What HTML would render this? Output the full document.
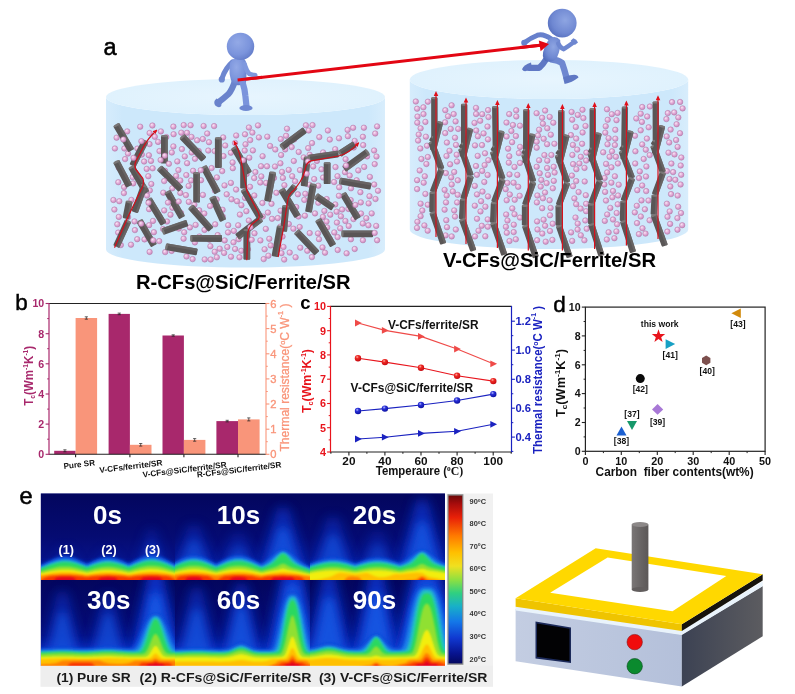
<!DOCTYPE html>
<html><head><meta charset="utf-8"><title>Figure</title>
<style>
html,body{margin:0;padding:0;background:#fff;}
body{width:795px;height:694px;overflow:hidden;font-family:"Liberation Sans",sans-serif;}
svg{display:block;font-family:"Liberation Sans",sans-serif;filter:blur(0.45px);}
</style></head><body>
<svg width="795" height="694" viewBox="0 0 795 694">
<defs>

<radialGradient id="pk" cx="0.38" cy="0.35" r="0.7">
 <stop offset="0" stop-color="#f9e6f4"/><stop offset="0.5" stop-color="#e2aad7"/><stop offset="1" stop-color="#c688ba"/>
</radialGradient>
<linearGradient id="cylbody" x1="0" x2="1" y1="0" y2="0">
 <stop offset="0" stop-color="#d6ecfc"/><stop offset="0.06" stop-color="#cde8fb"/><stop offset="0.94" stop-color="#cde8fb"/><stop offset="1" stop-color="#d8edfc"/>
</linearGradient>
<radialGradient id="cyltop" cx="0.5" cy="0.5" r="0.6">
 <stop offset="0" stop-color="#e7f5fe"/><stop offset="1" stop-color="#def1fd"/>
</radialGradient>
<radialGradient id="blu" cx="0.4" cy="0.35" r="0.75">
 <stop offset="0" stop-color="#93a9e6"/><stop offset="0.6" stop-color="#7b94dc"/><stop offset="1" stop-color="#5d76c4"/>
</radialGradient>
<radialGradient id="blu2" cx="0.6" cy="0.4" r="0.75">
 <stop offset="0" stop-color="#8ea5e2"/><stop offset="0.6" stop-color="#6f88d2"/><stop offset="1" stop-color="#4c65b6"/>
</radialGradient>
<linearGradient id="fib" x1="0" x2="1" y1="0" y2="0">
 <stop offset="0" stop-color="#6a6666"/><stop offset="0.5" stop-color="#575353"/><stop offset="1" stop-color="#4a4646"/>
</linearGradient>
<symbol id="p" viewBox="-4 -4 8 8" overflow="visible"><circle r="2.75" fill="url(#pk)" stroke="#ae74a3" stroke-width="0.5"/></symbol>

<marker id="ah" viewBox="0 0 10 10" refX="7" refY="5" markerWidth="3.6" markerHeight="3.6" orient="auto"><path d="M0,0.5 L10,5 L0,9.5 Z" fill="#e0101a"/></marker>
<marker id="ah2" viewBox="0 0 10 10" refX="6" refY="5" markerWidth="4.6" markerHeight="4.2" orient="auto"><path d="M0,0.5 L10,5 L0,9.5 Z" fill="#e0101a"/></marker>

<radialGradient id="rs" cx="0.38" cy="0.32" r="0.7"><stop offset="0" stop-color="#ffb0a8"/><stop offset="0.35" stop-color="#ee2a24"/><stop offset="1" stop-color="#c40810"/></radialGradient>
<radialGradient id="bs" cx="0.38" cy="0.32" r="0.7"><stop offset="0" stop-color="#b8bcff"/><stop offset="0.35" stop-color="#2830d8"/><stop offset="1" stop-color="#0c10a0"/></radialGradient>


<linearGradient id="navy" x1="0" x2="0" y1="0" y2="1">
 <stop offset="0" stop-color="#03065e"/><stop offset="0.5" stop-color="#050b72"/><stop offset="1" stop-color="#08189a"/>
</linearGradient>
<filter id="bl1" x="-10%" y="-10%" width="120%" height="120%"><feGaussianBlur stdDeviation="0.9"/></filter>
<filter id="bl2" x="-10%" y="-10%" width="120%" height="120%"><feGaussianBlur stdDeviation="1.8"/></filter>
<filter id="bl4" x="-30%" y="-30%" width="160%" height="160%"><feGaussianBlur stdDeviation="4"/></filter>
<filter id="bl6" x="-30%" y="-30%" width="160%" height="160%"><feGaussianBlur stdDeviation="6"/></filter>

<clipPath id="cl00"><rect x="41" y="493.5" width="134.0" height="86.5"/></clipPath>
<clipPath id="cl10"><rect x="175" y="493.5" width="135.0" height="86.5"/></clipPath>
<clipPath id="cl20"><rect x="310" y="493.5" width="135.0" height="86.5"/></clipPath>
<clipPath id="cl01"><rect x="41" y="580" width="134.0" height="86.0"/></clipPath>
<clipPath id="cl11"><rect x="175" y="580" width="135.0" height="86.0"/></clipPath>
<clipPath id="cl21"><rect x="310" y="580" width="135.0" height="86.0"/></clipPath>
<linearGradient id="cbar" x1="0" x2="0" y1="0" y2="1">
<stop offset="0" stop-color="#6e0808"/><stop offset="0.05" stop-color="#a80c0c"/><stop offset="0.13" stop-color="#e82008"/>
<stop offset="0.24" stop-color="#ff7a00"/><stop offset="0.34" stop-color="#ffc000"/><stop offset="0.42" stop-color="#f0e020"/>
<stop offset="0.50" stop-color="#90e040"/><stop offset="0.58" stop-color="#30d080"/><stop offset="0.66" stop-color="#18b0c8"/>
<stop offset="0.75" stop-color="#1478e8"/><stop offset="0.85" stop-color="#1038d0"/><stop offset="0.94" stop-color="#081490"/><stop offset="1" stop-color="#040860"/>
</linearGradient>

<linearGradient id="hside" x1="0" x2="1" y1="0" y2="0"><stop offset="0" stop-color="#3c4253"/><stop offset="1" stop-color="#5c5c60"/></linearGradient>
<linearGradient id="hfront" x1="0" x2="1" y1="0" y2="0"><stop offset="0" stop-color="#c3cde2"/><stop offset="1" stop-color="#b4c0da"/></linearGradient>
<linearGradient id="rod" x1="0" x2="1" y1="0" y2="0"><stop offset="0" stop-color="#7a7676"/><stop offset="0.5" stop-color="#6a6666"/><stop offset="1" stop-color="#5c5858"/></linearGradient>

</defs>
<g id="panelA">
<text x="103.5" y="55" font-size="23.5" font-weight="normal" fill="#000" text-anchor="start" stroke="#000" stroke-width="0.55">a</text>
<path d="M106.0,97 L106.0,249.5 A139.5,18 0 0 0 385.0,249.5 L385.0,97 A139.5,18 0 0 1 106.0,97Z" fill="url(#cylbody)"/><ellipse cx="245.5" cy="97" rx="139.5" ry="18" fill="url(#cyltop)"/>
<path d="M409.8,79.5 L409.8,229.5 A139.2,19.5 0 0 0 688.2,229.5 L688.2,79.5 A139.2,19.5 0 0 1 409.8,79.5Z" fill="url(#cylbody)"/><ellipse cx="549" cy="79.5" rx="139.2" ry="19.5" fill="url(#cyltop)"/>
<g>
<use href="#p" x="193.1" y="136.3" width="8" height="8"/><use href="#p" x="283.0" y="124.7" width="8" height="8"/><use href="#p" x="251.4" y="168.1" width="8" height="8"/><use href="#p" x="119.9" y="189.1" width="8" height="8"/><use href="#p" x="114.3" y="178.2" width="8" height="8"/><use href="#p" x="123.2" y="127.4" width="8" height="8"/><use href="#p" x="220.7" y="236.4" width="8" height="8"/><use href="#p" x="364.6" y="199.4" width="8" height="8"/><use href="#p" x="116.8" y="241.1" width="8" height="8"/><use href="#p" x="263.9" y="208.6" width="8" height="8"/><use href="#p" x="120.4" y="144.5" width="8" height="8"/><use href="#p" x="291.1" y="177.3" width="8" height="8"/><use href="#p" x="190.4" y="200.7" width="8" height="8"/><use href="#p" x="228.6" y="158.4" width="8" height="8"/><use href="#p" x="322.5" y="217.5" width="8" height="8"/><use href="#p" x="344.7" y="222.0" width="8" height="8"/><use href="#p" x="136.5" y="175.9" width="8" height="8"/><use href="#p" x="145.8" y="186.4" width="8" height="8"/><use href="#p" x="114.8" y="212.9" width="8" height="8"/><use href="#p" x="314.3" y="198.8" width="8" height="8"/><use href="#p" x="267.5" y="199.8" width="8" height="8"/><use href="#p" x="229.5" y="238.3" width="8" height="8"/><use href="#p" x="182.3" y="171.1" width="8" height="8"/><use href="#p" x="231.0" y="138.9" width="8" height="8"/><use href="#p" x="136.2" y="122.7" width="8" height="8"/><use href="#p" x="315.3" y="133.1" width="8" height="8"/><use href="#p" x="172.1" y="171.9" width="8" height="8"/><use href="#p" x="343.6" y="125.9" width="8" height="8"/><use href="#p" x="227.5" y="195.3" width="8" height="8"/><use href="#p" x="346.9" y="235.3" width="8" height="8"/><use href="#p" x="341.6" y="155.2" width="8" height="8"/><use href="#p" x="218.2" y="167.1" width="8" height="8"/><use href="#p" x="145.5" y="140.1" width="8" height="8"/><use href="#p" x="167.8" y="148.5" width="8" height="8"/><use href="#p" x="237.4" y="201.2" width="8" height="8"/><use href="#p" x="259.7" y="255.1" width="8" height="8"/><use href="#p" x="293.9" y="190.3" width="8" height="8"/><use href="#p" x="273.8" y="214.1" width="8" height="8"/><use href="#p" x="318.5" y="243.4" width="8" height="8"/><use href="#p" x="148.6" y="164.3" width="8" height="8"/><use href="#p" x="145.6" y="129.0" width="8" height="8"/><use href="#p" x="344.4" y="204.9" width="8" height="8"/><use href="#p" x="144.9" y="151.3" width="8" height="8"/><use href="#p" x="232.1" y="185.6" width="8" height="8"/><use href="#p" x="198.2" y="153.2" width="8" height="8"/><use href="#p" x="365.5" y="192.2" width="8" height="8"/><use href="#p" x="341.4" y="217.0" width="8" height="8"/><use href="#p" x="149.9" y="228.2" width="8" height="8"/><use href="#p" x="250.5" y="229.3" width="8" height="8"/><use href="#p" x="194.7" y="147.0" width="8" height="8"/><use href="#p" x="325.7" y="235.1" width="8" height="8"/><use href="#p" x="180.8" y="152.4" width="8" height="8"/><use href="#p" x="227.0" y="252.7" width="8" height="8"/><use href="#p" x="204.3" y="146.6" width="8" height="8"/><use href="#p" x="160.2" y="206.4" width="8" height="8"/><use href="#p" x="235.9" y="210.6" width="8" height="8"/><use href="#p" x="323.9" y="126.5" width="8" height="8"/><use href="#p" x="285.7" y="248.6" width="8" height="8"/><use href="#p" x="195.4" y="232.5" width="8" height="8"/><use href="#p" x="212.9" y="173.4" width="8" height="8"/><use href="#p" x="364.4" y="221.3" width="8" height="8"/><use href="#p" x="150.8" y="132.8" width="8" height="8"/><use href="#p" x="145.6" y="247.9" width="8" height="8"/><use href="#p" x="325.8" y="135.6" width="8" height="8"/><use href="#p" x="284.7" y="165.9" width="8" height="8"/><use href="#p" x="254.9" y="133.4" width="8" height="8"/><use href="#p" x="282.7" y="191.9" width="8" height="8"/><use href="#p" x="223.3" y="243.0" width="8" height="8"/><use href="#p" x="331.2" y="145.2" width="8" height="8"/><use href="#p" x="173.3" y="157.4" width="8" height="8"/><use href="#p" x="219.2" y="133.4" width="8" height="8"/><use href="#p" x="354.3" y="166.4" width="8" height="8"/><use href="#p" x="352.7" y="176.3" width="8" height="8"/><use href="#p" x="356.4" y="188.2" width="8" height="8"/><use href="#p" x="250.3" y="191.5" width="8" height="8"/><use href="#p" x="234.2" y="221.3" width="8" height="8"/><use href="#p" x="257.0" y="162.2" width="8" height="8"/><use href="#p" x="246.5" y="196.2" width="8" height="8"/><use href="#p" x="180.2" y="228.3" width="8" height="8"/><use href="#p" x="272.4" y="188.8" width="8" height="8"/><use href="#p" x="244.8" y="216.5" width="8" height="8"/><use href="#p" x="235.5" y="253.3" width="8" height="8"/><use href="#p" x="296.3" y="243.7" width="8" height="8"/><use href="#p" x="363.1" y="152.4" width="8" height="8"/><use href="#p" x="335.0" y="134.3" width="8" height="8"/><use href="#p" x="124.0" y="149.6" width="8" height="8"/><use href="#p" x="124.1" y="213.1" width="8" height="8"/><use href="#p" x="350.7" y="136.9" width="8" height="8"/><use href="#p" x="300.9" y="211.7" width="8" height="8"/><use href="#p" x="370.1" y="146.5" width="8" height="8"/><use href="#p" x="365.9" y="172.9" width="8" height="8"/><use href="#p" x="222.7" y="190.3" width="8" height="8"/><use href="#p" x="191.6" y="220.9" width="8" height="8"/><use href="#p" x="109.4" y="196.0" width="8" height="8"/><use href="#p" x="195.2" y="206.3" width="8" height="8"/><use href="#p" x="244.9" y="123.5" width="8" height="8"/><use href="#p" x="371.2" y="129.5" width="8" height="8"/><use href="#p" x="220.1" y="248.9" width="8" height="8"/><use href="#p" x="356.8" y="198.4" width="8" height="8"/><use href="#p" x="278.5" y="232.6" width="8" height="8"/><use href="#p" x="127.0" y="240.7" width="8" height="8"/><use href="#p" x="228.8" y="164.2" width="8" height="8"/><use href="#p" x="169.6" y="130.2" width="8" height="8"/><use href="#p" x="148.4" y="121.5" width="8" height="8"/><use href="#p" x="312.9" y="156.9" width="8" height="8"/><use href="#p" x="241.5" y="140.3" width="8" height="8"/><use href="#p" x="133.2" y="235.2" width="8" height="8"/><use href="#p" x="333.5" y="172.2" width="8" height="8"/><use href="#p" x="332.9" y="218.6" width="8" height="8"/><use href="#p" x="278.9" y="173.9" width="8" height="8"/><use href="#p" x="199.6" y="122.0" width="8" height="8"/><use href="#p" x="184.6" y="182.0" width="8" height="8"/><use href="#p" x="147.3" y="180.0" width="8" height="8"/><use href="#p" x="371.5" y="195.0" width="8" height="8"/><use href="#p" x="189.1" y="166.8" width="8" height="8"/><use href="#p" x="159.3" y="188.7" width="8" height="8"/><use href="#p" x="128.7" y="173.1" width="8" height="8"/><use href="#p" x="187.7" y="148.5" width="8" height="8"/><use href="#p" x="265.0" y="192.3" width="8" height="8"/><use href="#p" x="284.8" y="220.0" width="8" height="8"/><use href="#p" x="345.7" y="171.6" width="8" height="8"/><use href="#p" x="145.1" y="221.2" width="8" height="8"/><use href="#p" x="333.7" y="246.0" width="8" height="8"/><use href="#p" x="276.5" y="222.6" width="8" height="8"/><use href="#p" x="333.6" y="233.1" width="8" height="8"/><use href="#p" x="331.3" y="200.4" width="8" height="8"/><use href="#p" x="349.5" y="215.1" width="8" height="8"/><use href="#p" x="294.7" y="148.0" width="8" height="8"/><use href="#p" x="112.6" y="133.7" width="8" height="8"/><use href="#p" x="203.2" y="129.5" width="8" height="8"/><use href="#p" x="276.6" y="206.7" width="8" height="8"/><use href="#p" x="289.8" y="157.0" width="8" height="8"/><use href="#p" x="246.0" y="182.8" width="8" height="8"/><use href="#p" x="232.2" y="131.5" width="8" height="8"/><use href="#p" x="349.8" y="143.5" width="8" height="8"/><use href="#p" x="370.2" y="180.5" width="8" height="8"/><use href="#p" x="177.9" y="145.1" width="8" height="8"/><use href="#p" x="143.0" y="191.6" width="8" height="8"/><use href="#p" x="140.5" y="235.4" width="8" height="8"/><use href="#p" x="243.9" y="245.3" width="8" height="8"/><use href="#p" x="167.6" y="246.9" width="8" height="8"/><use href="#p" x="142.7" y="164.9" width="8" height="8"/><use href="#p" x="190.9" y="238.4" width="8" height="8"/><use href="#p" x="358.8" y="219.5" width="8" height="8"/><use href="#p" x="179.7" y="121.1" width="8" height="8"/><use href="#p" x="182.5" y="252.5" width="8" height="8"/><use href="#p" x="206.7" y="255.5" width="8" height="8"/><use href="#p" x="277.5" y="249.2" width="8" height="8"/><use href="#p" x="301.9" y="121.3" width="8" height="8"/><use href="#p" x="305.4" y="180.7" width="8" height="8"/><use href="#p" x="311.0" y="209.4" width="8" height="8"/><use href="#p" x="358.9" y="132.8" width="8" height="8"/><use href="#p" x="185.9" y="223.4" width="8" height="8"/><use href="#p" x="372.5" y="152.5" width="8" height="8"/><use href="#p" x="257.3" y="172.4" width="8" height="8"/><use href="#p" x="161.2" y="248.1" width="8" height="8"/><use href="#p" x="240.7" y="146.6" width="8" height="8"/><use href="#p" x="156.9" y="127.4" width="8" height="8"/><use href="#p" x="260.6" y="245.3" width="8" height="8"/><use href="#p" x="310.2" y="175.1" width="8" height="8"/><use href="#p" x="207.6" y="164.1" width="8" height="8"/><use href="#p" x="121.1" y="155.1" width="8" height="8"/><use href="#p" x="242.4" y="207.2" width="8" height="8"/><use href="#p" x="358.9" y="236.2" width="8" height="8"/><use href="#p" x="291.6" y="253.3" width="8" height="8"/><use href="#p" x="314.3" y="181.7" width="8" height="8"/><use href="#p" x="319.1" y="148.4" width="8" height="8"/><use href="#p" x="357.0" y="209.5" width="8" height="8"/><use href="#p" x="187.5" y="132.9" width="8" height="8"/><use href="#p" x="210.7" y="147.1" width="8" height="8"/><use href="#p" x="367.7" y="209.4" width="8" height="8"/><use href="#p" x="347.0" y="184.3" width="8" height="8"/><use href="#p" x="219.5" y="152.1" width="8" height="8"/><use href="#p" x="197.0" y="176.2" width="8" height="8"/><use href="#p" x="323.2" y="223.4" width="8" height="8"/><use href="#p" x="370.7" y="160.1" width="8" height="8"/><use href="#p" x="155.5" y="147.1" width="8" height="8"/><use href="#p" x="218.7" y="212.5" width="8" height="8"/><use href="#p" x="144.3" y="172.2" width="8" height="8"/><use href="#p" x="120.5" y="172.2" width="8" height="8"/><use href="#p" x="200.7" y="255.4" width="8" height="8"/><use href="#p" x="161.0" y="166.8" width="8" height="8"/><use href="#p" x="330.1" y="178.0" width="8" height="8"/><use href="#p" x="113.6" y="123.3" width="8" height="8"/><use href="#p" x="174.7" y="224.6" width="8" height="8"/><use href="#p" x="191.0" y="154.8" width="8" height="8"/><use href="#p" x="168.3" y="184.3" width="8" height="8"/><use href="#p" x="359.2" y="141.1" width="8" height="8"/><use href="#p" x="330.3" y="228.4" width="8" height="8"/><use href="#p" x="271.0" y="162.5" width="8" height="8"/><use href="#p" x="226.9" y="148.7" width="8" height="8"/><use href="#p" x="218.6" y="205.8" width="8" height="8"/><use href="#p" x="289.4" y="224.7" width="8" height="8"/><use href="#p" x="336.9" y="212.3" width="8" height="8"/><use href="#p" x="184.8" y="197.9" width="8" height="8"/><use href="#p" x="263.0" y="162.3" width="8" height="8"/><use href="#p" x="326.3" y="210.7" width="8" height="8"/><use href="#p" x="234.6" y="235.2" width="8" height="8"/><use href="#p" x="264.4" y="251.7" width="8" height="8"/><use href="#p" x="206.4" y="242.2" width="8" height="8"/><use href="#p" x="322.7" y="195.1" width="8" height="8"/><use href="#p" x="212.7" y="195.4" width="8" height="8"/><use href="#p" x="149.0" y="216.9" width="8" height="8"/><use href="#p" x="188.6" y="255.1" width="8" height="8"/><use href="#p" x="304.2" y="144.1" width="8" height="8"/><use href="#p" x="215.7" y="244.7" width="8" height="8"/><use href="#p" x="181.9" y="191.1" width="8" height="8"/><use href="#p" x="210.7" y="247.8" width="8" height="8"/><use href="#p" x="165.1" y="173.9" width="8" height="8"/><use href="#p" x="137.8" y="150.6" width="8" height="8"/><use href="#p" x="303.3" y="246.8" width="8" height="8"/><use href="#p" x="115.3" y="197.2" width="8" height="8"/><use href="#p" x="276.4" y="159.3" width="8" height="8"/><use href="#p" x="226.9" y="178.9" width="8" height="8"/><use href="#p" x="110.4" y="205.6" width="8" height="8"/><use href="#p" x="314.0" y="229.4" width="8" height="8"/><use href="#p" x="129.2" y="179.4" width="8" height="8"/><use href="#p" x="305.7" y="229.1" width="8" height="8"/><use href="#p" x="242.6" y="169.9" width="8" height="8"/><use href="#p" x="374.0" y="186.8" width="8" height="8"/><use href="#p" x="359.9" y="123.7" width="8" height="8"/><use href="#p" x="200.5" y="225.9" width="8" height="8"/><use href="#p" x="179.6" y="234.7" width="8" height="8"/><use href="#p" x="176.3" y="188.9" width="8" height="8"/><use href="#p" x="154.1" y="137.9" width="8" height="8"/><use href="#p" x="308.5" y="121.1" width="8" height="8"/><use href="#p" x="145.1" y="205.2" width="8" height="8"/><use href="#p" x="166.5" y="210.7" width="8" height="8"/><use href="#p" x="279.5" y="243.0" width="8" height="8"/><use href="#p" x="319.1" y="173.5" width="8" height="8"/><use href="#p" x="200.3" y="209.5" width="8" height="8"/><use href="#p" x="305.7" y="150.8" width="8" height="8"/><use href="#p" x="250.2" y="174.1" width="8" height="8"/><use href="#p" x="169.4" y="122.6" width="8" height="8"/><use href="#p" x="186.6" y="121.2" width="8" height="8"/><use href="#p" x="336.2" y="224.3" width="8" height="8"/><use href="#p" x="114.7" y="163.7" width="8" height="8"/><use href="#p" x="299.7" y="153.4" width="8" height="8"/><use href="#p" x="256.3" y="178.5" width="8" height="8"/><use href="#p" x="177.0" y="209.0" width="8" height="8"/><use href="#p" x="168.9" y="224.1" width="8" height="8"/><use href="#p" x="309.2" y="162.4" width="8" height="8"/><use href="#p" x="294.5" y="212.5" width="8" height="8"/><use href="#p" x="224.2" y="221.2" width="8" height="8"/><use href="#p" x="198.8" y="135.0" width="8" height="8"/><use href="#p" x="295.7" y="223.0" width="8" height="8"/><use href="#p" x="349.1" y="123.8" width="8" height="8"/><use href="#p" x="342.6" y="249.3" width="8" height="8"/><use href="#p" x="183.0" y="128.8" width="8" height="8"/><use href="#p" x="130.9" y="226.1" width="8" height="8"/><use href="#p" x="338.1" y="205.5" width="8" height="8"/><use href="#p" x="224.0" y="228.4" width="8" height="8"/><use href="#p" x="163.0" y="217.5" width="8" height="8"/><use href="#p" x="241.0" y="130.3" width="8" height="8"/><use href="#p" x="320.4" y="206.9" width="8" height="8"/><use href="#p" x="110.9" y="144.5" width="8" height="8"/><use href="#p" x="308.0" y="139.1" width="8" height="8"/><use href="#p" x="263.3" y="132.7" width="8" height="8"/><use href="#p" x="231.1" y="245.0" width="8" height="8"/><use href="#p" x="169.4" y="142.4" width="8" height="8"/><use href="#p" x="372.2" y="221.9" width="8" height="8"/><use href="#p" x="133.4" y="144.6" width="8" height="8"/><use href="#p" x="213.7" y="231.1" width="8" height="8"/><use href="#p" x="270.0" y="173.9" width="8" height="8"/><use href="#p" x="261.8" y="224.9" width="8" height="8"/><use href="#p" x="280.4" y="181.2" width="8" height="8"/><use href="#p" x="277.1" y="151.0" width="8" height="8"/><use href="#p" x="220.5" y="181.4" width="8" height="8"/><use href="#p" x="154.3" y="210.9" width="8" height="8"/><use href="#p" x="210.9" y="186.5" width="8" height="8"/><use href="#p" x="301.3" y="189.8" width="8" height="8"/><use href="#p" x="296.0" y="166.1" width="8" height="8"/><use href="#p" x="307.9" y="253.1" width="8" height="8"/><use href="#p" x="248.9" y="146.4" width="8" height="8"/><use href="#p" x="162.3" y="133.1" width="8" height="8"/><use href="#p" x="233.0" y="197.2" width="8" height="8"/><use href="#p" x="221.2" y="141.5" width="8" height="8"/><use href="#p" x="332.6" y="207.7" width="8" height="8"/><use href="#p" x="317.5" y="165.3" width="8" height="8"/><use href="#p" x="318.9" y="212.9" width="8" height="8"/><use href="#p" x="346.7" y="196.1" width="8" height="8"/><use href="#p" x="120.1" y="183.1" width="8" height="8"/><use href="#p" x="241.0" y="193.9" width="8" height="8"/><use href="#p" x="335.2" y="183.3" width="8" height="8"/><use href="#p" x="258.7" y="212.5" width="8" height="8"/><use href="#p" x="207.1" y="176.0" width="8" height="8"/><use href="#p" x="360.2" y="162.9" width="8" height="8"/><use href="#p" x="237.3" y="246.8" width="8" height="8"/><use href="#p" x="113.3" y="220.3" width="8" height="8"/><use href="#p" x="341.0" y="168.2" width="8" height="8"/><use href="#p" x="256.4" y="236.4" width="8" height="8"/><use href="#p" x="254.0" y="121.4" width="8" height="8"/><use href="#p" x="321.0" y="248.7" width="8" height="8"/><use href="#p" x="268.0" y="214.8" width="8" height="8"/><use href="#p" x="229.9" y="226.9" width="8" height="8"/><use href="#p" x="114.2" y="228.6" width="8" height="8"/><use href="#p" x="205.4" y="235.7" width="8" height="8"/><use href="#p" x="258.6" y="152.2" width="8" height="8"/><use href="#p" x="187.1" y="176.4" width="8" height="8"/><use href="#p" x="281.2" y="145.4" width="8" height="8"/><use href="#p" x="304.7" y="126.5" width="8" height="8"/><use href="#p" x="262.1" y="178.9" width="8" height="8"/><use href="#p" x="290.1" y="135.4" width="8" height="8"/><use href="#p" x="331.5" y="163.1" width="8" height="8"/><use href="#p" x="292.3" y="203.1" width="8" height="8"/><use href="#p" x="176.3" y="176.5" width="8" height="8"/><use href="#p" x="265.3" y="234.8" width="8" height="8"/><use href="#p" x="127.4" y="195.9" width="8" height="8"/><use href="#p" x="159.1" y="225.0" width="8" height="8"/><use href="#p" x="168.4" y="203.8" width="8" height="8"/>
<g transform="translate(116.2,124.7) rotate(59.8)"><rect x="0" y="-3.40" width="30.0" height="6.8" rx="1.2" fill="#5a5656"/><rect x="0" y="-3.40" width="30.0" height="2.38" rx="1" fill="#6c6868" opacity="0.8"/><ellipse cx="0.6" cy="0" rx="1.2" ry="3.40" fill="#7a7676"/></g><g transform="translate(145.4,140.9) rotate(117.6)"><rect x="0" y="-3.40" width="28.1" height="6.8" rx="1.2" fill="#5a5656"/><rect x="0" y="-3.40" width="28.1" height="2.38" rx="1" fill="#6c6868" opacity="0.8"/><ellipse cx="0.6" cy="0" rx="1.2" ry="3.40" fill="#7a7676"/></g><g transform="translate(164.4,135.5) rotate(90.0)"><rect x="0" y="-3.40" width="28.1" height="6.8" rx="1.2" fill="#5a5656"/><rect x="0" y="-3.40" width="28.1" height="2.38" rx="1" fill="#6c6868" opacity="0.8"/><ellipse cx="0.6" cy="0" rx="1.2" ry="3.40" fill="#7a7676"/></g><g transform="translate(182.0,136.5) rotate(46.3)"><rect x="0" y="-3.40" width="31.8" height="6.8" rx="1.2" fill="#5a5656"/><rect x="0" y="-3.40" width="31.8" height="2.38" rx="1" fill="#6c6868" opacity="0.8"/><ellipse cx="0.6" cy="0" rx="1.2" ry="3.40" fill="#7a7676"/></g><g transform="translate(116.2,161.4) rotate(62.4)"><rect x="0" y="-3.40" width="28.1" height="6.8" rx="1.2" fill="#5a5656"/><rect x="0" y="-3.40" width="28.1" height="2.38" rx="1" fill="#6c6868" opacity="0.8"/><ellipse cx="0.6" cy="0" rx="1.2" ry="3.40" fill="#7a7676"/></g><g transform="translate(131.3,166.8) rotate(59.9)"><rect x="0" y="-3.40" width="30.1" height="6.8" rx="1.2" fill="#5a5656"/><rect x="0" y="-3.40" width="30.1" height="2.38" rx="1" fill="#6c6868" opacity="0.8"/><ellipse cx="0.6" cy="0" rx="1.2" ry="3.40" fill="#7a7676"/></g><g transform="translate(159.4,167.9) rotate(45.0)"><rect x="0" y="-3.40" width="30.5" height="6.8" rx="1.2" fill="#5a5656"/><rect x="0" y="-3.40" width="30.5" height="2.38" rx="1" fill="#6c6868" opacity="0.8"/><ellipse cx="0.6" cy="0" rx="1.2" ry="3.40" fill="#7a7676"/></g><g transform="translate(196.6,172.5) rotate(90.0)"><rect x="0" y="-3.40" width="30.0" height="6.8" rx="1.2" fill="#5a5656"/><rect x="0" y="-3.40" width="30.0" height="2.38" rx="1" fill="#6c6868" opacity="0.8"/><ellipse cx="0.6" cy="0" rx="1.2" ry="3.40" fill="#7a7676"/></g><g transform="translate(144.3,185.2) rotate(109.8)"><rect x="0" y="-3.40" width="28.7" height="6.8" rx="1.2" fill="#5a5656"/><rect x="0" y="-3.40" width="28.7" height="2.38" rx="1" fill="#6c6868" opacity="0.8"/><ellipse cx="0.6" cy="0" rx="1.2" ry="3.40" fill="#7a7676"/></g><g transform="translate(167.4,191.7) rotate(60.4)"><rect x="0" y="-3.40" width="29.8" height="6.8" rx="1.2" fill="#5a5656"/><rect x="0" y="-3.40" width="29.8" height="2.38" rx="1" fill="#6c6868" opacity="0.8"/><ellipse cx="0.6" cy="0" rx="1.2" ry="3.40" fill="#7a7676"/></g><g transform="translate(148.6,199.2) rotate(58.8)"><rect x="0" y="-3.40" width="29.1" height="6.8" rx="1.2" fill="#5a5656"/><rect x="0" y="-3.40" width="29.1" height="2.38" rx="1" fill="#6c6868" opacity="0.8"/><ellipse cx="0.6" cy="0" rx="1.2" ry="3.40" fill="#7a7676"/></g><g transform="translate(129.2,201.4) rotate(100.8)"><rect x="0" y="-3.40" width="17.6" height="6.8" rx="1.2" fill="#5a5656"/><rect x="0" y="-3.40" width="17.6" height="2.38" rx="1" fill="#6c6868" opacity="0.8"/><ellipse cx="0.6" cy="0" rx="1.2" ry="3.40" fill="#7a7676"/></g><g transform="translate(128.1,220.8) rotate(114.7)"><rect x="0" y="-3.40" width="28.5" height="6.8" rx="1.2" fill="#5a5656"/><rect x="0" y="-3.40" width="28.5" height="2.38" rx="1" fill="#6c6868" opacity="0.8"/><ellipse cx="0.6" cy="0" rx="1.2" ry="3.40" fill="#7a7676"/></g><g transform="translate(139.5,220.8) rotate(59.8)"><rect x="0" y="-3.40" width="28.8" height="6.8" rx="1.2" fill="#5a5656"/><rect x="0" y="-3.40" width="28.8" height="2.38" rx="1" fill="#6c6868" opacity="0.8"/><ellipse cx="0.6" cy="0" rx="1.2" ry="3.40" fill="#7a7676"/></g><g transform="translate(162.6,231.6) rotate(-19.1)"><rect x="0" y="-3.40" width="26.3" height="6.8" rx="1.2" fill="#5a5656"/><rect x="0" y="-3.40" width="26.3" height="2.38" rx="1" fill="#6c6868" opacity="0.8"/><ellipse cx="0.6" cy="0" rx="1.2" ry="3.40" fill="#7a7676"/></g><g transform="translate(190.7,206.8) rotate(48.2)"><rect x="0" y="-3.40" width="30.5" height="6.8" rx="1.2" fill="#5a5656"/><rect x="0" y="-3.40" width="30.5" height="2.38" rx="1" fill="#6c6868" opacity="0.8"/><ellipse cx="0.6" cy="0" rx="1.2" ry="3.40" fill="#7a7676"/></g><g transform="translate(165.9,246.7) rotate(9.8)"><rect x="0" y="-3.40" width="31.8" height="6.8" rx="1.2" fill="#5a5656"/><rect x="0" y="-3.40" width="31.8" height="2.38" rx="1" fill="#6c6868" opacity="0.8"/><ellipse cx="0.6" cy="0" rx="1.2" ry="3.40" fill="#7a7676"/></g><g transform="translate(190.7,238.3) rotate(0.4)"><rect x="0" y="-3.40" width="31.3" height="6.8" rx="1.2" fill="#5a5656"/><rect x="0" y="-3.40" width="31.3" height="2.38" rx="1" fill="#6c6868" opacity="0.8"/><ellipse cx="0.6" cy="0" rx="1.2" ry="3.40" fill="#7a7676"/></g><g transform="translate(218.3,137.7) rotate(90.0)"><rect x="0" y="-3.40" width="30.2" height="6.8" rx="1.2" fill="#5a5656"/><rect x="0" y="-3.40" width="30.2" height="2.38" rx="1" fill="#6c6868" opacity="0.8"/><ellipse cx="0.6" cy="0" rx="1.2" ry="3.40" fill="#7a7676"/></g><g transform="translate(203.6,166.8) rotate(61.5)"><rect x="0" y="-3.40" width="29.6" height="6.8" rx="1.2" fill="#5a5656"/><rect x="0" y="-3.40" width="29.6" height="2.38" rx="1" fill="#6c6868" opacity="0.8"/><ellipse cx="0.6" cy="0" rx="1.2" ry="3.40" fill="#7a7676"/></g><g transform="translate(233.9,147.4) rotate(59.8)"><rect x="0" y="-3.40" width="30.0" height="6.8" rx="1.2" fill="#5a5656"/><rect x="0" y="-3.40" width="30.0" height="2.38" rx="1" fill="#6c6868" opacity="0.8"/><ellipse cx="0.6" cy="0" rx="1.2" ry="3.40" fill="#7a7676"/></g><g transform="translate(243.6,158.2) rotate(90.0)"><rect x="0" y="-3.40" width="30.2" height="6.8" rx="1.2" fill="#5a5656"/><rect x="0" y="-3.40" width="30.2" height="2.38" rx="1" fill="#6c6868" opacity="0.8"/><ellipse cx="0.6" cy="0" rx="1.2" ry="3.40" fill="#7a7676"/></g><g transform="translate(272.8,172.2) rotate(100.5)"><rect x="0" y="-3.40" width="29.7" height="6.8" rx="1.2" fill="#5a5656"/><rect x="0" y="-3.40" width="29.7" height="2.38" rx="1" fill="#6c6868" opacity="0.8"/><ellipse cx="0.6" cy="0" rx="1.2" ry="3.40" fill="#7a7676"/></g><g transform="translate(281.5,147.5) rotate(-36.7)"><rect x="0" y="-3.40" width="29.3" height="6.8" rx="1.2" fill="#5a5656"/><rect x="0" y="-3.40" width="29.3" height="2.38" rx="1" fill="#6c6868" opacity="0.8"/><ellipse cx="0.6" cy="0" rx="1.2" ry="3.40" fill="#7a7676"/></g><g transform="translate(212.3,197.1) rotate(65.5)"><rect x="0" y="-3.40" width="26.0" height="6.8" rx="1.2" fill="#5a5656"/><rect x="0" y="-3.40" width="26.0" height="2.38" rx="1" fill="#6c6868" opacity="0.8"/><ellipse cx="0.6" cy="0" rx="1.2" ry="3.40" fill="#7a7676"/></g><g transform="translate(243.6,189.5) rotate(59.4)"><rect x="0" y="-3.40" width="33.9" height="6.8" rx="1.2" fill="#5a5656"/><rect x="0" y="-3.40" width="33.9" height="2.38" rx="1" fill="#6c6868" opacity="0.8"/><ellipse cx="0.6" cy="0" rx="1.2" ry="3.40" fill="#7a7676"/></g><g transform="translate(260.9,218.7) rotate(142.4)"><rect x="0" y="-3.40" width="30.0" height="6.8" rx="1.2" fill="#5a5656"/><rect x="0" y="-3.40" width="30.0" height="2.38" rx="1" fill="#6c6868" opacity="0.8"/><ellipse cx="0.6" cy="0" rx="1.2" ry="3.40" fill="#7a7676"/></g><g transform="translate(246.8,229.5) rotate(90.0)"><rect x="0" y="-3.40" width="30.2" height="6.8" rx="1.2" fill="#5a5656"/><rect x="0" y="-3.40" width="30.2" height="2.38" rx="1" fill="#6c6868" opacity="0.8"/><ellipse cx="0.6" cy="0" rx="1.2" ry="3.40" fill="#7a7676"/></g><g transform="translate(281.4,189.5) rotate(59.0)"><rect x="0" y="-3.40" width="31.5" height="6.8" rx="1.2" fill="#5a5656"/><rect x="0" y="-3.40" width="31.5" height="2.38" rx="1" fill="#6c6868" opacity="0.8"/><ellipse cx="0.6" cy="0" rx="1.2" ry="3.40" fill="#7a7676"/></g><g transform="translate(295.0,186.3) rotate(130.7)"><rect x="0" y="-3.40" width="14.3" height="6.8" rx="1.2" fill="#5a5656"/><rect x="0" y="-3.40" width="14.3" height="2.38" rx="1" fill="#6c6868" opacity="0.8"/><ellipse cx="0.6" cy="0" rx="1.2" ry="3.40" fill="#7a7676"/></g><g transform="translate(285.7,205.7) rotate(94.6)"><rect x="0" y="-3.40" width="26.0" height="6.8" rx="1.2" fill="#5a5656"/><rect x="0" y="-3.40" width="26.0" height="2.38" rx="1" fill="#6c6868" opacity="0.8"/><ellipse cx="0.6" cy="0" rx="1.2" ry="3.40" fill="#7a7676"/></g><g transform="translate(280.3,226.2) rotate(100.1)"><rect x="0" y="-3.40" width="30.8" height="6.8" rx="1.2" fill="#5a5656"/><rect x="0" y="-3.40" width="30.8" height="2.38" rx="1" fill="#6c6868" opacity="0.8"/><ellipse cx="0.6" cy="0" rx="1.2" ry="3.40" fill="#7a7676"/></g><g transform="translate(307.3,157.1) rotate(96.4)"><rect x="0" y="-3.40" width="29.4" height="6.8" rx="1.2" fill="#5a5656"/><rect x="0" y="-3.40" width="29.4" height="2.38" rx="1" fill="#6c6868" opacity="0.8"/><ellipse cx="0.6" cy="0" rx="1.2" ry="3.40" fill="#7a7676"/></g><g transform="translate(308.4,158.2) rotate(-8.1)"><rect x="0" y="-3.40" width="30.5" height="6.8" rx="1.2" fill="#5a5656"/><rect x="0" y="-3.40" width="30.5" height="2.38" rx="1" fill="#6c6868" opacity="0.8"/><ellipse cx="0.6" cy="0" rx="1.2" ry="3.40" fill="#7a7676"/></g><g transform="translate(339.7,153.9) rotate(-32.7)"><rect x="0" y="-3.40" width="17.9" height="6.8" rx="1.2" fill="#5a5656"/><rect x="0" y="-3.40" width="17.9" height="2.38" rx="1" fill="#6c6868" opacity="0.8"/><ellipse cx="0.6" cy="0" rx="1.2" ry="3.40" fill="#7a7676"/></g><g transform="translate(367.8,151.7) rotate(144.0)"><rect x="0" y="-3.40" width="29.4" height="6.8" rx="1.2" fill="#5a5656"/><rect x="0" y="-3.40" width="29.4" height="2.38" rx="1" fill="#6c6868" opacity="0.8"/><ellipse cx="0.6" cy="0" rx="1.2" ry="3.40" fill="#7a7676"/></g><g transform="translate(327.1,162.5) rotate(90.0)"><rect x="0" y="-3.40" width="21.6" height="6.8" rx="1.2" fill="#5a5656"/><rect x="0" y="-3.40" width="21.6" height="2.38" rx="1" fill="#6c6868" opacity="0.8"/><ellipse cx="0.6" cy="0" rx="1.2" ry="3.40" fill="#7a7676"/></g><g transform="translate(339.7,180.9) rotate(9.8)"><rect x="0" y="-3.40" width="31.8" height="6.8" rx="1.2" fill="#5a5656"/><rect x="0" y="-3.40" width="31.8" height="2.38" rx="1" fill="#6c6868" opacity="0.8"/><ellipse cx="0.6" cy="0" rx="1.2" ry="3.40" fill="#7a7676"/></g><g transform="translate(313.3,184.1) rotate(99.9)"><rect x="0" y="-3.40" width="28.5" height="6.8" rx="1.2" fill="#5a5656"/><rect x="0" y="-3.40" width="28.5" height="2.38" rx="1" fill="#6c6868" opacity="0.8"/><ellipse cx="0.6" cy="0" rx="1.2" ry="3.40" fill="#7a7676"/></g><g transform="translate(342.9,193.8) rotate(58.8)"><rect x="0" y="-3.40" width="29.1" height="6.8" rx="1.2" fill="#5a5656"/><rect x="0" y="-3.40" width="29.1" height="2.38" rx="1" fill="#6c6868" opacity="0.8"/><ellipse cx="0.6" cy="0" rx="1.2" ry="3.40" fill="#7a7676"/></g><g transform="translate(315.9,196.0) rotate(34.5)"><rect x="0" y="-3.40" width="21.0" height="6.8" rx="1.2" fill="#5a5656"/><rect x="0" y="-3.40" width="21.0" height="2.38" rx="1" fill="#6c6868" opacity="0.8"/><ellipse cx="0.6" cy="0" rx="1.2" ry="3.40" fill="#7a7676"/></g><g transform="translate(318.1,219.8) rotate(59.8)"><rect x="0" y="-3.40" width="30.0" height="6.8" rx="1.2" fill="#5a5656"/><rect x="0" y="-3.40" width="30.0" height="2.38" rx="1" fill="#6c6868" opacity="0.8"/><ellipse cx="0.6" cy="0" rx="1.2" ry="3.40" fill="#7a7676"/></g><g transform="translate(341.8,233.8) rotate(0.0)"><rect x="0" y="-3.40" width="31.4" height="6.8" rx="1.2" fill="#5a5656"/><rect x="0" y="-3.40" width="31.4" height="2.38" rx="1" fill="#6c6868" opacity="0.8"/><ellipse cx="0.6" cy="0" rx="1.2" ry="3.40" fill="#7a7676"/></g><g transform="translate(296.5,231.6) rotate(46.5)"><rect x="0" y="-3.40" width="29.8" height="6.8" rx="1.2" fill="#5a5656"/><rect x="0" y="-3.40" width="29.8" height="2.38" rx="1" fill="#6c6868" opacity="0.8"/><ellipse cx="0.6" cy="0" rx="1.2" ry="3.40" fill="#7a7676"/></g>
<use href="#p" x="160.8" y="151.7" width="8" height="8"/><use href="#p" x="350.7" y="245.0" width="8" height="8"/><use href="#p" x="266.1" y="142.0" width="8" height="8"/><use href="#p" x="246.2" y="136.1" width="8" height="8"/><use href="#p" x="198.9" y="190.9" width="8" height="8"/><use href="#p" x="315.0" y="235.2" width="8" height="8"/><use href="#p" x="174.7" y="197.5" width="8" height="8"/><use href="#p" x="280.2" y="255.6" width="8" height="8"/><use href="#p" x="288.2" y="172.2" width="8" height="8"/><use href="#p" x="174.4" y="166.1" width="8" height="8"/><use href="#p" x="119.3" y="135.4" width="8" height="8"/><use href="#p" x="362.3" y="214.2" width="8" height="8"/><use href="#p" x="276.8" y="135.1" width="8" height="8"/><use href="#p" x="300.3" y="195.9" width="8" height="8"/><use href="#p" x="373.1" y="122.4" width="8" height="8"/><use href="#p" x="303.8" y="157.4" width="8" height="8"/><use href="#p" x="164.0" y="198.6" width="8" height="8"/><use href="#p" x="155.2" y="237.1" width="8" height="8"/><use href="#p" x="205.0" y="138.2" width="8" height="8"/><use href="#p" x="206.1" y="202.0" width="8" height="8"/><use href="#p" x="137.2" y="219.8" width="8" height="8"/><use href="#p" x="342.0" y="161.5" width="8" height="8"/><use href="#p" x="130.5" y="217.4" width="8" height="8"/><use href="#p" x="266.7" y="241.4" width="8" height="8"/><use href="#p" x="144.5" y="198.8" width="8" height="8"/><use href="#p" x="149.2" y="236.3" width="8" height="8"/><use href="#p" x="334.9" y="191.8" width="8" height="8"/><use href="#p" x="212.8" y="253.3" width="8" height="8"/><use href="#p" x="278.0" y="167.9" width="8" height="8"/><use href="#p" x="370.7" y="228.9" width="8" height="8"/><use href="#p" x="183.1" y="159.2" width="8" height="8"/><use href="#p" x="282.1" y="131.8" width="8" height="8"/><use href="#p" x="245.3" y="153.7" width="8" height="8"/><use href="#p" x="140.1" y="157.5" width="8" height="8"/><use href="#p" x="239.1" y="156.2" width="8" height="8"/><use href="#p" x="196.7" y="166.2" width="8" height="8"/><use href="#p" x="246.4" y="223.3" width="8" height="8"/><use href="#p" x="160.2" y="177.1" width="8" height="8"/><use href="#p" x="248.4" y="128.6" width="8" height="8"/><use href="#p" x="258.4" y="199.0" width="8" height="8"/><use href="#p" x="373.1" y="236.3" width="8" height="8"/><use href="#p" x="147.0" y="156.9" width="8" height="8"/><use href="#p" x="287.7" y="143.1" width="8" height="8"/><use href="#p" x="137.4" y="137.2" width="8" height="8"/><use href="#p" x="247.7" y="235.8" width="8" height="8"/><use href="#p" x="177.3" y="128.7" width="8" height="8"/><use href="#p" x="210.1" y="122.1" width="8" height="8"/><use href="#p" x="211.2" y="220.3" width="8" height="8"/><use href="#p" x="164.9" y="159.8" width="8" height="8"/><use href="#p" x="156.6" y="156.0" width="8" height="8"/><use href="#p" x="129.5" y="153.9" width="8" height="8"/><use href="#p" x="302.7" y="169.8" width="8" height="8"/><use href="#p" x="351.4" y="201.0" width="8" height="8"/><use href="#p" x="271.3" y="145.5" width="8" height="8"/><use href="#p" x="343.9" y="132.2" width="8" height="8"/>
</g>
<path d="M114.7,247.2 L128.1,216.5 L142.5,187 Q145,180 141,176 L135.6,169 Q134,165 136,161 L143.2,147.4 Q148,138 156.5,130.5" fill="none" stroke="#cf101c" stroke-width="1.25" stroke-linejoin="round" stroke-linecap="round" marker-end="url(#ah)"/>
<path d="M246.8,259.7 L247.9,232.7 Q249,226 254,222.5 L258.7,218.7 Q260,216 258,212 L246.8,190.6 L241.4,162.5 Q240,152 234.3,141.8" fill="none" stroke="#cf101c" stroke-width="1.25" stroke-linejoin="round" stroke-linecap="round" marker-end="url(#ah)"/>
<path d="M278.2,256.5 L283.6,227.3 L287.9,199.2 Q289,193.5 294,190.2 L300,182 Q303.5,177 305,170 Q306,162.5 311,160.8 L338.6,156 Q349,153.5 358.3,143.2" fill="none" stroke="#cf101c" stroke-width="1.25" stroke-linejoin="round" stroke-linecap="round" marker-end="url(#ah)"/>
<g>
<use href="#p" x="638.2" y="181.5" width="8" height="8"/><use href="#p" x="604.6" y="134.2" width="8" height="8"/><use href="#p" x="636.8" y="212.5" width="8" height="8"/><use href="#p" x="642.2" y="187.1" width="8" height="8"/><use href="#p" x="421.9" y="132.7" width="8" height="8"/><use href="#p" x="613.6" y="108.9" width="8" height="8"/><use href="#p" x="613.1" y="220.3" width="8" height="8"/><use href="#p" x="667.4" y="159.6" width="8" height="8"/><use href="#p" x="662.9" y="199.7" width="8" height="8"/><use href="#p" x="580.5" y="163.9" width="8" height="8"/><use href="#p" x="423.8" y="200.7" width="8" height="8"/><use href="#p" x="662.4" y="115.1" width="8" height="8"/><use href="#p" x="600.8" y="216.9" width="8" height="8"/><use href="#p" x="480.3" y="178.0" width="8" height="8"/><use href="#p" x="673.7" y="191.6" width="8" height="8"/><use href="#p" x="602.0" y="196.6" width="8" height="8"/><use href="#p" x="473.9" y="132.3" width="8" height="8"/><use href="#p" x="549.7" y="162.8" width="8" height="8"/><use href="#p" x="664.5" y="148.7" width="8" height="8"/><use href="#p" x="447.7" y="180.5" width="8" height="8"/><use href="#p" x="572.4" y="165.2" width="8" height="8"/><use href="#p" x="507.4" y="127.0" width="8" height="8"/><use href="#p" x="676.6" y="180.5" width="8" height="8"/><use href="#p" x="580.4" y="236.3" width="8" height="8"/><use href="#p" x="476.2" y="116.8" width="8" height="8"/><use href="#p" x="416.6" y="212.2" width="8" height="8"/><use href="#p" x="638.2" y="140.4" width="8" height="8"/><use href="#p" x="509.6" y="178.7" width="8" height="8"/><use href="#p" x="509.8" y="220.7" width="8" height="8"/><use href="#p" x="632.8" y="201.8" width="8" height="8"/><use href="#p" x="544.0" y="170.9" width="8" height="8"/><use href="#p" x="452.0" y="140.9" width="8" height="8"/><use href="#p" x="567.6" y="108.0" width="8" height="8"/><use href="#p" x="638.5" y="224.3" width="8" height="8"/><use href="#p" x="669.1" y="168.1" width="8" height="8"/><use href="#p" x="502.8" y="228.8" width="8" height="8"/><use href="#p" x="416.6" y="124.3" width="8" height="8"/><use href="#p" x="478.2" y="110.2" width="8" height="8"/><use href="#p" x="542.6" y="179.1" width="8" height="8"/><use href="#p" x="470.8" y="181.9" width="8" height="8"/><use href="#p" x="516.0" y="121.7" width="8" height="8"/><use href="#p" x="473.7" y="151.9" width="8" height="8"/><use href="#p" x="413.1" y="185.1" width="8" height="8"/><use href="#p" x="602.1" y="159.9" width="8" height="8"/><use href="#p" x="502.2" y="210.5" width="8" height="8"/><use href="#p" x="442.5" y="152.0" width="8" height="8"/><use href="#p" x="573.8" y="110.9" width="8" height="8"/><use href="#p" x="668.0" y="98.1" width="8" height="8"/><use href="#p" x="502.5" y="118.6" width="8" height="8"/><use href="#p" x="546.0" y="227.0" width="8" height="8"/><use href="#p" x="538.9" y="119.7" width="8" height="8"/><use href="#p" x="639.7" y="155.0" width="8" height="8"/><use href="#p" x="536.7" y="182.6" width="8" height="8"/><use href="#p" x="514.9" y="149.1" width="8" height="8"/><use href="#p" x="421.4" y="117.9" width="8" height="8"/><use href="#p" x="483.6" y="171.0" width="8" height="8"/><use href="#p" x="581.8" y="191.2" width="8" height="8"/><use href="#p" x="508.1" y="138.2" width="8" height="8"/><use href="#p" x="610.9" y="172.3" width="8" height="8"/><use href="#p" x="582.4" y="148.6" width="8" height="8"/><use href="#p" x="540.4" y="151.1" width="8" height="8"/><use href="#p" x="532.7" y="162.8" width="8" height="8"/><use href="#p" x="607.4" y="178.7" width="8" height="8"/><use href="#p" x="601.3" y="128.7" width="8" height="8"/><use href="#p" x="573.6" y="225.6" width="8" height="8"/><use href="#p" x="421.4" y="189.9" width="8" height="8"/><use href="#p" x="572.2" y="134.6" width="8" height="8"/><use href="#p" x="678.6" y="104.4" width="8" height="8"/><use href="#p" x="576.6" y="204.6" width="8" height="8"/><use href="#p" x="451.6" y="117.4" width="8" height="8"/><use href="#p" x="631.2" y="159.5" width="8" height="8"/><use href="#p" x="573.2" y="145.6" width="8" height="8"/><use href="#p" x="611.3" y="134.7" width="8" height="8"/><use href="#p" x="603.2" y="210.5" width="8" height="8"/><use href="#p" x="532.7" y="137.7" width="8" height="8"/><use href="#p" x="538.9" y="194.3" width="8" height="8"/><use href="#p" x="610.4" y="234.2" width="8" height="8"/><use href="#p" x="677.2" y="170.8" width="8" height="8"/><use href="#p" x="667.0" y="190.1" width="8" height="8"/><use href="#p" x="480.6" y="161.1" width="8" height="8"/><use href="#p" x="472.2" y="126.5" width="8" height="8"/><use href="#p" x="451.8" y="225.5" width="8" height="8"/><use href="#p" x="453.1" y="198.4" width="8" height="8"/><use href="#p" x="567.1" y="228.4" width="8" height="8"/><use href="#p" x="644.7" y="123.3" width="8" height="8"/><use href="#p" x="450.2" y="206.4" width="8" height="8"/><use href="#p" x="604.6" y="228.3" width="8" height="8"/><use href="#p" x="473.0" y="214.8" width="8" height="8"/><use href="#p" x="546.8" y="130.7" width="8" height="8"/><use href="#p" x="441.9" y="169.1" width="8" height="8"/><use href="#p" x="446.1" y="160.3" width="8" height="8"/><use href="#p" x="545.7" y="112.9" width="8" height="8"/><use href="#p" x="505.5" y="170.4" width="8" height="8"/><use href="#p" x="483.5" y="122.6" width="8" height="8"/><use href="#p" x="420.8" y="172.3" width="8" height="8"/><use href="#p" x="478.5" y="187.6" width="8" height="8"/><use href="#p" x="511.9" y="132.1" width="8" height="8"/><use href="#p" x="642.0" y="172.5" width="8" height="8"/><use href="#p" x="473.0" y="190.4" width="8" height="8"/><use href="#p" x="611.9" y="152.8" width="8" height="8"/><use href="#p" x="580.7" y="177.5" width="8" height="8"/><use href="#p" x="481.3" y="232.3" width="8" height="8"/><use href="#p" x="538.2" y="204.2" width="8" height="8"/><use href="#p" x="631.0" y="131.8" width="8" height="8"/><use href="#p" x="634.9" y="230.1" width="8" height="8"/><use href="#p" x="645.9" y="102.5" width="8" height="8"/><use href="#p" x="632.3" y="114.5" width="8" height="8"/><use href="#p" x="451.0" y="133.7" width="8" height="8"/><use href="#p" x="532.6" y="109.2" width="8" height="8"/><use href="#p" x="539.6" y="215.7" width="8" height="8"/><use href="#p" x="636.7" y="109.7" width="8" height="8"/><use href="#p" x="582.7" y="224.8" width="8" height="8"/><use href="#p" x="603.5" y="140.3" width="8" height="8"/><use href="#p" x="514.2" y="182.8" width="8" height="8"/><use href="#p" x="674.2" y="202.8" width="8" height="8"/><use href="#p" x="510.7" y="195.8" width="8" height="8"/><use href="#p" x="538.3" y="229.6" width="8" height="8"/><use href="#p" x="548.7" y="219.7" width="8" height="8"/><use href="#p" x="441.2" y="129.1" width="8" height="8"/><use href="#p" x="614.7" y="180.7" width="8" height="8"/><use href="#p" x="603.1" y="168.4" width="8" height="8"/><use href="#p" x="484.0" y="135.4" width="8" height="8"/><use href="#p" x="423.0" y="141.7" width="8" height="8"/><use href="#p" x="645.6" y="216.3" width="8" height="8"/><use href="#p" x="642.9" y="134.6" width="8" height="8"/><use href="#p" x="535.7" y="169.3" width="8" height="8"/><use href="#p" x="568.4" y="150.9" width="8" height="8"/><use href="#p" x="483.7" y="215.4" width="8" height="8"/><use href="#p" x="533.1" y="236.2" width="8" height="8"/><use href="#p" x="571.8" y="123.0" width="8" height="8"/><use href="#p" x="637.9" y="117.9" width="8" height="8"/><use href="#p" x="420.4" y="221.4" width="8" height="8"/><use href="#p" x="665.5" y="175.0" width="8" height="8"/><use href="#p" x="572.2" y="177.1" width="8" height="8"/><use href="#p" x="476.5" y="207.4" width="8" height="8"/><use href="#p" x="505.3" y="152.2" width="8" height="8"/><use href="#p" x="449.7" y="110.1" width="8" height="8"/><use href="#p" x="453.8" y="176.3" width="8" height="8"/><use href="#p" x="547.4" y="151.0" width="8" height="8"/><use href="#p" x="474.5" y="226.7" width="8" height="8"/><use href="#p" x="417.4" y="155.0" width="8" height="8"/><use href="#p" x="550.4" y="139.8" width="8" height="8"/><use href="#p" x="566.9" y="131.1" width="8" height="8"/><use href="#p" x="571.5" y="213.6" width="8" height="8"/><use href="#p" x="603.0" y="105.3" width="8" height="8"/><use href="#p" x="631.4" y="147.3" width="8" height="8"/><use href="#p" x="614.1" y="191.5" width="8" height="8"/><use href="#p" x="612.5" y="116.2" width="8" height="8"/><use href="#p" x="671.3" y="175.8" width="8" height="8"/><use href="#p" x="673.4" y="214.1" width="8" height="8"/><use href="#p" x="477.8" y="221.8" width="8" height="8"/><use href="#p" x="534.0" y="131.5" width="8" height="8"/><use href="#p" x="516.0" y="213.6" width="8" height="8"/><use href="#p" x="666.1" y="219.9" width="8" height="8"/><use href="#p" x="501.7" y="185.2" width="8" height="8"/><use href="#p" x="413.5" y="112.6" width="8" height="8"/><use href="#p" x="578.1" y="139.8" width="8" height="8"/><use href="#p" x="442.0" y="198.4" width="8" height="8"/><use href="#p" x="670.5" y="150.4" width="8" height="8"/><use href="#p" x="533.1" y="217.4" width="8" height="8"/><use href="#p" x="511.8" y="235.3" width="8" height="8"/><use href="#p" x="447.2" y="173.4" width="8" height="8"/><use href="#p" x="666.6" y="125.6" width="8" height="8"/><use href="#p" x="672.1" y="136.0" width="8" height="8"/><use href="#p" x="505.5" y="237.0" width="8" height="8"/><use href="#p" x="582.1" y="199.8" width="8" height="8"/><use href="#p" x="665.7" y="207.4" width="8" height="8"/><use href="#p" x="445.5" y="146.8" width="8" height="8"/><use href="#p" x="483.8" y="222.7" width="8" height="8"/><use href="#p" x="601.1" y="187.9" width="8" height="8"/><use href="#p" x="484.1" y="106.1" width="8" height="8"/><use href="#p" x="573.7" y="219.6" width="8" height="8"/><use href="#p" x="548.8" y="184.3" width="8" height="8"/><use href="#p" x="532.9" y="198.4" width="8" height="8"/><use href="#p" x="606.3" y="203.9" width="8" height="8"/><use href="#p" x="481.0" y="149.3" width="8" height="8"/><use href="#p" x="453.7" y="190.8" width="8" height="8"/><use href="#p" x="451.0" y="212.6" width="8" height="8"/><use href="#p" x="444.0" y="112.3" width="8" height="8"/><use href="#p" x="676.7" y="161.5" width="8" height="8"/><use href="#p" x="447.7" y="232.4" width="8" height="8"/><use href="#p" x="582.1" y="207.2" width="8" height="8"/><use href="#p" x="419.5" y="110.1" width="8" height="8"/><use href="#p" x="419.4" y="103.3" width="8" height="8"/><use href="#p" x="505.2" y="110.1" width="8" height="8"/><use href="#p" x="609.0" y="215.5" width="8" height="8"/><use href="#p" x="478.0" y="141.1" width="8" height="8"/><use href="#p" x="504.1" y="144.7" width="8" height="8"/><use href="#p" x="414.7" y="130.6" width="8" height="8"/><use href="#p" x="672.6" y="120.2" width="8" height="8"/><use href="#p" x="612.7" y="209.0" width="8" height="8"/><use href="#p" x="416.6" y="199.7" width="8" height="8"/><use href="#p" x="570.4" y="194.4" width="8" height="8"/><use href="#p" x="572.2" y="200.2" width="8" height="8"/><use href="#p" x="607.8" y="110.2" width="8" height="8"/><use href="#p" x="677.3" y="153.5" width="8" height="8"/><use href="#p" x="413.0" y="223.9" width="8" height="8"/><use href="#p" x="508.3" y="204.4" width="8" height="8"/><use href="#p" x="472.0" y="162.0" width="8" height="8"/><use href="#p" x="441.3" y="106.2" width="8" height="8"/><use href="#p" x="643.2" y="112.5" width="8" height="8"/><use href="#p" x="532.7" y="143.7" width="8" height="8"/><use href="#p" x="415.7" y="166.5" width="8" height="8"/><use href="#p" x="472.9" y="170.8" width="8" height="8"/><use href="#p" x="568.2" y="236.9" width="8" height="8"/><use href="#p" x="578.6" y="128.5" width="8" height="8"/><use href="#p" x="636.7" y="126.3" width="8" height="8"/><use href="#p" x="502.7" y="196.3" width="8" height="8"/><use href="#p" x="666.3" y="182.5" width="8" height="8"/><use href="#p" x="633.3" y="186.2" width="8" height="8"/><use href="#p" x="413.1" y="176.2" width="8" height="8"/><use href="#p" x="481.4" y="202.7" width="8" height="8"/><use href="#p" x="539.7" y="134.8" width="8" height="8"/><use href="#p" x="608.0" y="147.3" width="8" height="8"/><use href="#p" x="543.3" y="124.3" width="8" height="8"/><use href="#p" x="472.1" y="110.0" width="8" height="8"/><use href="#p" x="446.7" y="124.9" width="8" height="8"/><use href="#p" x="576.8" y="231.3" width="8" height="8"/><use href="#p" x="549.3" y="118.7" width="8" height="8"/><use href="#p" x="663.3" y="227.6" width="8" height="8"/><use href="#p" x="535.1" y="125.7" width="8" height="8"/><use href="#p" x="510.5" y="163.0" width="8" height="8"/><use href="#p" x="533.4" y="191.5" width="8" height="8"/><use href="#p" x="674.3" y="113.5" width="8" height="8"/><use href="#p" x="512.3" y="112.5" width="8" height="8"/><use href="#p" x="471.0" y="232.4" width="8" height="8"/><use href="#p" x="611.3" y="125.8" width="8" height="8"/><use href="#p" x="535.1" y="156.3" width="8" height="8"/><use href="#p" x="550.6" y="168.6" width="8" height="8"/><use href="#p" x="602.8" y="235.5" width="8" height="8"/><use href="#p" x="545.6" y="196.3" width="8" height="8"/><use href="#p" x="548.4" y="235.9" width="8" height="8"/><use href="#p" x="581.3" y="216.5" width="8" height="8"/><use href="#p" x="453.0" y="157.5" width="8" height="8"/><use href="#p" x="541.7" y="237.7" width="8" height="8"/><use href="#p" x="640.9" y="205.3" width="8" height="8"/><use href="#p" x="505.8" y="190.5" width="8" height="8"/><use href="#p" x="416.3" y="144.5" width="8" height="8"/><use href="#p" x="601.7" y="122.3" width="8" height="8"/><use href="#p" x="569.1" y="160.1" width="8" height="8"/><use href="#p" x="663.8" y="109.1" width="8" height="8"/><use href="#p" x="484.5" y="113.1" width="8" height="8"/><use href="#p" x="608.4" y="193.3" width="8" height="8"/><use href="#p" x="533.5" y="225.5" width="8" height="8"/><use href="#p" x="538.1" y="113.8" width="8" height="8"/><use href="#p" x="662.9" y="167.1" width="8" height="8"/><use href="#p" x="642.4" y="162.5" width="8" height="8"/><use href="#p" x="442.9" y="138.6" width="8" height="8"/><use href="#p" x="644.5" y="196.5" width="8" height="8"/><use href="#p" x="637.5" y="196.4" width="8" height="8"/><use href="#p" x="422.4" y="160.0" width="8" height="8"/><use href="#p" x="673.6" y="142.9" width="8" height="8"/><use href="#p" x="413.1" y="104.7" width="8" height="8"/><use href="#p" x="641.8" y="145.7" width="8" height="8"/><use href="#p" x="641.5" y="229.6" width="8" height="8"/><use href="#p" x="441.6" y="231.4" width="8" height="8"/><use href="#p" x="510.5" y="210.2" width="8" height="8"/><use href="#p" x="569.0" y="182.2" width="8" height="8"/><use href="#p" x="423.8" y="153.0" width="8" height="8"/><use href="#p" x="541.0" y="188.5" width="8" height="8"/><use href="#p" x="635.0" y="174.1" width="8" height="8"/><use href="#p" x="579.4" y="114.1" width="8" height="8"/><use href="#p" x="612.4" y="227.4" width="8" height="8"/><use href="#p" x="516.1" y="142.9" width="8" height="8"/><use href="#p" x="635.8" y="167.4" width="8" height="8"/><use href="#p" x="509.7" y="228.1" width="8" height="8"/><use href="#p" x="676.1" y="98.0" width="8" height="8"/><use href="#p" x="440.6" y="205.7" width="8" height="8"/><use href="#p" x="413.3" y="118.7" width="8" height="8"/><use href="#p" x="638.2" y="103.0" width="8" height="8"/><use href="#p" x="568.9" y="140.9" width="8" height="8"/><use href="#p" x="484.0" y="192.4" width="8" height="8"/><use href="#p" x="546.6" y="203.9" width="8" height="8"/><use href="#p" x="567.9" y="171.6" width="8" height="8"/><use href="#p" x="443.0" y="223.2" width="8" height="8"/><use href="#p" x="581.5" y="122.0" width="8" height="8"/><use href="#p" x="578.5" y="105.8" width="8" height="8"/><use href="#p" x="543.3" y="156.7" width="8" height="8"/><use href="#p" x="440.6" y="185.9" width="8" height="8"/><use href="#p" x="470.8" y="201.7" width="8" height="8"/><use href="#p" x="503.5" y="216.5" width="8" height="8"/><use href="#p" x="414.1" y="136.6" width="8" height="8"/><use href="#p" x="442.3" y="216.2" width="8" height="8"/><use href="#p" x="633.0" y="219.1" width="8" height="8"/><use href="#p" x="546.0" y="211.3" width="8" height="8"/><use href="#p" x="442.7" y="191.5" width="8" height="8"/><use href="#p" x="676.0" y="129.2" width="8" height="8"/><use href="#p" x="504.8" y="158.7" width="8" height="8"/><use href="#p" x="418.3" y="206.5" width="8" height="8"/><use href="#p" x="665.2" y="138.5" width="8" height="8"/><use href="#p" x="613.7" y="200.3" width="8" height="8"/><use href="#p" x="441.1" y="118.3" width="8" height="8"/><use href="#p" x="670.2" y="108.4" width="8" height="8"/><use href="#p" x="568.2" y="115.7" width="8" height="8"/><use href="#p" x="454.2" y="124.9" width="8" height="8"/><use href="#p" x="677.0" y="209.0" width="8" height="8"/><use href="#p" x="678.2" y="221.2" width="8" height="8"/><use href="#p" x="599.2" y="148.3" width="8" height="8"/><use href="#p" x="603.7" y="115.8" width="8" height="8"/><use href="#p" x="575.4" y="159.5" width="8" height="8"/><use href="#p" x="447.6" y="101.3" width="8" height="8"/><use href="#p" x="600.6" y="174.0" width="8" height="8"/><use href="#p" x="512.2" y="106.3" width="8" height="8"/><use href="#p" x="537.3" y="175.9" width="8" height="8"/><use href="#p" x="541.1" y="106.6" width="8" height="8"/><use href="#p" x="450.2" y="168.0" width="8" height="8"/><use href="#p" x="613.9" y="159.5" width="8" height="8"/><use href="#p" x="549.8" y="176.9" width="8" height="8"/><use href="#p" x="673.5" y="225.7" width="8" height="8"/><use href="#p" x="411.8" y="97.5" width="8" height="8"/><use href="#p" x="574.6" y="188.1" width="8" height="8"/><use href="#p" x="452.7" y="150.7" width="8" height="8"/><use href="#p" x="479.6" y="129.4" width="8" height="8"/><use href="#p" x="607.4" y="163.3" width="8" height="8"/><use href="#p" x="516.0" y="158.9" width="8" height="8"/><use href="#p" x="478.2" y="166.9" width="8" height="8"/><use href="#p" x="543.1" y="140.2" width="8" height="8"/><use href="#p" x="630.8" y="208.4" width="8" height="8"/><use href="#p" x="419.7" y="178.7" width="8" height="8"/><use href="#p" x="501.9" y="222.8" width="8" height="8"/><use href="#p" x="543.1" y="164.0" width="8" height="8"/><use href="#p" x="541.1" y="221.8" width="8" height="8"/><use href="#p" x="610.9" y="141.1" width="8" height="8"/><use href="#p" x="513.3" y="170.9" width="8" height="8"/><use href="#p" x="413.4" y="217.8" width="8" height="8"/><use href="#p" x="508.9" y="121.0" width="8" height="8"/><use href="#p" x="600.3" y="180.5" width="8" height="8"/><use href="#p" x="423.9" y="97.7" width="8" height="8"/><use href="#p" x="423.7" y="226.7" width="8" height="8"/><use href="#p" x="515.7" y="191.8" width="8" height="8"/><use href="#p" x="503.4" y="178.9" width="8" height="8"/><use href="#p" x="645.7" y="151.1" width="8" height="8"/><use href="#p" x="605.6" y="152.8" width="8" height="8"/><use href="#p" x="662.7" y="132.4" width="8" height="8"/><use href="#p" x="582.2" y="156.5" width="8" height="8"/><use href="#p" x="448.8" y="187.4" width="8" height="8"/><use href="#p" x="576.8" y="152.8" width="8" height="8"/><use href="#p" x="472.0" y="103.9" width="8" height="8"/><use href="#p" x="663.5" y="212.8" width="8" height="8"/><use href="#p" x="477.1" y="197.2" width="8" height="8"/><use href="#p" x="470.5" y="118.9" width="8" height="8"/><use href="#p" x="502.6" y="132.5" width="8" height="8"/><use href="#p" x="471.0" y="141.4" width="8" height="8"/><use href="#p" x="609.0" y="187.0" width="8" height="8"/><use href="#p" x="484.3" y="156.2" width="8" height="8"/>
<g transform="translate(434.3,97.5) rotate(89.9)"><rect x="0" y="-3.15" width="40.2" height="6.3" rx="1.2" fill="#5a5656"/><rect x="0" y="-3.15" width="40.2" height="2.20" rx="1" fill="#6c6868" opacity="0.8"/><ellipse cx="0.6" cy="0" rx="1.2" ry="3.15" fill="#7a7676"/></g><g transform="translate(434.4,137.7) rotate(125.1)"><rect x="0" y="-3.15" width="5.3" height="6.3" rx="1.2" fill="#5a5656"/><rect x="0" y="-3.15" width="5.3" height="2.20" rx="1" fill="#6c6868" opacity="0.8"/><ellipse cx="0.6" cy="0" rx="1.2" ry="3.15" fill="#7a7676"/></g><g transform="translate(431.3,142.0) rotate(69.5)"><rect x="0" y="-3.15" width="29.1" height="6.3" rx="1.2" fill="#5a5656"/><rect x="0" y="-3.15" width="29.1" height="2.20" rx="1" fill="#6c6868" opacity="0.8"/><ellipse cx="0.6" cy="0" rx="1.2" ry="3.15" fill="#7a7676"/></g><g transform="translate(441.5,169.2) rotate(111.1)"><rect x="0" y="-3.15" width="24.6" height="6.3" rx="1.2" fill="#5a5656"/><rect x="0" y="-3.15" width="24.6" height="2.20" rx="1" fill="#6c6868" opacity="0.8"/><ellipse cx="0.6" cy="0" rx="1.2" ry="3.15" fill="#7a7676"/></g><g transform="translate(432.7,192.2) rotate(90.8)"><rect x="0" y="-3.15" width="20.1" height="6.3" rx="1.2" fill="#5a5656"/><rect x="0" y="-3.15" width="20.1" height="2.20" rx="1" fill="#6c6868" opacity="0.8"/><ellipse cx="0.6" cy="0" rx="1.2" ry="3.15" fill="#7a7676"/></g><g transform="translate(432.4,212.3) rotate(71.0)"><rect x="0" y="-3.15" width="33.4" height="6.3" rx="1.2" fill="#5a5656"/><rect x="0" y="-3.15" width="33.4" height="2.20" rx="1" fill="#6c6868" opacity="0.8"/><ellipse cx="0.6" cy="0" rx="1.2" ry="3.15" fill="#7a7676"/></g><g transform="translate(440.2,121.9) rotate(104.5)"><rect x="0" y="-3.15" width="29.6" height="6.3" rx="1.2" fill="#5a5656"/><rect x="0" y="-3.15" width="29.6" height="2.20" rx="1" fill="#6c6868" opacity="0.8"/><ellipse cx="0.6" cy="0" rx="1.2" ry="3.15" fill="#7a7676"/></g><g transform="translate(464.1,104.0) rotate(89.9)"><rect x="0" y="-3.15" width="40.3" height="6.3" rx="1.2" fill="#5a5656"/><rect x="0" y="-3.15" width="40.3" height="2.20" rx="1" fill="#6c6868" opacity="0.8"/><ellipse cx="0.6" cy="0" rx="1.2" ry="3.15" fill="#7a7676"/></g><g transform="translate(464.2,144.3) rotate(125.4)"><rect x="0" y="-3.15" width="5.3" height="6.3" rx="1.2" fill="#5a5656"/><rect x="0" y="-3.15" width="5.3" height="2.20" rx="1" fill="#6c6868" opacity="0.8"/><ellipse cx="0.6" cy="0" rx="1.2" ry="3.15" fill="#7a7676"/></g><g transform="translate(461.1,148.6) rotate(70.5)"><rect x="0" y="-3.15" width="29.0" height="6.3" rx="1.2" fill="#5a5656"/><rect x="0" y="-3.15" width="29.0" height="2.20" rx="1" fill="#6c6868" opacity="0.8"/><ellipse cx="0.6" cy="0" rx="1.2" ry="3.15" fill="#7a7676"/></g><g transform="translate(470.8,176.0) rotate(108.2)"><rect x="0" y="-3.15" width="24.3" height="6.3" rx="1.2" fill="#5a5656"/><rect x="0" y="-3.15" width="24.3" height="2.20" rx="1" fill="#6c6868" opacity="0.8"/><ellipse cx="0.6" cy="0" rx="1.2" ry="3.15" fill="#7a7676"/></g><g transform="translate(463.2,199.0) rotate(93.5)"><rect x="0" y="-3.15" width="20.2" height="6.3" rx="1.2" fill="#5a5656"/><rect x="0" y="-3.15" width="20.2" height="2.20" rx="1" fill="#6c6868" opacity="0.8"/><ellipse cx="0.6" cy="0" rx="1.2" ry="3.15" fill="#7a7676"/></g><g transform="translate(462.0,219.2) rotate(70.2)"><rect x="0" y="-3.15" width="33.7" height="6.3" rx="1.2" fill="#5a5656"/><rect x="0" y="-3.15" width="33.7" height="2.20" rx="1" fill="#6c6868" opacity="0.8"/><ellipse cx="0.6" cy="0" rx="1.2" ry="3.15" fill="#7a7676"/></g><g transform="translate(470.2,128.5) rotate(104.4)"><rect x="0" y="-3.15" width="29.7" height="6.3" rx="1.2" fill="#5a5656"/><rect x="0" y="-3.15" width="29.7" height="2.20" rx="1" fill="#6c6868" opacity="0.8"/><ellipse cx="0.6" cy="0" rx="1.2" ry="3.15" fill="#7a7676"/></g><g transform="translate(495.2,106.5) rotate(89.2)"><rect x="0" y="-3.15" width="40.7" height="6.3" rx="1.2" fill="#5a5656"/><rect x="0" y="-3.15" width="40.7" height="2.20" rx="1" fill="#6c6868" opacity="0.8"/><ellipse cx="0.6" cy="0" rx="1.2" ry="3.15" fill="#7a7676"/></g><g transform="translate(495.8,147.2) rotate(124.0)"><rect x="0" y="-3.15" width="5.3" height="6.3" rx="1.2" fill="#5a5656"/><rect x="0" y="-3.15" width="5.3" height="2.20" rx="1" fill="#6c6868" opacity="0.8"/><ellipse cx="0.6" cy="0" rx="1.2" ry="3.15" fill="#7a7676"/></g><g transform="translate(492.8,151.6) rotate(70.5)"><rect x="0" y="-3.15" width="29.3" height="6.3" rx="1.2" fill="#5a5656"/><rect x="0" y="-3.15" width="29.3" height="2.20" rx="1" fill="#6c6868" opacity="0.8"/><ellipse cx="0.6" cy="0" rx="1.2" ry="3.15" fill="#7a7676"/></g><g transform="translate(502.6,179.2) rotate(110.4)"><rect x="0" y="-3.15" width="24.8" height="6.3" rx="1.2" fill="#5a5656"/><rect x="0" y="-3.15" width="24.8" height="2.20" rx="1" fill="#6c6868" opacity="0.8"/><ellipse cx="0.6" cy="0" rx="1.2" ry="3.15" fill="#7a7676"/></g><g transform="translate(494.0,202.5) rotate(92.5)"><rect x="0" y="-3.15" width="20.4" height="6.3" rx="1.2" fill="#5a5656"/><rect x="0" y="-3.15" width="20.4" height="2.20" rx="1" fill="#6c6868" opacity="0.8"/><ellipse cx="0.6" cy="0" rx="1.2" ry="3.15" fill="#7a7676"/></g><g transform="translate(493.1,222.9) rotate(70.6)"><rect x="0" y="-3.15" width="33.9" height="6.3" rx="1.2" fill="#5a5656"/><rect x="0" y="-3.15" width="33.9" height="2.20" rx="1" fill="#6c6868" opacity="0.8"/><ellipse cx="0.6" cy="0" rx="1.2" ry="3.15" fill="#7a7676"/></g><g transform="translate(501.6,131.2) rotate(104.3)"><rect x="0" y="-3.15" width="30.0" height="6.3" rx="1.2" fill="#5a5656"/><rect x="0" y="-3.15" width="30.0" height="2.20" rx="1" fill="#6c6868" opacity="0.8"/><ellipse cx="0.6" cy="0" rx="1.2" ry="3.15" fill="#7a7676"/></g><g transform="translate(526.3,109.5) rotate(90.2)"><rect x="0" y="-3.15" width="40.6" height="6.3" rx="1.2" fill="#5a5656"/><rect x="0" y="-3.15" width="40.6" height="2.20" rx="1" fill="#6c6868" opacity="0.8"/><ellipse cx="0.6" cy="0" rx="1.2" ry="3.15" fill="#7a7676"/></g><g transform="translate(526.2,150.1) rotate(114.6)"><rect x="0" y="-3.15" width="4.8" height="6.3" rx="1.2" fill="#5a5656"/><rect x="0" y="-3.15" width="4.8" height="2.20" rx="1" fill="#6c6868" opacity="0.8"/><ellipse cx="0.6" cy="0" rx="1.2" ry="3.15" fill="#7a7676"/></g><g transform="translate(524.2,154.4) rotate(71.8)"><rect x="0" y="-3.15" width="29.0" height="6.3" rx="1.2" fill="#5a5656"/><rect x="0" y="-3.15" width="29.0" height="2.20" rx="1" fill="#6c6868" opacity="0.8"/><ellipse cx="0.6" cy="0" rx="1.2" ry="3.15" fill="#7a7676"/></g><g transform="translate(533.2,182.0) rotate(109.6)"><rect x="0" y="-3.15" width="24.6" height="6.3" rx="1.2" fill="#5a5656"/><rect x="0" y="-3.15" width="24.6" height="2.20" rx="1" fill="#6c6868" opacity="0.8"/><ellipse cx="0.6" cy="0" rx="1.2" ry="3.15" fill="#7a7676"/></g><g transform="translate(525.0,205.2) rotate(90.0)"><rect x="0" y="-3.15" width="20.3" height="6.3" rx="1.2" fill="#5a5656"/><rect x="0" y="-3.15" width="20.3" height="2.20" rx="1" fill="#6c6868" opacity="0.8"/><ellipse cx="0.6" cy="0" rx="1.2" ry="3.15" fill="#7a7676"/></g><g transform="translate(525.0,225.5) rotate(71.2)"><rect x="0" y="-3.15" width="33.7" height="6.3" rx="1.2" fill="#5a5656"/><rect x="0" y="-3.15" width="33.7" height="2.20" rx="1" fill="#6c6868" opacity="0.8"/><ellipse cx="0.6" cy="0" rx="1.2" ry="3.15" fill="#7a7676"/></g><g transform="translate(532.5,134.2) rotate(104.3)"><rect x="0" y="-3.15" width="29.9" height="6.3" rx="1.2" fill="#5a5656"/><rect x="0" y="-3.15" width="29.9" height="2.20" rx="1" fill="#6c6868" opacity="0.8"/><ellipse cx="0.6" cy="0" rx="1.2" ry="3.15" fill="#7a7676"/></g><g transform="translate(561.2,110.5) rotate(90.0)"><rect x="0" y="-3.15" width="40.3" height="6.3" rx="1.2" fill="#5a5656"/><rect x="0" y="-3.15" width="40.3" height="2.20" rx="1" fill="#6c6868" opacity="0.8"/><ellipse cx="0.6" cy="0" rx="1.2" ry="3.15" fill="#7a7676"/></g><g transform="translate(561.1,150.8) rotate(129.6)"><rect x="0" y="-3.15" width="5.6" height="6.3" rx="1.2" fill="#5a5656"/><rect x="0" y="-3.15" width="5.6" height="2.20" rx="1" fill="#6c6868" opacity="0.8"/><ellipse cx="0.6" cy="0" rx="1.2" ry="3.15" fill="#7a7676"/></g><g transform="translate(557.6,155.1) rotate(70.3)"><rect x="0" y="-3.15" width="29.1" height="6.3" rx="1.2" fill="#5a5656"/><rect x="0" y="-3.15" width="29.1" height="2.20" rx="1" fill="#6c6868" opacity="0.8"/><ellipse cx="0.6" cy="0" rx="1.2" ry="3.15" fill="#7a7676"/></g><g transform="translate(567.3,182.5) rotate(110.7)"><rect x="0" y="-3.15" width="24.6" height="6.3" rx="1.2" fill="#5a5656"/><rect x="0" y="-3.15" width="24.6" height="2.20" rx="1" fill="#6c6868" opacity="0.8"/><ellipse cx="0.6" cy="0" rx="1.2" ry="3.15" fill="#7a7676"/></g><g transform="translate(558.6,205.5) rotate(89.5)"><rect x="0" y="-3.15" width="20.2" height="6.3" rx="1.2" fill="#5a5656"/><rect x="0" y="-3.15" width="20.2" height="2.20" rx="1" fill="#6c6868" opacity="0.8"/><ellipse cx="0.6" cy="0" rx="1.2" ry="3.15" fill="#7a7676"/></g><g transform="translate(558.8,225.7) rotate(70.9)"><rect x="0" y="-3.15" width="33.5" height="6.3" rx="1.2" fill="#5a5656"/><rect x="0" y="-3.15" width="33.5" height="2.20" rx="1" fill="#6c6868" opacity="0.8"/><ellipse cx="0.6" cy="0" rx="1.2" ry="3.15" fill="#7a7676"/></g><g transform="translate(566.6,135.0) rotate(104.4)"><rect x="0" y="-3.15" width="29.7" height="6.3" rx="1.2" fill="#5a5656"/><rect x="0" y="-3.15" width="29.7" height="2.20" rx="1" fill="#6c6868" opacity="0.8"/><ellipse cx="0.6" cy="0" rx="1.2" ry="3.15" fill="#7a7676"/></g><g transform="translate(592.7,108.5) rotate(89.9)"><rect x="0" y="-3.15" width="40.5" height="6.3" rx="1.2" fill="#5a5656"/><rect x="0" y="-3.15" width="40.5" height="2.20" rx="1" fill="#6c6868" opacity="0.8"/><ellipse cx="0.6" cy="0" rx="1.2" ry="3.15" fill="#7a7676"/></g><g transform="translate(592.8,149.0) rotate(119.0)"><rect x="0" y="-3.15" width="5.0" height="6.3" rx="1.2" fill="#5a5656"/><rect x="0" y="-3.15" width="5.0" height="2.20" rx="1" fill="#6c6868" opacity="0.8"/><ellipse cx="0.6" cy="0" rx="1.2" ry="3.15" fill="#7a7676"/></g><g transform="translate(590.4,153.3) rotate(70.6)"><rect x="0" y="-3.15" width="29.1" height="6.3" rx="1.2" fill="#5a5656"/><rect x="0" y="-3.15" width="29.1" height="2.20" rx="1" fill="#6c6868" opacity="0.8"/><ellipse cx="0.6" cy="0" rx="1.2" ry="3.15" fill="#7a7676"/></g><g transform="translate(600.0,180.8) rotate(111.1)"><rect x="0" y="-3.15" width="24.8" height="6.3" rx="1.2" fill="#5a5656"/><rect x="0" y="-3.15" width="24.8" height="2.20" rx="1" fill="#6c6868" opacity="0.8"/><ellipse cx="0.6" cy="0" rx="1.2" ry="3.15" fill="#7a7676"/></g><g transform="translate(591.1,203.9) rotate(89.7)"><rect x="0" y="-3.15" width="20.2" height="6.3" rx="1.2" fill="#5a5656"/><rect x="0" y="-3.15" width="20.2" height="2.20" rx="1" fill="#6c6868" opacity="0.8"/><ellipse cx="0.6" cy="0" rx="1.2" ry="3.15" fill="#7a7676"/></g><g transform="translate(591.2,224.1) rotate(71.9)"><rect x="0" y="-3.15" width="33.4" height="6.3" rx="1.2" fill="#5a5656"/><rect x="0" y="-3.15" width="33.4" height="2.20" rx="1" fill="#6c6868" opacity="0.8"/><ellipse cx="0.6" cy="0" rx="1.2" ry="3.15" fill="#7a7676"/></g><g transform="translate(598.8,133.1) rotate(104.4)"><rect x="0" y="-3.15" width="29.8" height="6.3" rx="1.2" fill="#5a5656"/><rect x="0" y="-3.15" width="29.8" height="2.20" rx="1" fill="#6c6868" opacity="0.8"/><ellipse cx="0.6" cy="0" rx="1.2" ry="3.15" fill="#7a7676"/></g><g transform="translate(624.9,106.9) rotate(90.8)"><rect x="0" y="-3.15" width="39.9" height="6.3" rx="1.2" fill="#5a5656"/><rect x="0" y="-3.15" width="39.9" height="2.20" rx="1" fill="#6c6868" opacity="0.8"/><ellipse cx="0.6" cy="0" rx="1.2" ry="3.15" fill="#7a7676"/></g><g transform="translate(624.3,146.8) rotate(123.0)"><rect x="0" y="-3.15" width="5.1" height="6.3" rx="1.2" fill="#5a5656"/><rect x="0" y="-3.15" width="5.1" height="2.20" rx="1" fill="#6c6868" opacity="0.8"/><ellipse cx="0.6" cy="0" rx="1.2" ry="3.15" fill="#7a7676"/></g><g transform="translate(621.5,151.1) rotate(68.7)"><rect x="0" y="-3.15" width="29.1" height="6.3" rx="1.2" fill="#5a5656"/><rect x="0" y="-3.15" width="29.1" height="2.20" rx="1" fill="#6c6868" opacity="0.8"/><ellipse cx="0.6" cy="0" rx="1.2" ry="3.15" fill="#7a7676"/></g><g transform="translate(632.1,178.2) rotate(110.7)"><rect x="0" y="-3.15" width="24.4" height="6.3" rx="1.2" fill="#5a5656"/><rect x="0" y="-3.15" width="24.4" height="2.20" rx="1" fill="#6c6868" opacity="0.8"/><ellipse cx="0.6" cy="0" rx="1.2" ry="3.15" fill="#7a7676"/></g><g transform="translate(623.5,201.0) rotate(91.8)"><rect x="0" y="-3.15" width="20.0" height="6.3" rx="1.2" fill="#5a5656"/><rect x="0" y="-3.15" width="20.0" height="2.20" rx="1" fill="#6c6868" opacity="0.8"/><ellipse cx="0.6" cy="0" rx="1.2" ry="3.15" fill="#7a7676"/></g><g transform="translate(622.9,221.0) rotate(72.0)"><rect x="0" y="-3.15" width="33.0" height="6.3" rx="1.2" fill="#5a5656"/><rect x="0" y="-3.15" width="33.0" height="2.20" rx="1" fill="#6c6868" opacity="0.8"/><ellipse cx="0.6" cy="0" rx="1.2" ry="3.15" fill="#7a7676"/></g><g transform="translate(630.6,131.1) rotate(104.5)"><rect x="0" y="-3.15" width="29.5" height="6.3" rx="1.2" fill="#5a5656"/><rect x="0" y="-3.15" width="29.5" height="2.20" rx="1" fill="#6c6868" opacity="0.8"/><ellipse cx="0.6" cy="0" rx="1.2" ry="3.15" fill="#7a7676"/></g><g transform="translate(655.7,101.8) rotate(89.8)"><rect x="0" y="-3.15" width="39.5" height="6.3" rx="1.2" fill="#5a5656"/><rect x="0" y="-3.15" width="39.5" height="2.20" rx="1" fill="#6c6868" opacity="0.8"/><ellipse cx="0.6" cy="0" rx="1.2" ry="3.15" fill="#7a7676"/></g><g transform="translate(655.9,141.3) rotate(122.1)"><rect x="0" y="-3.15" width="5.0" height="6.3" rx="1.2" fill="#5a5656"/><rect x="0" y="-3.15" width="5.0" height="2.20" rx="1" fill="#6c6868" opacity="0.8"/><ellipse cx="0.6" cy="0" rx="1.2" ry="3.15" fill="#7a7676"/></g><g transform="translate(653.2,145.6) rotate(70.1)"><rect x="0" y="-3.15" width="28.5" height="6.3" rx="1.2" fill="#5a5656"/><rect x="0" y="-3.15" width="28.5" height="2.20" rx="1" fill="#6c6868" opacity="0.8"/><ellipse cx="0.6" cy="0" rx="1.2" ry="3.15" fill="#7a7676"/></g><g transform="translate(663.0,172.4) rotate(110.2)"><rect x="0" y="-3.15" width="24.1" height="6.3" rx="1.2" fill="#5a5656"/><rect x="0" y="-3.15" width="24.1" height="2.20" rx="1" fill="#6c6868" opacity="0.8"/><ellipse cx="0.6" cy="0" rx="1.2" ry="3.15" fill="#7a7676"/></g><g transform="translate(654.7,195.0) rotate(92.9)"><rect x="0" y="-3.15" width="19.8" height="6.3" rx="1.2" fill="#5a5656"/><rect x="0" y="-3.15" width="19.8" height="2.20" rx="1" fill="#6c6868" opacity="0.8"/><ellipse cx="0.6" cy="0" rx="1.2" ry="3.15" fill="#7a7676"/></g><g transform="translate(653.6,214.8) rotate(70.0)"><rect x="0" y="-3.15" width="33.1" height="6.3" rx="1.2" fill="#5a5656"/><rect x="0" y="-3.15" width="33.1" height="2.20" rx="1" fill="#6c6868" opacity="0.8"/><ellipse cx="0.6" cy="0" rx="1.2" ry="3.15" fill="#7a7676"/></g><g transform="translate(662.2,125.8) rotate(104.7)"><rect x="0" y="-3.15" width="29.2" height="6.3" rx="1.2" fill="#5a5656"/><rect x="0" y="-3.15" width="29.2" height="2.20" rx="1" fill="#6c6868" opacity="0.8"/><ellipse cx="0.6" cy="0" rx="1.2" ry="3.15" fill="#7a7676"/></g>
<path d="M436,237 L436,93" fill="none" stroke="#d8101c" stroke-width="1.2" marker-end="url(#ah2)"/>
<path d="M466,244 L466,99.5" fill="none" stroke="#d8101c" stroke-width="1.2" marker-end="url(#ah2)"/>
<path d="M497.4,248 L497.4,102" fill="none" stroke="#d8101c" stroke-width="1.2" marker-end="url(#ah2)"/>
<path d="M528.3,250.5 L528.3,105" fill="none" stroke="#d8101c" stroke-width="1.2" marker-end="url(#ah2)"/>
<path d="M562.4,250.5 L562.4,106" fill="none" stroke="#d8101c" stroke-width="1.2" marker-end="url(#ah2)"/>
<path d="M594.6,249 L594.6,104" fill="none" stroke="#d8101c" stroke-width="1.2" marker-end="url(#ah2)"/>
<path d="M626.4,245.5 L626.4,102.4" fill="none" stroke="#d8101c" stroke-width="1.2" marker-end="url(#ah2)"/>
<path d="M658,239 L658,97.3" fill="none" stroke="#d8101c" stroke-width="1.2" marker-end="url(#ah2)"/>
</g>
<text x="136" y="288.6" font-size="20" font-weight="bold" fill="#000" text-anchor="start" textLength="214.5" lengthAdjust="spacingAndGlyphs" >R-CFs@SiC/Ferrite/SR</text>
<text x="443" y="266.5" font-size="20" font-weight="bold" fill="#000" text-anchor="start" textLength="213" lengthAdjust="spacingAndGlyphs" >V-CFs@SiC/Ferrite/SR</text>
<path d="M237.6,80.1 L540,45.3" stroke="#e30613" stroke-width="3" fill="none"/>
<g id="fig1">
<path d="M232.5,62 Q225.5,68 222.3,77.5" stroke="#6e87d0" stroke-width="5" fill="none" stroke-linecap="round"/>
<circle cx="221.8" cy="79.4" r="3.1" fill="#6e87d0"/>
<path d="M235,81 Q232,90 228.5,94 Q223,99 218.5,102.2" stroke="#6a83cc" stroke-width="6.2" fill="none" stroke-linecap="round"/>
<path d="M216.5,98.5 Q212.5,102 215.5,105.8 Q219,108.5 221.2,106 Q222.5,103 220.5,100.5 Z" fill="#6a83cc"/>
<path d="M230,63 Q234,56 243,58 Q247.5,60.5 246.8,70 L246,82.5 Q240,87 232.5,84 Q228,74 230,63Z" fill="url(#blu)"/>
<path d="M242.5,82 Q245,90 245.4,96 L246.4,105.5" stroke="#7b94dc" stroke-width="6.2" fill="none" stroke-linecap="round"/>
<ellipse cx="246" cy="108" rx="6.6" ry="3" fill="#6f88d2"/>
<path d="M244.5,64 Q246.5,71 249.5,74 L254,75.3" stroke="#7f98de" stroke-width="4.6" fill="none" stroke-linecap="round"/>
<circle cx="254.8" cy="75.4" r="2.7" fill="#7f98de"/>
<circle cx="240.5" cy="46.4" r="13.7" fill="url(#blu)"/>
</g>
<path d="M237.6,80.1 L262,77.3" stroke="#e30613" stroke-width="3" fill="none"/>
<g id="fig2">
<path d="M551,38.8 Q543,33.2 537.5,35.2 Q530,38.2 525.5,42" stroke="#6780cc" stroke-width="5" fill="none" stroke-linecap="round"/>
<circle cx="524.2" cy="42.8" r="3" fill="#6780cc"/>
<path d="M547,58 Q543,64.5 539.3,67.8 L529,67.8" stroke="#5f78c4" stroke-width="6.2" fill="none" stroke-linecap="round" stroke-linejoin="round"/>
<path d="M531,62.5 Q524,64.5 522,69.3 Q523.5,72 527,70.8 L532,68.5Z" fill="#5f78c4"/>
<path d="M552,59.5 Q558,60 562,62.8 Q564.5,70 566.3,77" stroke="#6e87d0" stroke-width="6.4" fill="none" stroke-linecap="round" stroke-linejoin="round"/>
<path d="M563,77.5 L564.6,84 Q572,82.5 578.5,77.5 Q577.5,74 572,75 L568.5,75.6Z" fill="#5f78c4"/>
<path d="M550,38 Q556,35 560.2,40 Q561,49 557,57.5 Q552.5,63.5 545.5,61 Q540.8,56.5 544.4,48 Q546.5,42 550,38Z" fill="url(#blu2)"/>
<path d="M558.2,43.5 Q560.2,47.8 563.7,49.2 Q569,45.8 573,42.8" stroke="#6e87d0" stroke-width="4.4" fill="none" stroke-linecap="round" stroke-linejoin="round"/>
<path d="M570.6,40.8 L573.3,38.3 L576.2,39.8 L578,42.6 L574.8,45 Z" fill="#6e87d0"/>
<circle cx="562.2" cy="23.1" r="14.4" fill="url(#blu2)"/>
</g>
<path d="M520,47.6 L540.5,45.25" stroke="#e30613" stroke-width="3" fill="none"/>
<path d="M549,43.9 L538.8,40.6 L540.6,51.2 Z" fill="#e30613"/>
</g>
<g id="panelB">
<text x="15.2" y="310.2" font-size="22.5" font-weight="normal" fill="#000" text-anchor="start" stroke="#000" stroke-width="0.45">b</text>
<rect x="54.2" y="450.8" width="21.4" height="3.5" fill="#a8286c"/>
<path d="M64.9,449.8 V451.8 M63.300000000000004,449.8 H66.5 M63.300000000000004,451.8 H66.5" stroke="#222" stroke-width="0.7" fill="none"/>
<rect x="75.6" y="318" width="21.5" height="136.3" fill="#f9957a"/>
<path d="M86.35,316.8 V319.2 M84.75,316.8 H87.94999999999999 M84.75,319.2 H87.94999999999999" stroke="#222" stroke-width="0.7" fill="none"/>
<rect x="108.6" y="313.9" width="21.3" height="140.4" fill="#a8286c"/>
<path d="M119.25,313.09999999999997 V314.7 M117.65,313.09999999999997 H120.85 M117.65,314.7 H120.85" stroke="#222" stroke-width="0.7" fill="none"/>
<rect x="129.9" y="444.8" width="21.6" height="9.5" fill="#f9957a"/>
<path d="M140.7,443.5 V446.1 M139.1,443.5 H142.29999999999998 M139.1,446.1 H142.29999999999998" stroke="#222" stroke-width="0.7" fill="none"/>
<rect x="162.5" y="335.5" width="21.4" height="118.8" fill="#a8286c"/>
<path d="M173.2,334.8 V336.2 M171.6,334.8 H174.79999999999998 M171.6,336.2 H174.79999999999998" stroke="#222" stroke-width="0.7" fill="none"/>
<rect x="183.9" y="439.9" width="21.5" height="14.4" fill="#f9957a"/>
<path d="M194.65,438.59999999999997 V441.2 M193.05,438.59999999999997 H196.25 M193.05,441.2 H196.25" stroke="#222" stroke-width="0.7" fill="none"/>
<rect x="216.4" y="421.1" width="21.6" height="33.2" fill="#a8286c"/>
<path d="M227.2,420.3 V421.90000000000003 M225.6,420.3 H228.79999999999998 M225.6,421.90000000000003 H228.79999999999998" stroke="#222" stroke-width="0.7" fill="none"/>
<rect x="238" y="419.4" width="21.6" height="34.9" fill="#f9957a"/>
<path d="M248.8,417.9 V420.9 M247.20000000000002,417.9 H250.4 M247.20000000000002,420.9 H250.4" stroke="#222" stroke-width="0.7" fill="none"/>
<path d="M49,303.5 H266" stroke="#222" stroke-width="1.1"/>
<path d="M49,454.3 H266" stroke="#222" stroke-width="1.1"/>
<path d="M49,303.0 V454.8" stroke="#a8286c" stroke-width="1.2"/>
<path d="M266,303.0 V454.8" stroke="#f9957a" stroke-width="1.1"/>
<path d="M45.6,454.3 H49" stroke="#a8286c" stroke-width="1.1"/>
<text x="44.2" y="458.1" font-size="10.6" font-weight="bold" fill="#a8286c" text-anchor="end" >0</text>
<path d="M47.2,439.2 H49" stroke="#a8286c" stroke-width="1"/>
<path d="M45.6,424.1 H49" stroke="#a8286c" stroke-width="1.1"/>
<text x="44.2" y="427.9" font-size="10.6" font-weight="bold" fill="#a8286c" text-anchor="end" >2</text>
<path d="M47.2,409.1 H49" stroke="#a8286c" stroke-width="1"/>
<path d="M45.6,394.0 H49" stroke="#a8286c" stroke-width="1.1"/>
<text x="44.2" y="397.8" font-size="10.6" font-weight="bold" fill="#a8286c" text-anchor="end" >4</text>
<path d="M47.2,378.9 H49" stroke="#a8286c" stroke-width="1"/>
<path d="M45.6,363.8 H49" stroke="#a8286c" stroke-width="1.1"/>
<text x="44.2" y="367.6" font-size="10.6" font-weight="bold" fill="#a8286c" text-anchor="end" >6</text>
<path d="M47.2,348.7 H49" stroke="#a8286c" stroke-width="1"/>
<path d="M45.6,333.7 H49" stroke="#a8286c" stroke-width="1.1"/>
<text x="44.2" y="337.5" font-size="10.6" font-weight="bold" fill="#a8286c" text-anchor="end" >8</text>
<path d="M47.2,318.6 H49" stroke="#a8286c" stroke-width="1"/>
<path d="M45.6,303.5 H49" stroke="#a8286c" stroke-width="1.1"/>
<text x="44.2" y="307.3" font-size="10.6" font-weight="bold" fill="#a8286c" text-anchor="end" >10</text>
<path d="M266,454.3 H269.4" stroke="#f9957a" stroke-width="1.1"/>
<text x="270.2" y="458.3" font-size="11.2" font-weight="normal" fill="#f9957a" text-anchor="start" stroke="#f9957a" stroke-width="0.35">0</text>
<path d="M266,441.7 H267.8" stroke="#f9957a" stroke-width="1"/>
<path d="M266,429.2 H269.4" stroke="#f9957a" stroke-width="1.1"/>
<text x="270.2" y="433.2" font-size="11.2" font-weight="normal" fill="#f9957a" text-anchor="start" stroke="#f9957a" stroke-width="0.35">1</text>
<path d="M266,416.6 H267.8" stroke="#f9957a" stroke-width="1"/>
<path d="M266,404.0 H269.4" stroke="#f9957a" stroke-width="1.1"/>
<text x="270.2" y="408.0" font-size="11.2" font-weight="normal" fill="#f9957a" text-anchor="start" stroke="#f9957a" stroke-width="0.35">2</text>
<path d="M266,391.5 H267.8" stroke="#f9957a" stroke-width="1"/>
<path d="M266,378.9 H269.4" stroke="#f9957a" stroke-width="1.1"/>
<text x="270.2" y="382.9" font-size="11.2" font-weight="normal" fill="#f9957a" text-anchor="start" stroke="#f9957a" stroke-width="0.35">3</text>
<path d="M266,366.3 H267.8" stroke="#f9957a" stroke-width="1"/>
<path d="M266,353.8 H269.4" stroke="#f9957a" stroke-width="1.1"/>
<text x="270.2" y="357.8" font-size="11.2" font-weight="normal" fill="#f9957a" text-anchor="start" stroke="#f9957a" stroke-width="0.35">4</text>
<path d="M266,341.2 H267.8" stroke="#f9957a" stroke-width="1"/>
<path d="M266,328.6 H269.4" stroke="#f9957a" stroke-width="1.1"/>
<text x="270.2" y="332.6" font-size="11.2" font-weight="normal" fill="#f9957a" text-anchor="start" stroke="#f9957a" stroke-width="0.35">5</text>
<path d="M266,316.1 H267.8" stroke="#f9957a" stroke-width="1"/>
<path d="M266,303.5 H269.4" stroke="#f9957a" stroke-width="1.1"/>
<text x="270.2" y="307.5" font-size="11.2" font-weight="normal" fill="#f9957a" text-anchor="start" stroke="#f9957a" stroke-width="0.35">6</text>
<path d="M75.6,454.3 V457.3" stroke="#222" stroke-width="1.1"/>
<path d="M129.9,454.3 V457.3" stroke="#222" stroke-width="1.1"/>
<path d="M183.9,454.3 V457.3" stroke="#222" stroke-width="1.1"/>
<path d="M238,454.3 V457.3" stroke="#222" stroke-width="1.1"/>
<g transform="translate(33.2,375.8) rotate(-90)"><text text-anchor="middle" font-size="13" font-weight="bold" fill="#a8286c" textLength="60" lengthAdjust="spacingAndGlyphs">T<tspan font-size="7.5" dy="2">c</tspan><tspan dy="-2">(Wm</tspan><tspan font-size="7.5" dy="-5">-1</tspan><tspan dy="5">K</tspan><tspan font-size="7.5" dy="-5">-1</tspan><tspan dy="5">)</tspan></text></g>
<g transform="translate(288.6,377.5) rotate(-90)"><text text-anchor="middle" font-size="12.5" font-weight="normal" stroke="#f9957a" stroke-width="0.3" fill="#f9957a" textLength="148" lengthAdjust="spacingAndGlyphs">Thermal resistance(<tspan font-size="7.5" dy="-4">o</tspan><tspan dy="4">C W</tspan><tspan font-size="7.5" dy="-6">-1</tspan><tspan dy="6"> )</tspan></text></g>
<g transform="translate(95.2,465.2) rotate(-7)"><text text-anchor="end" font-size="8.2" font-weight="bold" fill="#111" textLength="31.5" lengthAdjust="spacingAndGlyphs">Pure SR</text></g>
<g transform="translate(162.8,465.3) rotate(-7)"><text text-anchor="end" font-size="8.2" font-weight="bold" fill="#111" textLength="63.5" lengthAdjust="spacingAndGlyphs">V-CFs/ferrite/SR</text></g>
<g transform="translate(226.8,467.2) rotate(-7)"><text text-anchor="end" font-size="8.2" font-weight="bold" fill="#111" textLength="84.5" lengthAdjust="spacingAndGlyphs">V-CFs@SiC/ferrite/SR</text></g>
<g transform="translate(281.6,467.2) rotate(-7)"><text text-anchor="end" font-size="8.2" font-weight="bold" fill="#111" textLength="85" lengthAdjust="spacingAndGlyphs">R-CFs@SiC/ferrite/SR</text></g>
</g>
<g id="panelC">
<text x="300.3" y="308.9" font-size="18.5" font-weight="bold" fill="#000" text-anchor="start" >c</text>
<path d="M330.5,306.4 H511.5" stroke="#222" stroke-width="1.1"/>
<path d="M330.5,452 H511.5" stroke="#222" stroke-width="1.1"/>
<path d="M330.5,305.9 V452.5" stroke="#e8141c" stroke-width="1.2"/>
<path d="M511.5,305.9 V452.5" stroke="#1a22c0" stroke-width="1.2"/>
<path d="M327.1,452.0 H330.5" stroke="#e8141c" stroke-width="1.1"/>
<text x="326" y="455.9" font-size="10.8" font-weight="bold" fill="#e8141c" text-anchor="end" >4</text>
<path d="M328.7,439.9 H330.5" stroke="#e8141c" stroke-width="1"/>
<path d="M327.1,427.7 H330.5" stroke="#e8141c" stroke-width="1.1"/>
<text x="326" y="431.6" font-size="10.8" font-weight="bold" fill="#e8141c" text-anchor="end" >5</text>
<path d="M328.7,415.6 H330.5" stroke="#e8141c" stroke-width="1"/>
<path d="M327.1,403.5 H330.5" stroke="#e8141c" stroke-width="1.1"/>
<text x="326" y="407.4" font-size="10.8" font-weight="bold" fill="#e8141c" text-anchor="end" >6</text>
<path d="M328.7,391.3 H330.5" stroke="#e8141c" stroke-width="1"/>
<path d="M327.1,379.2 H330.5" stroke="#e8141c" stroke-width="1.1"/>
<text x="326" y="383.1" font-size="10.8" font-weight="bold" fill="#e8141c" text-anchor="end" >7</text>
<path d="M328.7,367.1 H330.5" stroke="#e8141c" stroke-width="1"/>
<path d="M327.1,354.9 H330.5" stroke="#e8141c" stroke-width="1.1"/>
<text x="326" y="358.8" font-size="10.8" font-weight="bold" fill="#e8141c" text-anchor="end" >8</text>
<path d="M328.7,342.8 H330.5" stroke="#e8141c" stroke-width="1"/>
<path d="M327.1,330.7 H330.5" stroke="#e8141c" stroke-width="1.1"/>
<text x="326" y="334.6" font-size="10.8" font-weight="bold" fill="#e8141c" text-anchor="end" >9</text>
<path d="M328.7,318.5 H330.5" stroke="#e8141c" stroke-width="1"/>
<path d="M327.1,306.4 H330.5" stroke="#e8141c" stroke-width="1.1"/>
<text x="326" y="310.3" font-size="10.8" font-weight="bold" fill="#e8141c" text-anchor="end" >10</text>
<path d="M511.5,321.2 H514.9" stroke="#1a22c0" stroke-width="1.1"/>
<text x="515.4" y="325.2" font-size="11.2" font-weight="bold" fill="#1a22c0" text-anchor="start" >1.2</text>
<path d="M511.5,350.1 H514.9" stroke="#1a22c0" stroke-width="1.1"/>
<text x="515.4" y="354.1" font-size="11.2" font-weight="bold" fill="#1a22c0" text-anchor="start" >1.0</text>
<path d="M511.5,379.3 H514.9" stroke="#1a22c0" stroke-width="1.1"/>
<text x="515.4" y="383.3" font-size="11.2" font-weight="bold" fill="#1a22c0" text-anchor="start" >0.8</text>
<path d="M511.5,408.2 H514.9" stroke="#1a22c0" stroke-width="1.1"/>
<text x="515.4" y="412.2" font-size="11.2" font-weight="bold" fill="#1a22c0" text-anchor="start" >0.6</text>
<path d="M511.5,437.1 H514.9" stroke="#1a22c0" stroke-width="1.1"/>
<text x="515.4" y="441.1" font-size="11.2" font-weight="bold" fill="#1a22c0" text-anchor="start" >0.4</text>
<path d="M511.5,335.65 H513.3" stroke="#1a22c0" stroke-width="1"/>
<path d="M511.5,364.7 H513.3" stroke="#1a22c0" stroke-width="1"/>
<path d="M511.5,393.75 H513.3" stroke="#1a22c0" stroke-width="1"/>
<path d="M511.5,422.65 H513.3" stroke="#1a22c0" stroke-width="1"/>
<path d="M511.5,451.4 H513.3" stroke="#1a22c0" stroke-width="1"/>
<path d="M348.9,452 V455.4" stroke="#222" stroke-width="1.1"/>
<text x="348.9" y="464.8" font-size="11.8" font-weight="bold" fill="#111" text-anchor="middle" >20</text>
<path d="M384.9,452 V455.4" stroke="#222" stroke-width="1.1"/>
<text x="384.9" y="464.8" font-size="11.8" font-weight="bold" fill="#111" text-anchor="middle" >40</text>
<path d="M421,452 V455.4" stroke="#222" stroke-width="1.1"/>
<text x="421" y="464.8" font-size="11.8" font-weight="bold" fill="#111" text-anchor="middle" >60</text>
<path d="M457.1,452 V455.4" stroke="#222" stroke-width="1.1"/>
<text x="457.1" y="464.8" font-size="11.8" font-weight="bold" fill="#111" text-anchor="middle" >80</text>
<path d="M493.2,452 V455.4" stroke="#222" stroke-width="1.1"/>
<text x="493.2" y="464.8" font-size="11.8" font-weight="bold" fill="#111" text-anchor="middle" >100</text>
<path d="M330.9,452 V453.8" stroke="#222" stroke-width="1"/>
<path d="M366.9,452 V453.8" stroke="#222" stroke-width="1"/>
<path d="M402.9,452 V453.8" stroke="#222" stroke-width="1"/>
<path d="M439,452 V453.8" stroke="#222" stroke-width="1"/>
<path d="M475.1,452 V453.8" stroke="#222" stroke-width="1"/>
<path d="M511.2,452 V453.8" stroke="#222" stroke-width="1"/>
<path d="M358,323 L384.9,330.4 L421,336.4 L457.1,349 L493.3,363.8" fill="none" stroke="#ef4a48" stroke-width="1.1"/>
<path d="M358,358.2 L384.9,362.1 L421,367.7 L457.1,375.8 L493.3,381.1" fill="none" stroke="#e8141c" stroke-width="1.1"/>
<path d="M358,411 L384.9,408.6 L421,405 L457.1,400.5 L493.3,394.1" fill="none" stroke="#1a22c0" stroke-width="1.1"/>
<path d="M358,439 L384.9,437.2 L421,433.4 L457.1,431.3 L493.3,424.3" fill="none" stroke="#1a22c0" stroke-width="1.1"/>
<path d="M355,319.6 L361.8,323 L355,326.4Z" fill="#ef4a48"/>
<path d="M381.9,327.0 L388.7,330.4 L381.9,333.79999999999995Z" fill="#ef4a48"/>
<path d="M418,333.0 L424.8,336.4 L418,339.79999999999995Z" fill="#ef4a48"/>
<path d="M454.1,345.6 L460.90000000000003,349 L454.1,352.4Z" fill="#ef4a48"/>
<path d="M490.3,360.40000000000003 L497.1,363.8 L490.3,367.2Z" fill="#ef4a48"/>
<circle cx="358" cy="358.2" r="3.2" fill="url(#rs)"/>
<circle cx="384.9" cy="362.1" r="3.2" fill="url(#rs)"/>
<circle cx="421" cy="367.7" r="3.2" fill="url(#rs)"/>
<circle cx="457.1" cy="375.8" r="3.2" fill="url(#rs)"/>
<circle cx="493.3" cy="381.1" r="3.2" fill="url(#rs)"/>
<circle cx="358" cy="411" r="3.2" fill="url(#bs)"/>
<circle cx="384.9" cy="408.6" r="3.2" fill="url(#bs)"/>
<circle cx="421" cy="405" r="3.2" fill="url(#bs)"/>
<circle cx="457.1" cy="400.5" r="3.2" fill="url(#bs)"/>
<circle cx="493.3" cy="394.1" r="3.2" fill="url(#bs)"/>
<path d="M355,435.6 L361.8,439 L355,442.4Z" fill="#1a22c0"/>
<path d="M381.9,433.8 L388.7,437.2 L381.9,440.59999999999997Z" fill="#1a22c0"/>
<path d="M418,430.0 L424.8,433.4 L418,436.79999999999995Z" fill="#1a22c0"/>
<path d="M454.1,427.90000000000003 L460.90000000000003,431.3 L454.1,434.7Z" fill="#1a22c0"/>
<path d="M490.3,420.90000000000003 L497.1,424.3 L490.3,427.7Z" fill="#1a22c0"/>
<text x="388" y="328.6" font-size="12" font-weight="bold" fill="#111" text-anchor="start" textLength="90.5" lengthAdjust="spacingAndGlyphs" >V-CFs/ferrite/SR</text>
<text x="350.6" y="392" font-size="12" font-weight="bold" fill="#111" text-anchor="start" textLength="122.5" lengthAdjust="spacingAndGlyphs" >V-CFs@SiC/ferrite/SR</text>
<text x="375.8" y="475" font-size="12.5" font-weight="bold" fill="#111" textLength="87.4" lengthAdjust="spacingAndGlyphs">Temperaure (<tspan font-family="Liberation Serif, serif" font-weight="bold" font-size="8" dy="-4">o</tspan><tspan font-family="Liberation Serif, serif" font-weight="bold" font-size="13" dy="4">C)</tspan></text>
<g transform="translate(311,381) rotate(-90)"><text text-anchor="middle" font-size="13" font-weight="bold" fill="#e8141c" textLength="64" lengthAdjust="spacingAndGlyphs">T<tspan font-size="7.5" dy="2">c</tspan><tspan dy="-2">(Wm</tspan><tspan font-size="7.5" dy="-5">-1</tspan><tspan dy="5">K</tspan><tspan font-size="7.5" dy="-5">-1</tspan><tspan dy="5">)</tspan></text></g>
<g transform="translate(542,380) rotate(-90)"><text text-anchor="middle" font-size="12.5" font-weight="bold" fill="#1a22c0" textLength="148" lengthAdjust="spacingAndGlyphs">Thermal resistance(<tspan font-size="7.5" dy="-4">o</tspan><tspan dy="4">C W</tspan><tspan font-size="7.5" dy="-6">-1</tspan><tspan dy="6"> )</tspan></text></g>
</g>
<g id="panelD">
<text x="553.2" y="311.6" font-size="22.5" font-weight="normal" fill="#000" text-anchor="start" stroke="#000" stroke-width="0.45">d</text>
<rect x="585.4" y="307.1" width="179.7" height="144.2" fill="none" stroke="#222" stroke-width="1.2"/>
<path d="M581.8,451.3 H585.4" stroke="#222" stroke-width="1.1"/>
<text x="580.6" y="455.1" font-size="10.6" font-weight="bold" fill="#111" text-anchor="end" >0</text>
<path d="M583.6,436.9 H585.4" stroke="#222" stroke-width="1"/>
<path d="M581.8,422.5 H585.4" stroke="#222" stroke-width="1.1"/>
<text x="580.6" y="426.3" font-size="10.6" font-weight="bold" fill="#111" text-anchor="end" >2</text>
<path d="M583.6,408.0 H585.4" stroke="#222" stroke-width="1"/>
<path d="M581.8,393.6 H585.4" stroke="#222" stroke-width="1.1"/>
<text x="580.6" y="397.4" font-size="10.6" font-weight="bold" fill="#111" text-anchor="end" >4</text>
<path d="M583.6,379.2 H585.4" stroke="#222" stroke-width="1"/>
<path d="M581.8,364.8 H585.4" stroke="#222" stroke-width="1.1"/>
<text x="580.6" y="368.6" font-size="10.6" font-weight="bold" fill="#111" text-anchor="end" >6</text>
<path d="M583.6,350.4 H585.4" stroke="#222" stroke-width="1"/>
<path d="M581.8,335.9 H585.4" stroke="#222" stroke-width="1.1"/>
<text x="580.6" y="339.7" font-size="10.6" font-weight="bold" fill="#111" text-anchor="end" >8</text>
<path d="M583.6,321.5 H585.4" stroke="#222" stroke-width="1"/>
<path d="M581.8,307.1 H585.4" stroke="#222" stroke-width="1.1"/>
<text x="580.6" y="310.9" font-size="10.6" font-weight="bold" fill="#111" text-anchor="end" >10</text>
<path d="M585.4,451.3 V454.90000000000003" stroke="#222" stroke-width="1.1"/>
<text x="585.4" y="464.6" font-size="10.8" font-weight="bold" fill="#111" text-anchor="middle" >0</text>
<path d="M603.4,451.3 V453.1" stroke="#222" stroke-width="1"/>
<path d="M621.3,451.3 V454.90000000000003" stroke="#222" stroke-width="1.1"/>
<text x="621.3" y="464.6" font-size="10.8" font-weight="bold" fill="#111" text-anchor="middle" >10</text>
<path d="M639.3,451.3 V453.1" stroke="#222" stroke-width="1"/>
<path d="M657.3,451.3 V454.90000000000003" stroke="#222" stroke-width="1.1"/>
<text x="657.3" y="464.6" font-size="10.8" font-weight="bold" fill="#111" text-anchor="middle" >20</text>
<path d="M675.2,451.3 V453.1" stroke="#222" stroke-width="1"/>
<path d="M693.2,451.3 V454.90000000000003" stroke="#222" stroke-width="1.1"/>
<text x="693.2" y="464.6" font-size="10.8" font-weight="bold" fill="#111" text-anchor="middle" >30</text>
<path d="M711.2,451.3 V453.1" stroke="#222" stroke-width="1"/>
<path d="M729.2,451.3 V454.90000000000003" stroke="#222" stroke-width="1.1"/>
<text x="729.2" y="464.6" font-size="10.8" font-weight="bold" fill="#111" text-anchor="middle" >40</text>
<path d="M747.1,451.3 V453.1" stroke="#222" stroke-width="1"/>
<path d="M765.1,451.3 V454.90000000000003" stroke="#222" stroke-width="1.1"/>
<text x="765.1" y="464.6" font-size="10.8" font-weight="bold" fill="#111" text-anchor="middle" >50</text>
<text x="595.6" y="475.8" font-size="12.5" font-weight="bold" fill="#111" textLength="158" lengthAdjust="spacingAndGlyphs" xml:space="preserve">Carbon  fiber contents(wt%)</text>
<g transform="translate(565.2,383) rotate(-90)"><text text-anchor="middle" font-size="12.5" font-weight="bold" fill="#111" textLength="68" lengthAdjust="spacingAndGlyphs">T<tspan font-size="8" dy="2">c</tspan><tspan dy="-2">(Wm</tspan><tspan font-size="8" dy="-5">-1</tspan><tspan dy="5">K</tspan><tspan font-size="8" dy="-5">-1</tspan><tspan dy="5">)</tspan></text></g>
<polygon points="658.5,329.3 660.1,334.0 665.2,334.1 661.2,337.2 662.6,342.0 658.5,339.1 654.4,342.0 655.8,337.2 651.8,334.1 656.9,334.0" fill="#e8141c"/>
<text x="659.7" y="326.5" font-size="8.6" font-weight="bold" fill="#111" text-anchor="middle" >this work</text>
<path d="M665.6,339.3 L675.2,344.1 L665.6,348.90000000000003Z" fill="#18a0c4"/>
<text x="670.2" y="358" font-size="8.6" font-weight="bold" fill="#111" text-anchor="middle" >[41]</text>
<path d="M740.8,308.5 L731.4,313.3 L740.8,318.1Z" fill="#d18a0c"/>
<text x="738" y="326.8" font-size="8.6" font-weight="bold" fill="#111" text-anchor="middle" >[43]</text>
<polygon points="710.4,362.8 706.2,365.3 702.0,362.8 702.0,357.9 706.2,355.5 710.4,357.9" fill="#7c4f4d"/>
<text x="707.2" y="374.2" font-size="8.6" font-weight="bold" fill="#111" text-anchor="middle" >[40]</text>
<circle cx="640.3" cy="378.6" r="4.5" fill="#0a0a0a"/>
<text x="640.3" y="392.3" font-size="8.6" font-weight="bold" fill="#111" text-anchor="middle" >[42]</text>
<path d="M657.6,404.0 L663.2,409.4 L657.6,414.79999999999995 L652.0,409.4Z" fill="#a878d6"/>
<text x="657.6" y="424.5" font-size="8.6" font-weight="bold" fill="#111" text-anchor="middle" >[39]</text>
<path d="M627,421.0 L637,421.0 L632,430.0Z" fill="#16986a"/>
<text x="632" y="417.3" font-size="8.6" font-weight="bold" fill="#111" text-anchor="middle" >[37]</text>
<path d="M616.5,435.4 L626.5,435.4 L621.5,426.4Z" fill="#1a5fd0"/>
<text x="621.5" y="443.6" font-size="8.6" font-weight="bold" fill="#111" text-anchor="middle" >[38]</text>
</g>
<g id="panelE">
<text x="19.6" y="504.4" font-size="23.5" font-weight="normal" fill="#000" text-anchor="start" stroke="#000" stroke-width="0.55">e</text>
<rect x="40.8" y="493.5" width="404.2" height="172.5" fill="#050a72"/>
<g clip-path="url(#cl00)"><rect x="41" y="493.5" width="134.0" height="86.5" fill="url(#navy)"/><rect x="31" y="564.0" width="154.0" height="19.0" fill="#0c36cc" opacity="0.5" filter="url(#bl4)"/><path d="M41.1,580 L60.3,548.0 L69.9,548.0 L89.1,580Z" fill="#0d34cc" opacity="0.3" filter="url(#bl6)"/><path d="M47.8,580 L61.3,557.0 L69.0,557.0 L82.4,580Z" fill="#1458e4" opacity="0.3" filter="url(#bl4)"/><path d="M84.0,580 L103.2,550.0 L112.8,550.0 L132.0,580Z" fill="#0d34cc" opacity="0.28" filter="url(#bl6)"/><path d="M90.7,580 L104.2,558.4 L111.8,558.4 L125.3,580Z" fill="#1458e4" opacity="0.28" filter="url(#bl4)"/><path d="M131.6,580 L147.6,530.0 L155.6,530.0 L171.6,580Z" fill="#0d34cc" opacity="0.42" filter="url(#bl6)"/><path d="M137.2,580 L148.4,544.0 L154.8,544.0 L166.0,580Z" fill="#1458e4" opacity="0.42" filter="url(#bl4)"/><path d="M35.0,589 L35.0,567.3 L36.3,566.8 L37.7,566.2 L39.0,565.7 L40.3,565.1 L41.6,564.5 L43.0,563.9 L44.3,563.2 L45.6,562.6 L46.9,561.9 L48.3,561.3 L49.6,560.6 L50.9,560.0 L52.3,559.4 L53.6,558.8 L54.9,558.3 L56.2,557.8 L57.6,557.4 L58.9,557.0 L60.2,556.7 L61.5,556.5 L62.9,556.3 L64.2,556.2 L65.5,556.2 L66.9,556.3 L68.2,556.4 L69.5,556.6 L70.8,556.9 L72.2,557.2 L73.5,557.7 L74.8,558.1 L76.1,558.6 L77.5,559.2 L78.8,559.8 L80.1,560.4 L81.5,561.0 L82.8,561.7 L84.1,562.3 L85.4,563.0 L86.8,563.6 L88.1,563.1 L89.4,562.5 L90.7,561.9 L92.1,561.3 L93.4,560.6 L94.7,560.1 L96.1,559.5 L97.4,559.0 L98.7,558.5 L100.0,558.1 L101.4,557.7 L102.7,557.4 L104.0,557.1 L105.3,557.0 L106.7,556.9 L108.0,556.8 L109.3,556.9 L110.7,557.0 L112.0,557.1 L113.3,557.4 L114.6,557.7 L116.0,558.1 L117.3,558.5 L118.6,559.0 L119.9,559.5 L121.3,560.1 L122.6,560.6 L123.9,561.3 L125.3,561.9 L126.6,562.5 L127.9,563.1 L129.2,563.3 L130.6,562.7 L131.9,561.9 L133.2,561.2 L134.5,560.5 L135.9,559.8 L137.2,559.2 L138.5,558.5 L139.9,557.9 L141.2,557.3 L142.5,556.8 L143.8,556.3 L145.2,555.9 L146.5,555.6 L147.8,555.3 L149.1,555.1 L150.5,555.0 L151.8,555.0 L153.1,555.0 L154.5,555.2 L155.8,555.4 L157.1,555.7 L158.4,556.1 L159.8,556.5 L161.1,557.0 L162.4,557.5 L163.7,558.1 L165.1,558.8 L166.4,559.4 L167.7,560.1 L169.1,560.8 L170.4,561.5 L171.7,562.2 L173.0,562.9 L174.4,563.6 L175.7,564.3 L177.0,564.9 L178.3,565.5 L179.7,566.1 L181.0,566.7 L181.0,589Z" fill="#0e44d6" filter="url(#bl2)"/><path d="M35.0,589 L35.0,568.5 L36.3,568.1 L37.7,567.6 L39.0,567.1 L40.3,566.6 L41.6,566.0 L43.0,565.5 L44.3,564.9 L45.6,564.3 L46.9,563.7 L48.3,563.1 L49.6,562.5 L50.9,562.0 L52.3,561.4 L53.6,560.9 L54.9,560.4 L56.2,560.0 L57.6,559.6 L58.9,559.3 L60.2,559.0 L61.5,558.8 L62.9,558.6 L64.2,558.6 L65.5,558.6 L66.9,558.6 L68.2,558.7 L69.5,558.9 L70.8,559.2 L72.2,559.5 L73.5,559.9 L74.8,560.3 L76.1,560.7 L77.5,561.2 L78.8,561.8 L80.1,562.3 L81.5,562.9 L82.8,563.5 L84.1,564.1 L85.4,564.7 L86.8,565.2 L88.1,564.8 L89.4,564.2 L90.7,563.7 L92.1,563.1 L93.4,562.5 L94.7,562.0 L96.1,561.5 L97.4,561.1 L98.7,560.6 L100.0,560.2 L101.4,559.9 L102.7,559.6 L104.0,559.4 L105.3,559.2 L106.7,559.1 L108.0,559.1 L109.3,559.1 L110.7,559.2 L112.0,559.4 L113.3,559.6 L114.6,559.9 L116.0,560.2 L117.3,560.6 L118.6,561.1 L119.9,561.5 L121.3,562.0 L122.6,562.5 L123.9,563.1 L125.3,563.7 L126.6,564.2 L127.9,564.8 L129.2,565.0 L130.6,564.4 L131.9,563.7 L133.2,563.1 L134.5,562.5 L135.9,561.8 L137.2,561.2 L138.5,560.6 L139.9,560.1 L141.2,559.6 L142.5,559.1 L143.8,558.7 L145.2,558.3 L146.5,558.0 L147.8,557.7 L149.1,557.6 L150.5,557.5 L151.8,557.5 L153.1,557.5 L154.5,557.6 L155.8,557.8 L157.1,558.1 L158.4,558.4 L159.8,558.8 L161.1,559.3 L162.4,559.7 L163.7,560.3 L165.1,560.8 L166.4,561.4 L167.7,562.1 L169.1,562.7 L170.4,563.3 L171.7,564.0 L173.0,564.6 L174.4,565.2 L175.7,565.8 L177.0,566.4 L178.3,566.9 L179.7,567.5 L181.0,568.0 L181.0,589Z" fill="#1a80ea" filter="url(#bl2)"/><path d="M35.0,589 L35.0,569.6 L36.3,569.2 L37.7,568.7 L39.0,568.3 L40.3,567.8 L41.6,567.3 L43.0,566.8 L44.3,566.3 L45.6,565.7 L46.9,565.2 L48.3,564.6 L49.6,564.1 L50.9,563.6 L52.3,563.1 L53.6,562.7 L54.9,562.2 L56.2,561.8 L57.6,561.5 L58.9,561.2 L60.2,560.9 L61.5,560.7 L62.9,560.6 L64.2,560.5 L65.5,560.5 L66.9,560.6 L68.2,560.7 L69.5,560.8 L70.8,561.1 L72.2,561.4 L73.5,561.7 L74.8,562.1 L76.1,562.5 L77.5,562.9 L78.8,563.4 L80.1,563.9 L81.5,564.4 L82.8,565.0 L84.1,565.5 L85.4,566.0 L86.8,566.6 L88.1,566.2 L89.4,565.7 L90.7,565.1 L92.1,564.6 L93.4,564.1 L94.7,563.7 L96.1,563.2 L97.4,562.8 L98.7,562.4 L100.0,562.0 L101.4,561.7 L102.7,561.5 L104.0,561.3 L105.3,561.1 L106.7,561.0 L108.0,561.0 L109.3,561.0 L110.7,561.1 L112.0,561.3 L113.3,561.5 L114.6,561.7 L116.0,562.0 L117.3,562.4 L118.6,562.8 L119.9,563.2 L121.3,563.7 L122.6,564.1 L123.9,564.6 L125.3,565.1 L126.6,565.7 L127.9,566.2 L129.2,566.3 L130.6,565.8 L131.9,565.2 L133.2,564.6 L134.5,564.0 L135.9,563.5 L137.2,562.9 L138.5,562.4 L139.9,561.9 L141.2,561.4 L142.5,561.0 L143.8,560.6 L145.2,560.3 L146.5,560.0 L147.8,559.8 L149.1,559.6 L150.5,559.5 L151.8,559.5 L153.1,559.5 L154.5,559.7 L155.8,559.8 L157.1,560.1 L158.4,560.4 L159.8,560.7 L161.1,561.1 L162.4,561.6 L163.7,562.1 L165.1,562.6 L166.4,563.1 L167.7,563.7 L169.1,564.3 L170.4,564.8 L171.7,565.4 L173.0,566.0 L174.4,566.6 L175.7,567.1 L177.0,567.6 L178.3,568.1 L179.7,568.6 L181.0,569.1 L181.0,589Z" fill="#20c0c4" filter="url(#bl1)"/><path d="M35.0,589 L35.0,570.5 L36.3,570.1 L37.7,569.7 L39.0,569.3 L40.3,568.9 L41.6,568.4 L43.0,568.0 L44.3,567.5 L45.6,567.0 L46.9,566.5 L48.3,566.0 L49.6,565.6 L50.9,565.1 L52.3,564.6 L53.6,564.2 L54.9,563.8 L56.2,563.5 L57.6,563.1 L58.9,562.9 L60.2,562.6 L61.5,562.5 L62.9,562.3 L64.2,562.3 L65.5,562.3 L66.9,562.3 L68.2,562.4 L69.5,562.6 L70.8,562.8 L72.2,563.0 L73.5,563.3 L74.8,563.7 L76.1,564.1 L77.5,564.5 L78.8,564.9 L80.1,565.4 L81.5,565.8 L82.8,566.3 L84.1,566.8 L85.4,567.3 L86.8,567.8 L88.1,567.4 L89.4,566.9 L90.7,566.5 L92.1,566.0 L93.4,565.6 L94.7,565.1 L96.1,564.7 L97.4,564.3 L98.7,564.0 L100.0,563.7 L101.4,563.4 L102.7,563.1 L104.0,563.0 L105.3,562.8 L106.7,562.7 L108.0,562.7 L109.3,562.7 L110.7,562.8 L112.0,563.0 L113.3,563.1 L114.6,563.4 L116.0,563.7 L117.3,564.0 L118.6,564.3 L119.9,564.7 L121.3,565.1 L122.6,565.6 L123.9,566.0 L125.3,566.5 L126.6,566.9 L127.9,567.4 L129.2,567.6 L130.6,567.1 L131.9,566.5 L133.2,566.0 L134.5,565.5 L135.9,565.0 L137.2,564.5 L138.5,564.0 L139.9,563.5 L141.2,563.1 L142.5,562.7 L143.8,562.3 L145.2,562.0 L146.5,561.8 L147.8,561.6 L149.1,561.4 L150.5,561.4 L151.8,561.3 L153.1,561.4 L154.5,561.5 L155.8,561.7 L157.1,561.9 L158.4,562.1 L159.8,562.5 L161.1,562.8 L162.4,563.2 L163.7,563.7 L165.1,564.2 L166.4,564.6 L167.7,565.2 L169.1,565.7 L170.4,566.2 L171.7,566.7 L173.0,567.3 L174.4,567.8 L175.7,568.3 L177.0,568.7 L178.3,569.2 L179.7,569.6 L181.0,570.0 L181.0,589Z" fill="#2cd860" filter="url(#bl1)"/><path d="M35.0,589 L35.0,572.7 L36.3,572.4 L37.7,572.1 L39.0,571.8 L40.3,571.5 L41.6,571.1 L43.0,570.7 L44.3,570.4 L45.6,570.0 L46.9,569.6 L48.3,569.3 L49.6,568.9 L50.9,568.5 L52.3,568.2 L53.6,567.9 L54.9,567.6 L56.2,567.3 L57.6,567.0 L58.9,566.8 L60.2,566.6 L61.5,566.5 L62.9,566.4 L64.2,566.4 L65.5,566.4 L66.9,566.4 L68.2,566.5 L69.5,566.6 L70.8,566.7 L72.2,566.9 L73.5,567.2 L74.8,567.4 L76.1,567.7 L77.5,568.1 L78.8,568.4 L80.1,568.7 L81.5,569.1 L82.8,569.5 L84.1,569.9 L85.4,570.2 L86.8,570.6 L88.1,570.3 L89.4,570.0 L90.7,569.6 L92.1,569.2 L93.4,568.9 L94.7,568.6 L96.1,568.2 L97.4,567.9 L98.7,567.7 L100.0,567.4 L101.4,567.2 L102.7,567.0 L104.0,566.9 L105.3,566.8 L106.7,566.7 L108.0,566.7 L109.3,566.7 L110.7,566.8 L112.0,566.9 L113.3,567.0 L114.6,567.2 L116.0,567.4 L117.3,567.7 L118.6,567.9 L119.9,568.2 L121.3,568.6 L122.6,568.9 L123.9,569.2 L125.3,569.6 L126.6,570.0 L127.9,570.3 L129.2,570.4 L130.6,570.0 L131.9,569.6 L133.2,569.2 L134.5,568.8 L135.9,568.4 L137.2,568.0 L138.5,567.7 L139.9,567.3 L141.2,567.0 L142.5,566.7 L143.8,566.4 L145.2,566.2 L146.5,566.0 L147.8,565.8 L149.1,565.7 L150.5,565.7 L151.8,565.7 L153.1,565.7 L154.5,565.8 L155.8,565.9 L157.1,566.1 L158.4,566.3 L159.8,566.5 L161.1,566.8 L162.4,567.1 L163.7,567.4 L165.1,567.8 L166.4,568.2 L167.7,568.6 L169.1,569.0 L170.4,569.4 L171.7,569.8 L173.0,570.2 L174.4,570.6 L175.7,571.0 L177.0,571.3 L178.3,571.7 L179.7,572.0 L181.0,572.3 L181.0,589Z" fill="#90e030" filter="url(#bl1)"/><path d="M35.0,589 L35.0,574.5 L36.3,574.2 L37.7,574.0 L39.0,573.8 L40.3,573.5 L41.6,573.3 L43.0,573.0 L44.3,572.7 L45.6,572.4 L46.9,572.1 L48.3,571.9 L49.6,571.6 L50.9,571.3 L52.3,571.1 L53.6,570.8 L54.9,570.6 L56.2,570.4 L57.6,570.2 L58.9,570.0 L60.2,569.9 L61.5,569.8 L62.9,569.7 L64.2,569.7 L65.5,569.7 L66.9,569.7 L68.2,569.8 L69.5,569.8 L70.8,570.0 L72.2,570.1 L73.5,570.3 L74.8,570.5 L76.1,570.7 L77.5,571.0 L78.8,571.2 L80.1,571.5 L81.5,571.8 L82.8,572.0 L84.1,572.3 L85.4,572.6 L86.8,572.9 L88.1,572.7 L89.4,572.4 L90.7,572.1 L92.1,571.9 L93.4,571.6 L94.7,571.3 L96.1,571.1 L97.4,570.9 L98.7,570.7 L100.0,570.5 L101.4,570.3 L102.7,570.2 L104.0,570.1 L105.3,570.0 L106.7,569.9 L108.0,569.9 L109.3,569.9 L110.7,570.0 L112.0,570.1 L113.3,570.2 L114.6,570.3 L116.0,570.5 L117.3,570.7 L118.6,570.9 L119.9,571.1 L121.3,571.3 L122.6,571.6 L123.9,571.9 L125.3,572.1 L126.6,572.4 L127.9,572.7 L129.2,572.8 L130.6,572.5 L131.9,572.2 L133.2,571.9 L134.5,571.5 L135.9,571.2 L137.2,570.9 L138.5,570.7 L139.9,570.4 L141.2,570.1 L142.5,569.9 L143.8,569.7 L145.2,569.5 L146.5,569.4 L147.8,569.3 L149.1,569.2 L150.5,569.1 L151.8,569.1 L153.1,569.2 L154.5,569.2 L155.8,569.3 L157.1,569.4 L158.4,569.6 L159.8,569.8 L161.1,570.0 L162.4,570.2 L163.7,570.5 L165.1,570.8 L166.4,571.1 L167.7,571.4 L169.1,571.7 L170.4,572.0 L171.7,572.3 L173.0,572.6 L174.4,572.9 L175.7,573.2 L177.0,573.4 L178.3,573.7 L179.7,574.0 L181.0,574.2 L181.0,589Z" fill="#f2ee10" filter="url(#bl1)"/><path d="M35.0,589 L35.0,575.7 L36.3,575.6 L37.7,575.4 L39.0,575.2 L40.3,575.0 L41.6,574.8 L43.0,574.6 L44.3,574.4 L45.6,574.1 L46.9,573.9 L48.3,573.7 L49.6,573.5 L50.9,573.3 L52.3,573.1 L53.6,572.9 L54.9,572.7 L56.2,572.5 L57.6,572.4 L58.9,572.3 L60.2,572.2 L61.5,572.1 L62.9,572.0 L64.2,572.0 L65.5,572.0 L66.9,572.0 L68.2,572.1 L69.5,572.1 L70.8,572.2 L72.2,572.4 L73.5,572.5 L74.8,572.6 L76.1,572.8 L77.5,573.0 L78.8,573.2 L80.1,573.4 L81.5,573.6 L82.8,573.8 L84.1,574.1 L85.4,574.3 L86.8,574.5 L88.1,574.3 L89.4,574.1 L90.7,573.9 L92.1,573.7 L93.4,573.5 L94.7,573.3 L96.1,573.1 L97.4,572.9 L98.7,572.8 L100.0,572.6 L101.4,572.5 L102.7,572.4 L104.0,572.3 L105.3,572.3 L106.7,572.2 L108.0,572.2 L109.3,572.2 L110.7,572.3 L112.0,572.3 L113.3,572.4 L114.6,572.5 L116.0,572.6 L117.3,572.8 L118.6,572.9 L119.9,573.1 L121.3,573.3 L122.6,573.5 L123.9,573.7 L125.3,573.9 L126.6,574.1 L127.9,574.3 L129.2,574.4 L130.6,574.2 L131.9,573.9 L133.2,573.7 L134.5,573.5 L135.9,573.2 L137.2,573.0 L138.5,572.8 L139.9,572.6 L141.2,572.4 L142.5,572.2 L143.8,572.0 L145.2,571.9 L146.5,571.8 L147.8,571.7 L149.1,571.6 L150.5,571.6 L151.8,571.6 L153.1,571.6 L154.5,571.7 L155.8,571.7 L157.1,571.8 L158.4,572.0 L159.8,572.1 L161.1,572.3 L162.4,572.5 L163.7,572.6 L165.1,572.9 L166.4,573.1 L167.7,573.3 L169.1,573.5 L170.4,573.8 L171.7,574.0 L173.0,574.3 L174.4,574.5 L175.7,574.7 L177.0,574.9 L178.3,575.1 L179.7,575.3 L181.0,575.5 L181.0,589Z" fill="#ffc000" filter="url(#bl1)"/><path d="M35.0,589 L35.0,576.8 L36.3,576.6 L37.7,576.5 L39.0,576.4 L40.3,576.2 L41.6,576.1 L43.0,575.9 L44.3,575.7 L45.6,575.6 L46.9,575.4 L48.3,575.2 L49.6,575.1 L50.9,574.9 L52.3,574.8 L53.6,574.6 L54.9,574.5 L56.2,574.4 L57.6,574.3 L58.9,574.2 L60.2,574.1 L61.5,574.0 L62.9,574.0 L64.2,574.0 L65.5,574.0 L66.9,574.0 L68.2,574.0 L69.5,574.1 L70.8,574.1 L72.2,574.2 L73.5,574.3 L74.8,574.4 L76.1,574.6 L77.5,574.7 L78.8,574.9 L80.1,575.0 L81.5,575.2 L82.8,575.3 L84.1,575.5 L85.4,575.7 L86.8,575.8 L88.1,575.7 L89.4,575.6 L90.7,575.4 L92.1,575.2 L93.4,575.1 L94.7,574.9 L96.1,574.8 L97.4,574.7 L98.7,574.5 L100.0,574.4 L101.4,574.3 L102.7,574.3 L104.0,574.2 L105.3,574.1 L106.7,574.1 L108.0,574.1 L109.3,574.1 L110.7,574.1 L112.0,574.2 L113.3,574.3 L114.6,574.3 L116.0,574.4 L117.3,574.5 L118.6,574.7 L119.9,574.8 L121.3,574.9 L122.6,575.1 L123.9,575.2 L125.3,575.4 L126.6,575.6 L127.9,575.7 L129.2,575.8 L130.6,575.6 L131.9,575.4 L133.2,575.2 L134.5,575.1 L135.9,574.9 L137.2,574.7 L138.5,574.5 L139.9,574.4 L141.2,574.2 L142.5,574.1 L143.8,574.0 L145.2,573.9 L146.5,573.8 L147.8,573.7 L149.1,573.7 L150.5,573.7 L151.8,573.6 L153.1,573.7 L154.5,573.7 L155.8,573.8 L157.1,573.8 L158.4,573.9 L159.8,574.0 L161.1,574.2 L162.4,574.3 L163.7,574.4 L165.1,574.6 L166.4,574.8 L167.7,574.9 L169.1,575.1 L170.4,575.3 L171.7,575.5 L173.0,575.7 L174.4,575.8 L175.7,576.0 L177.0,576.2 L178.3,576.3 L179.7,576.5 L181.0,576.6 L181.0,589Z" fill="#ff8000" filter="url(#bl1)"/><path d="M35.0,589 L35.0,582.2 L36.3,581.9 L37.7,581.6 L39.0,581.2 L40.3,580.7 L41.6,580.0 L43.0,579.2 L44.3,578.1 L45.6,577.6 L46.9,577.2 L48.3,576.8 L49.6,576.5 L50.9,576.4 L52.3,576.3 L53.6,576.2 L54.9,576.1 L56.2,576.0 L57.6,575.9 L58.9,575.9 L60.2,575.8 L61.5,575.8 L62.9,575.7 L64.2,575.7 L65.5,575.7 L66.9,575.7 L68.2,575.7 L69.5,575.8 L70.8,575.8 L72.2,575.9 L73.5,576.0 L74.8,576.1 L76.1,576.1 L77.5,576.2 L78.8,576.4 L80.1,576.5 L81.5,576.6 L82.8,576.7 L84.1,577.0 L85.4,577.2 L86.8,577.3 L88.1,577.2 L89.4,577.0 L90.7,576.8 L92.1,576.6 L93.4,576.5 L94.7,576.4 L96.1,576.3 L97.4,576.2 L98.7,576.1 L100.0,576.0 L101.4,576.0 L102.7,575.9 L104.0,575.9 L105.3,575.8 L106.7,575.8 L108.0,575.8 L109.3,575.8 L110.7,575.8 L112.0,575.9 L113.3,575.9 L114.6,576.0 L116.0,576.0 L117.3,576.1 L118.6,576.2 L119.9,576.3 L121.3,576.4 L122.6,576.5 L123.9,576.6 L125.3,576.8 L126.6,577.1 L127.9,577.3 L129.2,577.4 L130.6,577.2 L131.9,577.0 L133.2,576.8 L134.5,576.5 L135.9,576.4 L137.2,576.2 L138.5,576.1 L139.9,576.0 L141.2,575.9 L142.5,575.8 L143.8,575.7 L145.2,575.7 L146.5,575.6 L147.8,575.5 L149.1,575.5 L150.5,575.5 L151.8,575.5 L153.1,575.5 L154.5,575.5 L155.8,575.6 L157.1,575.6 L158.4,575.7 L159.8,575.8 L161.1,575.9 L162.4,575.9 L163.7,576.1 L165.1,576.2 L166.4,576.3 L167.7,576.4 L169.1,576.8 L170.4,577.3 L171.7,577.7 L173.0,578.4 L174.4,579.5 L175.7,580.3 L177.0,580.9 L178.3,581.4 L179.7,581.7 L181.0,582.0 L181.0,589Z" fill="#f83400" filter="url(#bl1)"/><path d="M35.0,589 L35.0,584.0 L36.3,584.0 L37.7,584.0 L39.0,584.0 L40.3,584.0 L41.6,584.0 L43.0,584.0 L44.3,584.0 L45.6,584.0 L46.9,584.0 L48.3,584.0 L49.6,584.0 L50.9,583.7 L52.3,582.7 L53.6,581.2 L54.9,579.5 L56.2,577.9 L57.6,577.5 L58.9,577.4 L60.2,577.3 L61.5,577.3 L62.9,577.3 L64.2,577.3 L65.5,577.3 L66.9,577.3 L68.2,577.3 L69.5,577.3 L70.8,577.3 L72.2,577.4 L73.5,577.7 L74.8,578.7 L76.1,580.3 L77.5,581.9 L78.8,583.1 L80.1,583.8 L81.5,584.0 L82.8,584.0 L84.1,584.0 L85.4,584.0 L86.8,584.0 L88.1,584.0 L89.4,584.0 L90.7,584.0 L92.1,584.0 L93.4,583.9 L94.7,583.4 L96.1,582.5 L97.4,581.2 L98.7,579.7 L100.0,578.3 L101.4,577.7 L102.7,577.5 L104.0,577.4 L105.3,577.4 L106.7,577.3 L108.0,577.3 L109.3,577.3 L110.7,577.4 L112.0,577.4 L113.3,577.5 L114.6,577.7 L116.0,578.3 L117.3,579.8 L118.6,581.2 L119.9,582.5 L121.3,583.5 L122.6,583.9 L123.9,584.0 L125.3,584.0 L126.6,584.0 L127.9,584.0 L129.2,584.0 L130.6,584.0 L131.9,584.0 L133.2,584.0 L134.5,584.0 L135.9,584.0 L137.2,583.5 L138.5,582.5 L139.9,581.0 L141.2,579.3 L142.5,577.9 L143.8,577.4 L145.2,577.2 L146.5,577.2 L147.8,577.2 L149.1,577.1 L150.5,577.1 L151.8,577.1 L153.1,577.1 L154.5,577.2 L155.8,577.2 L157.1,577.2 L158.4,577.3 L159.8,577.6 L161.1,578.4 L162.4,580.2 L163.7,581.9 L165.1,583.2 L166.4,583.9 L167.7,584.0 L169.1,584.0 L170.4,584.0 L171.7,584.0 L173.0,584.0 L174.4,584.0 L175.7,584.0 L177.0,584.0 L178.3,584.0 L179.7,584.0 L181.0,584.0 L181.0,589Z" fill="#e20020" filter="url(#bl1)"/></g><text x="107.5" y="523.7" font-size="26" font-weight="bold" fill="#fff" text-anchor="middle" >0s</text>
<g clip-path="url(#cl10)"><rect x="175" y="493.5" width="135.0" height="86.5" fill="url(#navy)"/><rect x="165" y="565.0" width="155.0" height="18.0" fill="#0c36cc" opacity="0.5" filter="url(#bl4)"/><path d="M166.9,580 L188.5,526.0 L199.3,526.0 L220.9,580Z" fill="#0d34cc" opacity="0.55" filter="url(#bl6)"/><path d="M174.5,580 L189.6,541.1 L198.2,541.1 L213.3,580Z" fill="#1458e4" opacity="0.55" filter="url(#bl4)"/><path d="M211.4,580 L233.0,534.0 L243.8,534.0 L265.4,580Z" fill="#0d34cc" opacity="0.45" filter="url(#bl6)"/><path d="M219.0,580 L234.1,546.9 L242.8,546.9 L257.9,580Z" fill="#1458e4" opacity="0.45" filter="url(#bl4)"/><path d="M255.0,580 L277.4,508.0 L288.6,508.0 L311.0,580Z" fill="#0d34cc" opacity="0.75" filter="url(#bl6)"/><path d="M262.8,580 L278.5,528.2 L287.5,528.2 L303.2,580Z" fill="#1458e4" opacity="0.75" filter="url(#bl4)"/><path d="M169.0,589 L169.0,565.3 L170.3,564.5 L171.7,563.8 L173.0,563.1 L174.3,562.3 L175.7,561.6 L177.0,560.8 L178.4,560.1 L179.7,559.3 L181.0,558.7 L182.4,558.0 L183.7,557.4 L185.0,556.8 L186.4,556.3 L187.7,555.9 L189.0,555.6 L190.4,555.3 L191.7,555.1 L193.1,555.0 L194.4,555.0 L195.7,555.1 L197.1,555.2 L198.4,555.5 L199.7,555.8 L201.1,556.2 L202.4,556.7 L203.7,557.2 L205.1,557.8 L206.4,558.5 L207.8,559.2 L209.1,559.9 L210.4,560.6 L211.8,561.4 L213.1,562.1 L214.4,562.9 L215.8,563.6 L217.1,563.3 L218.4,562.6 L219.8,561.8 L221.1,561.1 L222.5,560.3 L223.8,559.6 L225.1,558.9 L226.5,558.2 L227.8,557.6 L229.1,557.0 L230.5,556.5 L231.8,556.0 L233.1,555.7 L234.5,555.4 L235.8,555.2 L237.2,555.0 L238.5,555.0 L239.8,555.0 L241.2,555.2 L242.5,555.4 L243.8,555.7 L245.2,556.1 L246.5,556.5 L247.8,557.0 L249.2,557.6 L250.5,558.3 L251.9,558.9 L253.2,559.6 L254.5,560.3 L255.9,561.1 L257.2,561.8 L258.5,562.5 L259.9,563.1 L261.2,563.5 L262.5,562.9 L263.9,561.9 L265.2,560.9 L266.6,559.8 L267.9,558.6 L269.2,557.4 L270.6,556.2 L271.9,555.0 L273.2,553.9 L274.6,552.8 L275.9,551.8 L277.2,551.0 L278.6,550.3 L279.9,549.8 L281.3,549.4 L282.6,549.3 L283.9,549.3 L285.3,549.5 L286.6,550.0 L287.9,550.6 L289.3,551.3 L290.6,552.2 L291.9,553.2 L293.3,554.3 L294.6,555.4 L296.0,556.6 L297.3,557.8 L298.6,559.0 L300.0,560.2 L301.3,561.3 L302.6,562.3 L304.0,563.3 L305.3,564.2 L306.6,565.0 L308.0,565.8 L309.3,566.5 L310.7,567.1 L312.0,567.7 L313.3,568.3 L314.7,568.8 L316.0,569.2 L316.0,589Z" fill="#0e44d6" filter="url(#bl2)"/><path d="M169.0,589 L169.0,566.7 L170.3,566.1 L171.7,565.4 L173.0,564.7 L174.3,564.1 L175.7,563.4 L177.0,562.7 L178.4,562.0 L179.7,561.4 L181.0,560.8 L182.4,560.2 L183.7,559.6 L185.0,559.1 L186.4,558.7 L187.7,558.3 L189.0,558.0 L190.4,557.7 L191.7,557.6 L193.1,557.5 L194.4,557.5 L195.7,557.5 L197.1,557.7 L198.4,557.9 L199.7,558.2 L201.1,558.6 L202.4,559.0 L203.7,559.5 L205.1,560.0 L206.4,560.6 L207.8,561.2 L209.1,561.9 L210.4,562.5 L211.8,563.2 L213.1,563.9 L214.4,564.6 L215.8,565.2 L217.1,565.0 L218.4,564.3 L219.8,563.6 L221.1,562.9 L222.5,562.3 L223.8,561.6 L225.1,561.0 L226.5,560.4 L227.8,559.8 L229.1,559.3 L230.5,558.8 L231.8,558.4 L233.1,558.1 L234.5,557.8 L235.8,557.6 L237.2,557.5 L238.5,557.5 L239.8,557.5 L241.2,557.6 L242.5,557.8 L243.8,558.1 L245.2,558.4 L246.5,558.8 L247.8,559.3 L249.2,559.8 L250.5,560.4 L251.9,561.0 L253.2,561.6 L254.5,562.3 L255.9,563.0 L257.2,563.6 L258.5,564.3 L259.9,564.9 L261.2,565.5 L262.5,565.1 L263.9,564.4 L265.2,563.5 L266.6,562.6 L267.9,561.6 L269.2,560.6 L270.6,559.4 L271.9,558.3 L273.2,557.1 L274.6,555.8 L275.9,554.7 L277.2,553.6 L278.6,552.6 L279.9,551.8 L281.3,551.2 L282.6,550.9 L283.9,551.0 L285.3,551.4 L286.6,552.1 L287.9,553.0 L289.3,554.0 L290.6,555.1 L291.9,556.3 L293.3,557.5 L294.6,558.7 L296.0,559.9 L297.3,561.0 L298.6,562.0 L300.0,563.0 L301.3,563.8 L302.6,564.7 L304.0,565.4 L305.3,566.1 L306.6,566.8 L308.0,567.4 L309.3,567.9 L310.7,568.5 L312.0,569.0 L313.3,569.4 L314.7,569.9 L316.0,570.3 L316.0,589Z" fill="#1a80ea" filter="url(#bl2)"/><path d="M169.0,589 L169.0,567.9 L170.3,567.3 L171.7,566.7 L173.0,566.1 L174.3,565.5 L175.7,564.9 L177.0,564.3 L178.4,563.7 L179.7,563.1 L181.0,562.5 L182.4,562.0 L183.7,561.5 L185.0,561.0 L186.4,560.6 L187.7,560.3 L189.0,560.0 L190.4,559.7 L191.7,559.6 L193.1,559.5 L194.4,559.5 L195.7,559.6 L197.1,559.7 L198.4,559.9 L199.7,560.2 L201.1,560.5 L202.4,560.9 L203.7,561.3 L205.1,561.8 L206.4,562.4 L207.8,562.9 L209.1,563.5 L210.4,564.1 L211.8,564.7 L213.1,565.3 L214.4,566.0 L215.8,566.6 L217.1,566.3 L218.4,565.7 L219.8,565.1 L221.1,564.5 L222.5,563.9 L223.8,563.3 L225.1,562.7 L226.5,562.1 L227.8,561.6 L229.1,561.2 L230.5,560.7 L231.8,560.4 L233.1,560.1 L234.5,559.8 L235.8,559.6 L237.2,559.5 L238.5,559.5 L239.8,559.5 L241.2,559.6 L242.5,559.8 L243.8,560.1 L245.2,560.4 L246.5,560.8 L247.8,561.2 L249.2,561.7 L250.5,562.2 L251.9,562.7 L253.2,563.3 L254.5,563.9 L255.9,564.5 L257.2,565.1 L258.5,565.8 L259.9,566.4 L261.2,567.0 L262.5,566.7 L263.9,566.1 L265.2,565.5 L266.6,564.8 L267.9,564.1 L269.2,563.2 L270.6,562.3 L271.9,561.2 L273.2,560.0 L274.6,558.7 L275.9,557.3 L277.2,555.9 L278.6,554.7 L279.9,553.6 L281.3,552.8 L282.6,552.3 L283.9,552.4 L285.3,553.0 L286.6,554.0 L287.9,555.1 L289.3,556.5 L290.6,557.8 L291.9,559.2 L293.3,560.5 L294.6,561.6 L296.0,562.7 L297.3,563.6 L298.6,564.4 L300.0,565.1 L301.3,565.7 L302.6,566.3 L304.0,566.9 L305.3,567.5 L306.6,568.0 L308.0,568.6 L309.3,569.1 L310.7,569.5 L312.0,570.0 L313.3,570.4 L314.7,570.8 L316.0,571.2 L316.0,589Z" fill="#20c0c4" filter="url(#bl1)"/><path d="M169.0,589 L169.0,569.0 L170.3,568.5 L171.7,567.9 L173.0,567.4 L174.3,566.8 L175.7,566.2 L177.0,565.7 L178.4,565.1 L179.7,564.6 L181.0,564.1 L182.4,563.6 L183.7,563.1 L185.0,562.7 L186.4,562.4 L187.7,562.0 L189.0,561.8 L190.4,561.6 L191.7,561.4 L193.1,561.4 L194.4,561.3 L195.7,561.4 L197.1,561.5 L198.4,561.7 L199.7,562.0 L201.1,562.3 L202.4,562.6 L203.7,563.0 L205.1,563.5 L206.4,563.9 L207.8,564.5 L209.1,565.0 L210.4,565.5 L211.8,566.1 L213.1,566.7 L214.4,567.2 L215.8,567.8 L217.1,567.6 L218.4,567.0 L219.8,566.4 L221.1,565.9 L222.5,565.3 L223.8,564.8 L225.1,564.2 L226.5,563.7 L227.8,563.3 L229.1,562.9 L230.5,562.5 L231.8,562.1 L233.1,561.9 L234.5,561.6 L235.8,561.5 L237.2,561.4 L238.5,561.3 L239.8,561.4 L241.2,561.5 L242.5,561.6 L243.8,561.9 L245.2,562.2 L246.5,562.5 L247.8,562.9 L249.2,563.3 L250.5,563.8 L251.9,564.3 L253.2,564.8 L254.5,565.4 L255.9,565.9 L257.2,566.5 L258.5,567.0 L259.9,567.6 L261.2,568.1 L262.5,567.9 L263.9,567.4 L265.2,566.9 L266.6,566.4 L267.9,565.8 L269.2,565.3 L270.6,564.6 L271.9,563.8 L273.2,562.8 L274.6,561.6 L275.9,560.1 L277.2,558.6 L278.6,557.0 L279.9,555.6 L281.3,554.5 L282.6,553.9 L283.9,554.0 L285.3,554.8 L286.6,556.1 L287.9,557.6 L289.3,559.2 L290.6,560.7 L291.9,562.1 L293.3,563.2 L294.6,564.1 L296.0,564.9 L297.3,565.5 L298.6,566.1 L300.0,566.6 L301.3,567.1 L302.6,567.6 L304.0,568.1 L305.3,568.6 L306.6,569.1 L308.0,569.6 L309.3,570.0 L310.7,570.5 L312.0,570.9 L313.3,571.3 L314.7,571.6 L316.0,572.0 L316.0,589Z" fill="#2cd860" filter="url(#bl1)"/><path d="M169.0,589 L169.0,571.5 L170.3,571.1 L171.7,570.7 L173.0,570.3 L174.3,569.9 L175.7,569.4 L177.0,569.0 L178.4,568.6 L179.7,568.1 L181.0,567.8 L182.4,567.4 L183.7,567.0 L185.0,566.7 L186.4,566.4 L187.7,566.2 L189.0,566.0 L190.4,565.8 L191.7,565.7 L193.1,565.7 L194.4,565.7 L195.7,565.7 L197.1,565.8 L198.4,565.9 L199.7,566.1 L201.1,566.4 L202.4,566.6 L203.7,566.9 L205.1,567.3 L206.4,567.6 L207.8,568.0 L209.1,568.5 L210.4,568.9 L211.8,569.3 L213.1,569.7 L214.4,570.2 L215.8,570.6 L217.1,570.4 L218.4,570.0 L219.8,569.6 L221.1,569.1 L222.5,568.7 L223.8,568.3 L225.1,567.9 L226.5,567.5 L227.8,567.1 L229.1,566.8 L230.5,566.5 L231.8,566.3 L233.1,566.0 L234.5,565.9 L235.8,565.7 L237.2,565.7 L238.5,565.7 L239.8,565.7 L241.2,565.8 L242.5,565.9 L243.8,566.1 L245.2,566.3 L246.5,566.5 L247.8,566.8 L249.2,567.2 L250.5,567.5 L251.9,567.9 L253.2,568.3 L254.5,568.7 L255.9,569.2 L257.2,569.6 L258.5,570.0 L259.9,570.5 L261.2,570.9 L262.5,570.7 L263.9,570.3 L265.2,569.9 L266.6,569.6 L267.9,569.2 L269.2,568.8 L270.6,568.4 L271.9,568.1 L273.2,567.7 L274.6,567.3 L275.9,566.8 L277.2,566.2 L278.6,565.5 L279.9,564.7 L281.3,564.1 L282.6,563.7 L283.9,563.8 L285.3,564.3 L286.6,565.0 L287.9,565.8 L289.3,566.5 L290.6,567.0 L291.9,567.5 L293.3,567.9 L294.6,568.2 L296.0,568.6 L297.3,568.9 L298.6,569.3 L300.0,569.7 L301.3,570.1 L302.6,570.5 L304.0,570.9 L305.3,571.3 L306.6,571.6 L308.0,572.0 L309.3,572.3 L310.7,572.7 L312.0,573.0 L313.3,573.3 L314.7,573.6 L316.0,573.8 L316.0,589Z" fill="#90e030" filter="url(#bl1)"/><path d="M169.0,589 L169.0,573.6 L170.3,573.3 L171.7,573.0 L173.0,572.6 L174.3,572.3 L175.7,572.0 L177.0,571.7 L178.4,571.3 L179.7,571.0 L181.0,570.7 L182.4,570.4 L183.7,570.2 L185.0,569.9 L186.4,569.7 L187.7,569.5 L189.0,569.4 L190.4,569.3 L191.7,569.2 L193.1,569.1 L194.4,569.1 L195.7,569.2 L197.1,569.2 L198.4,569.3 L199.7,569.5 L201.1,569.7 L202.4,569.9 L203.7,570.1 L205.1,570.4 L206.4,570.6 L207.8,570.9 L209.1,571.3 L210.4,571.6 L211.8,571.9 L213.1,572.2 L214.4,572.6 L215.8,572.9 L217.1,572.8 L218.4,572.4 L219.8,572.1 L221.1,571.8 L222.5,571.4 L223.8,571.1 L225.1,570.8 L226.5,570.5 L227.8,570.3 L229.1,570.0 L230.5,569.8 L231.8,569.6 L233.1,569.4 L234.5,569.3 L235.8,569.2 L237.2,569.2 L238.5,569.1 L239.8,569.2 L241.2,569.2 L242.5,569.3 L243.8,569.4 L245.2,569.6 L246.5,569.8 L247.8,570.0 L249.2,570.3 L250.5,570.6 L251.9,570.8 L253.2,571.2 L254.5,571.5 L255.9,571.8 L257.2,572.1 L258.5,572.4 L259.9,572.8 L261.2,573.1 L262.5,573.0 L263.9,572.7 L265.2,572.4 L266.6,572.1 L267.9,571.8 L269.2,571.5 L270.6,571.3 L271.9,571.0 L273.2,570.8 L274.6,570.5 L275.9,570.3 L277.2,570.0 L278.6,569.7 L279.9,569.2 L281.3,568.8 L282.6,568.6 L283.9,568.6 L285.3,569.0 L286.6,569.4 L287.9,569.8 L289.3,570.1 L290.6,570.4 L291.9,570.6 L293.3,570.9 L294.6,571.1 L296.0,571.4 L297.3,571.6 L298.6,571.9 L300.0,572.2 L301.3,572.5 L302.6,572.8 L304.0,573.1 L305.3,573.4 L306.6,573.7 L308.0,573.9 L309.3,574.2 L310.7,574.5 L312.0,574.7 L313.3,574.9 L314.7,575.1 L316.0,575.3 L316.0,589Z" fill="#f2ee10" filter="url(#bl1)"/><path d="M169.0,589 L169.0,575.0 L170.3,574.8 L171.7,574.6 L173.0,574.3 L174.3,574.1 L175.7,573.8 L177.0,573.6 L178.4,573.3 L179.7,573.1 L181.0,572.8 L182.4,572.6 L183.7,572.4 L185.0,572.2 L186.4,572.0 L187.7,571.9 L189.0,571.8 L190.4,571.7 L191.7,571.6 L193.1,571.6 L194.4,571.6 L195.7,571.6 L197.1,571.7 L198.4,571.8 L199.7,571.9 L201.1,572.0 L202.4,572.2 L203.7,572.3 L205.1,572.5 L206.4,572.8 L207.8,573.0 L209.1,573.2 L210.4,573.5 L211.8,573.7 L213.1,574.0 L214.4,574.2 L215.8,574.5 L217.1,574.4 L218.4,574.1 L219.8,573.9 L221.1,573.6 L222.5,573.4 L223.8,573.1 L225.1,572.9 L226.5,572.7 L227.8,572.5 L229.1,572.3 L230.5,572.1 L231.8,572.0 L233.1,571.8 L234.5,571.7 L235.8,571.7 L237.2,571.6 L238.5,571.6 L239.8,571.6 L241.2,571.7 L242.5,571.7 L243.8,571.8 L245.2,572.0 L246.5,572.1 L247.8,572.3 L249.2,572.5 L250.5,572.7 L251.9,572.9 L253.2,573.2 L254.5,573.4 L255.9,573.7 L257.2,573.9 L258.5,574.2 L259.9,574.4 L261.2,574.7 L262.5,574.6 L263.9,574.3 L265.2,574.1 L266.6,573.9 L267.9,573.7 L269.2,573.4 L270.6,573.2 L271.9,573.0 L273.2,572.9 L274.6,572.7 L275.9,572.6 L277.2,572.4 L278.6,572.3 L279.9,572.1 L281.3,571.9 L282.6,571.8 L283.9,571.8 L285.3,572.0 L286.6,572.2 L287.9,572.3 L289.3,572.5 L290.6,572.6 L291.9,572.8 L293.3,572.9 L294.6,573.1 L296.0,573.3 L297.3,573.5 L298.6,573.7 L300.0,574.0 L301.3,574.2 L302.6,574.4 L304.0,574.7 L305.3,574.9 L306.6,575.1 L308.0,575.3 L309.3,575.5 L310.7,575.7 L312.0,575.9 L313.3,576.1 L314.7,576.2 L316.0,576.4 L316.0,589Z" fill="#ffc000" filter="url(#bl1)"/><path d="M169.0,589 L169.0,576.3 L170.3,576.1 L171.7,575.9 L173.0,575.7 L174.3,575.5 L175.7,575.3 L177.0,575.1 L178.4,574.9 L179.7,574.8 L181.0,574.6 L182.4,574.4 L183.7,574.3 L185.0,574.1 L186.4,574.0 L187.7,573.9 L189.0,573.8 L190.4,573.7 L191.7,573.7 L193.1,573.6 L194.4,573.6 L195.7,573.7 L197.1,573.7 L198.4,573.8 L199.7,573.9 L201.1,574.0 L202.4,574.1 L203.7,574.2 L205.1,574.4 L206.4,574.5 L207.8,574.7 L209.1,574.9 L210.4,575.1 L211.8,575.3 L213.1,575.5 L214.4,575.6 L215.8,575.8 L217.1,575.8 L218.4,575.6 L219.8,575.4 L221.1,575.2 L222.5,575.0 L223.8,574.8 L225.1,574.6 L226.5,574.5 L227.8,574.3 L229.1,574.2 L230.5,574.0 L231.8,573.9 L233.1,573.8 L234.5,573.7 L235.8,573.7 L237.2,573.7 L238.5,573.6 L239.8,573.7 L241.2,573.7 L242.5,573.7 L243.8,573.8 L245.2,573.9 L246.5,574.0 L247.8,574.2 L249.2,574.3 L250.5,574.5 L251.9,574.6 L253.2,574.8 L254.5,575.0 L255.9,575.2 L257.2,575.4 L258.5,575.6 L259.9,575.8 L261.2,576.0 L262.5,575.9 L263.9,575.7 L265.2,575.5 L266.6,575.4 L267.9,575.2 L269.2,575.0 L270.6,574.9 L271.9,574.7 L273.2,574.6 L274.6,574.5 L275.9,574.4 L277.2,574.3 L278.6,574.2 L279.9,574.1 L281.3,574.0 L282.6,574.0 L283.9,574.0 L285.3,574.1 L286.6,574.2 L287.9,574.2 L289.3,574.3 L290.6,574.4 L291.9,574.5 L293.3,574.7 L294.6,574.8 L296.0,575.0 L297.3,575.1 L298.6,575.3 L300.0,575.4 L301.3,575.6 L302.6,575.8 L304.0,576.0 L305.3,576.1 L306.6,576.3 L308.0,576.5 L309.3,576.6 L310.7,576.8 L312.0,576.9 L313.3,577.1 L314.7,577.3 L316.0,577.4 L316.0,589Z" fill="#ff8000" filter="url(#bl1)"/><path d="M169.0,589 L169.0,583.9 L170.3,583.7 L171.7,583.4 L173.0,582.7 L174.3,581.6 L175.7,580.0 L177.0,578.1 L178.4,577.3 L179.7,576.6 L181.0,576.2 L182.4,576.0 L183.7,575.9 L185.0,575.8 L186.4,575.7 L187.7,575.7 L189.0,575.6 L190.4,575.5 L191.7,575.5 L193.1,575.5 L194.4,575.5 L195.7,575.5 L197.1,575.5 L198.4,575.6 L199.7,575.6 L201.1,575.7 L202.4,575.8 L203.7,575.9 L205.1,576.0 L206.4,576.1 L207.8,576.3 L209.1,576.8 L210.4,577.5 L211.8,578.0 L213.1,579.3 L214.4,580.1 L215.8,580.6 L217.1,580.4 L218.4,579.8 L219.8,578.8 L221.1,577.8 L222.5,577.2 L223.8,576.6 L225.1,576.2 L226.5,576.1 L227.8,576.0 L229.1,575.9 L230.5,575.8 L231.8,575.7 L233.1,575.6 L234.5,575.6 L235.8,575.5 L237.2,575.5 L238.5,575.5 L239.8,575.5 L241.2,575.5 L242.5,575.6 L243.8,575.6 L245.2,575.7 L246.5,575.8 L247.8,575.9 L249.2,576.0 L250.5,576.1 L251.9,576.2 L253.2,576.4 L254.5,576.8 L255.9,577.3 L257.2,577.6 L258.5,577.8 L259.9,577.9 L261.2,577.9 L262.5,577.7 L263.9,577.3 L265.2,576.9 L266.6,576.7 L267.9,576.6 L269.2,576.5 L270.6,576.4 L271.9,576.3 L273.2,576.2 L274.6,576.1 L275.9,576.0 L277.2,575.9 L278.6,575.9 L279.9,575.8 L281.3,575.8 L282.6,575.7 L283.9,575.8 L285.3,575.8 L286.6,575.9 L287.9,575.9 L289.3,576.0 L290.6,576.0 L291.9,576.1 L293.3,576.2 L294.6,576.3 L296.0,576.4 L297.3,576.5 L298.6,576.6 L300.0,576.9 L301.3,577.4 L302.6,578.1 L304.0,579.9 L305.3,581.3 L306.6,582.3 L308.0,582.8 L309.3,583.0 L310.7,583.1 L312.0,583.2 L313.3,583.3 L314.7,583.4 L316.0,583.5 L316.0,589Z" fill="#f83400" filter="url(#bl1)"/><path d="M169.0,589 L169.0,584.0 L170.3,584.0 L171.7,584.0 L173.0,584.0 L174.3,584.0 L175.7,584.0 L177.0,584.0 L178.4,584.0 L179.7,584.0 L181.0,584.0 L182.4,583.6 L183.7,582.2 L185.0,580.4 L186.4,578.4 L187.7,577.6 L189.0,577.3 L190.4,577.2 L191.7,577.1 L193.1,577.1 L194.4,577.1 L195.7,577.1 L197.1,577.2 L198.4,577.2 L199.7,577.5 L201.1,578.0 L202.4,579.7 L203.7,581.6 L205.1,583.2 L206.4,583.9 L207.8,584.0 L209.1,584.0 L210.4,584.0 L211.8,584.0 L213.1,584.0 L214.4,584.0 L215.8,584.0 L217.1,584.0 L218.4,584.0 L219.8,584.0 L221.1,584.0 L222.5,584.0 L223.8,584.0 L225.1,584.0 L226.5,583.7 L227.8,582.6 L229.1,580.9 L230.5,579.0 L231.8,577.8 L233.1,577.4 L234.5,577.2 L235.8,577.1 L237.2,577.1 L238.5,577.1 L239.8,577.1 L241.2,577.2 L242.5,577.2 L243.8,577.4 L245.2,577.7 L246.5,578.8 L247.8,580.7 L249.2,582.4 L250.5,583.5 L251.9,583.7 L253.2,583.7 L254.5,583.6 L255.9,583.6 L257.2,583.5 L258.5,583.5 L259.9,583.4 L261.2,583.4 L262.5,583.3 L263.9,583.3 L265.2,583.2 L266.6,583.2 L267.9,583.1 L269.2,582.5 L270.6,580.9 L271.9,579.1 L273.2,577.8 L274.6,577.5 L275.9,577.5 L277.2,577.4 L278.6,577.4 L279.9,577.4 L281.3,577.3 L282.6,577.3 L283.9,577.3 L285.3,577.4 L286.6,577.4 L287.9,577.4 L289.3,577.4 L290.6,577.5 L291.9,577.6 L293.3,578.2 L294.6,580.0 L296.0,581.8 L297.3,583.0 L298.6,583.1 L300.0,583.2 L301.3,583.3 L302.6,583.3 L304.0,583.4 L305.3,583.4 L306.6,583.5 L308.0,583.5 L309.3,583.6 L310.7,583.6 L312.0,583.6 L313.3,583.7 L314.7,583.7 L316.0,583.8 L316.0,589Z" fill="#e20020" filter="url(#bl1)"/></g><text x="238.5" y="523.7" font-size="26" font-weight="bold" fill="#fff" text-anchor="middle" >10s</text>
<g clip-path="url(#cl20)"><rect x="310" y="493.5" width="135.0" height="86.5" fill="url(#navy)"/><rect x="300" y="563.0" width="155.0" height="20.0" fill="#0c36cc" opacity="0.5" filter="url(#bl4)"/><path d="M305.9,580 L327.6,518.0 L338.3,518.0 L359.9,580Z" fill="#0d34cc" opacity="0.6" filter="url(#bl6)"/><path d="M313.5,580 L328.6,535.4 L337.3,535.4 L352.4,580Z" fill="#1458e4" opacity="0.6" filter="url(#bl4)"/><path d="M351.5,580 L372.3,532.0 L382.7,532.0 L403.5,580Z" fill="#0d34cc" opacity="0.42" filter="url(#bl6)"/><path d="M358.8,580 L373.3,545.4 L381.7,545.4 L396.2,580Z" fill="#1458e4" opacity="0.42" filter="url(#bl4)"/><path d="M394.1,580 L416.4,500.0 L427.7,500.0 L450.1,580Z" fill="#0d34cc" opacity="0.8" filter="url(#bl6)"/><path d="M401.9,580 L417.6,522.4 L426.5,522.4 L442.2,580Z" fill="#1458e4" opacity="0.8" filter="url(#bl4)"/><path d="M304.0,589 L304.0,565.6 L305.3,565.2 L306.7,564.7 L308.0,564.2 L309.3,563.7 L310.7,563.2 L312.0,562.7 L313.4,562.2 L314.7,561.7 L316.0,561.2 L317.4,560.7 L318.7,560.2 L320.0,559.8 L321.4,559.4 L322.7,559.0 L324.0,558.6 L325.4,558.3 L326.7,558.0 L328.1,557.8 L329.4,557.6 L330.7,557.5 L332.1,557.4 L333.4,557.4 L334.7,557.5 L336.1,557.6 L337.4,557.7 L338.7,557.9 L340.1,558.2 L341.4,558.5 L342.8,558.8 L344.1,559.2 L345.4,559.6 L346.8,560.1 L348.1,560.6 L349.4,561.0 L350.8,561.5 L352.1,562.1 L353.4,562.6 L354.8,563.1 L356.1,562.9 L357.5,562.4 L358.8,561.9 L360.1,561.4 L361.5,560.9 L362.8,560.4 L364.1,559.9 L365.5,559.5 L366.8,559.1 L368.1,558.7 L369.5,558.4 L370.8,558.1 L372.2,557.9 L373.5,557.7 L374.8,557.5 L376.2,557.5 L377.5,557.4 L378.8,557.5 L380.2,557.5 L381.5,557.7 L382.8,557.9 L384.2,558.1 L385.5,558.4 L386.9,558.7 L388.2,559.1 L389.5,559.5 L390.9,559.9 L392.2,560.4 L393.5,560.9 L394.9,561.3 L396.2,561.8 L397.5,562.2 L398.9,562.6 L400.2,562.6 L401.6,561.8 L402.9,561.0 L404.2,560.1 L405.6,559.2 L406.9,558.2 L408.2,557.1 L409.6,556.0 L410.9,555.0 L412.2,553.9 L413.6,552.9 L414.9,552.0 L416.3,551.2 L417.6,550.5 L418.9,550.0 L420.3,549.7 L421.6,549.5 L422.9,549.6 L424.3,549.8 L425.6,550.2 L426.9,550.7 L428.3,551.4 L429.6,552.3 L431.0,553.2 L432.3,554.2 L433.6,555.3 L435.0,556.4 L436.3,557.5 L437.6,558.5 L439.0,559.5 L440.3,560.4 L441.6,561.3 L443.0,562.1 L444.3,562.8 L445.7,563.5 L447.0,564.1 L448.3,564.6 L449.7,565.1 L451.0,565.6 L451.0,589Z" fill="#0e44d6" filter="url(#bl2)"/><path d="M304.0,589 L304.0,567.0 L305.3,566.6 L306.7,566.2 L308.0,565.8 L309.3,565.3 L310.7,564.9 L312.0,564.4 L313.4,564.0 L314.7,563.5 L316.0,563.1 L317.4,562.6 L318.7,562.2 L320.0,561.8 L321.4,561.4 L322.7,561.0 L324.0,560.7 L325.4,560.4 L326.7,560.2 L328.1,560.0 L329.4,559.8 L330.7,559.7 L332.1,559.7 L333.4,559.7 L334.7,559.7 L336.1,559.8 L337.4,559.9 L338.7,560.1 L340.1,560.3 L341.4,560.6 L342.8,560.9 L344.1,561.3 L345.4,561.6 L346.8,562.0 L348.1,562.5 L349.4,562.9 L350.8,563.4 L352.1,563.8 L353.4,564.3 L354.8,564.7 L356.1,564.6 L357.5,564.1 L358.8,563.7 L360.1,563.2 L361.5,562.8 L362.8,562.3 L364.1,561.9 L365.5,561.5 L366.8,561.2 L368.1,560.8 L369.5,560.5 L370.8,560.3 L372.2,560.0 L373.5,559.9 L374.8,559.8 L376.2,559.7 L377.5,559.6 L378.8,559.7 L380.2,559.8 L381.5,559.9 L382.8,560.0 L384.2,560.3 L385.5,560.5 L386.9,560.8 L388.2,561.2 L389.5,561.5 L390.9,561.9 L392.2,562.3 L393.5,562.8 L394.9,563.2 L396.2,563.6 L397.5,564.1 L398.9,564.5 L400.2,564.6 L401.6,564.0 L402.9,563.4 L404.2,562.8 L405.6,562.0 L406.9,561.2 L408.2,560.3 L409.6,559.3 L410.9,558.2 L412.2,557.1 L413.6,556.0 L414.9,554.8 L416.3,553.8 L417.6,552.8 L418.9,552.0 L420.3,551.4 L421.6,551.1 L422.9,551.2 L424.3,551.6 L425.6,552.3 L426.9,553.1 L428.3,554.1 L429.6,555.2 L431.0,556.3 L432.3,557.5 L433.6,558.6 L435.0,559.6 L436.3,560.6 L437.6,561.5 L439.0,562.3 L440.3,563.0 L441.6,563.6 L443.0,564.2 L444.3,564.8 L445.7,565.3 L447.0,565.7 L448.3,566.2 L449.7,566.6 L451.0,567.0 L451.0,589Z" fill="#1a80ea" filter="url(#bl2)"/><path d="M304.0,589 L304.0,568.2 L305.3,567.9 L306.7,567.5 L308.0,567.1 L309.3,566.7 L310.7,566.3 L312.0,565.8 L313.4,565.4 L314.7,565.0 L316.0,564.6 L317.4,564.2 L318.7,563.8 L320.0,563.4 L321.4,563.1 L322.7,562.8 L324.0,562.5 L325.4,562.2 L326.7,562.0 L328.1,561.8 L329.4,561.7 L330.7,561.6 L332.1,561.5 L333.4,561.5 L334.7,561.5 L336.1,561.6 L337.4,561.8 L338.7,561.9 L340.1,562.1 L341.4,562.4 L342.8,562.7 L344.1,563.0 L345.4,563.3 L346.8,563.7 L348.1,564.1 L349.4,564.5 L350.8,564.9 L352.1,565.3 L353.4,565.7 L354.8,566.1 L356.1,566.0 L357.5,565.6 L358.8,565.1 L360.1,564.7 L361.5,564.3 L362.8,563.9 L364.1,563.6 L365.5,563.2 L366.8,562.9 L368.1,562.6 L369.5,562.3 L370.8,562.1 L372.2,561.9 L373.5,561.7 L374.8,561.6 L376.2,561.5 L377.5,561.5 L378.8,561.5 L380.2,561.6 L381.5,561.7 L382.8,561.9 L384.2,562.1 L385.5,562.3 L386.9,562.6 L388.2,562.9 L389.5,563.2 L390.9,563.6 L392.2,563.9 L393.5,564.3 L394.9,564.7 L396.2,565.1 L397.5,565.6 L398.9,566.0 L400.2,566.1 L401.6,565.7 L402.9,565.2 L404.2,564.7 L405.6,564.2 L406.9,563.6 L408.2,563.0 L409.6,562.1 L410.9,561.2 L412.2,560.1 L413.6,558.8 L414.9,557.5 L416.3,556.1 L417.6,554.9 L418.9,553.8 L420.3,552.9 L421.6,552.5 L422.9,552.6 L424.3,553.2 L425.6,554.1 L426.9,555.3 L428.3,556.6 L429.6,557.9 L431.0,559.2 L432.3,560.4 L433.6,561.5 L435.0,562.4 L436.3,563.2 L437.6,563.8 L439.0,564.4 L440.3,564.9 L441.6,565.4 L443.0,565.8 L444.3,566.2 L445.7,566.7 L447.0,567.1 L448.3,567.5 L449.7,567.9 L451.0,568.2 L451.0,589Z" fill="#20c0c4" filter="url(#bl1)"/><path d="M304.0,589 L304.0,569.3 L305.3,568.9 L306.7,568.6 L308.0,568.2 L309.3,567.9 L310.7,567.5 L312.0,567.1 L313.4,566.7 L314.7,566.4 L316.0,566.0 L317.4,565.6 L318.7,565.3 L320.0,564.9 L321.4,564.6 L322.7,564.3 L324.0,564.0 L325.4,563.8 L326.7,563.6 L328.1,563.4 L329.4,563.3 L330.7,563.2 L332.1,563.2 L333.4,563.2 L334.7,563.2 L336.1,563.3 L337.4,563.4 L338.7,563.5 L340.1,563.7 L341.4,564.0 L342.8,564.2 L344.1,564.5 L345.4,564.8 L346.8,565.1 L348.1,565.5 L349.4,565.9 L350.8,566.2 L352.1,566.6 L353.4,567.0 L354.8,567.4 L356.1,567.2 L357.5,566.9 L358.8,566.5 L360.1,566.1 L361.5,565.7 L362.8,565.4 L364.1,565.0 L365.5,564.7 L366.8,564.4 L368.1,564.1 L369.5,563.9 L370.8,563.7 L372.2,563.5 L373.5,563.4 L374.8,563.2 L376.2,563.2 L377.5,563.2 L378.8,563.2 L380.2,563.2 L381.5,563.4 L382.8,563.5 L384.2,563.7 L385.5,563.9 L386.9,564.1 L388.2,564.4 L389.5,564.7 L390.9,565.0 L392.2,565.4 L393.5,565.7 L394.9,566.1 L396.2,566.5 L397.5,566.9 L398.9,567.2 L400.2,567.4 L401.6,567.0 L402.9,566.6 L404.2,566.2 L405.6,565.8 L406.9,565.4 L408.2,565.0 L409.6,564.4 L410.9,563.7 L412.2,562.9 L413.6,561.7 L414.9,560.3 L416.3,558.8 L417.6,557.2 L418.9,555.7 L420.3,554.6 L421.6,554.0 L422.9,554.1 L424.3,554.9 L425.6,556.2 L426.9,557.7 L428.3,559.3 L429.6,560.8 L431.0,562.1 L432.3,563.2 L433.6,564.0 L435.0,564.6 L436.3,565.1 L437.6,565.5 L439.0,565.9 L440.3,566.3 L441.6,566.7 L443.0,567.1 L444.3,567.5 L445.7,567.9 L447.0,568.2 L448.3,568.6 L449.7,568.9 L451.0,569.3 L451.0,589Z" fill="#2cd860" filter="url(#bl1)"/><path d="M304.0,589 L304.0,571.8 L305.3,571.5 L306.7,571.2 L308.0,571.0 L309.3,570.7 L310.7,570.4 L312.0,570.1 L313.4,569.8 L314.7,569.5 L316.0,569.2 L317.4,568.9 L318.7,568.7 L320.0,568.4 L321.4,568.2 L322.7,567.9 L324.0,567.7 L325.4,567.5 L326.7,567.4 L328.1,567.3 L329.4,567.2 L330.7,567.1 L332.1,567.1 L333.4,567.1 L334.7,567.1 L336.1,567.1 L337.4,567.2 L338.7,567.3 L340.1,567.5 L341.4,567.7 L342.8,567.9 L344.1,568.1 L345.4,568.3 L346.8,568.6 L348.1,568.8 L349.4,569.1 L350.8,569.4 L352.1,569.7 L353.4,570.0 L354.8,570.3 L356.1,570.2 L357.5,569.9 L358.8,569.6 L360.1,569.3 L361.5,569.0 L362.8,568.8 L364.1,568.5 L365.5,568.2 L366.8,568.0 L368.1,567.8 L369.5,567.6 L370.8,567.4 L372.2,567.3 L373.5,567.2 L374.8,567.1 L376.2,567.1 L377.5,567.0 L378.8,567.1 L380.2,567.1 L381.5,567.2 L382.8,567.3 L384.2,567.4 L385.5,567.6 L386.9,567.8 L388.2,568.0 L389.5,568.2 L390.9,568.5 L392.2,568.8 L393.5,569.0 L394.9,569.3 L396.2,569.6 L397.5,569.9 L398.9,570.2 L400.2,570.3 L401.6,570.0 L402.9,569.7 L404.2,569.4 L405.6,569.1 L406.9,568.8 L408.2,568.6 L409.6,568.3 L410.9,568.0 L412.2,567.7 L413.6,567.4 L414.9,567.0 L416.3,566.4 L417.6,565.7 L418.9,565.0 L420.3,564.3 L421.6,563.9 L422.9,564.0 L424.3,564.5 L425.6,565.2 L426.9,566.0 L428.3,566.6 L429.6,567.1 L431.0,567.5 L432.3,567.8 L433.6,568.1 L435.0,568.4 L436.3,568.6 L437.6,568.9 L439.0,569.2 L440.3,569.5 L441.6,569.8 L443.0,570.1 L444.3,570.4 L445.7,570.7 L447.0,571.0 L448.3,571.2 L449.7,571.5 L451.0,571.8 L451.0,589Z" fill="#90e030" filter="url(#bl1)"/><path d="M304.0,589 L304.0,573.8 L305.3,573.6 L306.7,573.4 L308.0,573.2 L309.3,572.9 L310.7,572.7 L312.0,572.5 L313.4,572.3 L314.7,572.1 L316.0,571.8 L317.4,571.6 L318.7,571.4 L320.0,571.2 L321.4,571.0 L322.7,570.9 L324.0,570.7 L325.4,570.6 L326.7,570.5 L328.1,570.4 L329.4,570.3 L330.7,570.2 L332.1,570.2 L333.4,570.2 L334.7,570.2 L336.1,570.3 L337.4,570.3 L338.7,570.4 L340.1,570.5 L341.4,570.7 L342.8,570.8 L344.1,571.0 L345.4,571.2 L346.8,571.4 L348.1,571.6 L349.4,571.8 L350.8,572.0 L352.1,572.2 L353.4,572.4 L354.8,572.6 L356.1,572.6 L357.5,572.4 L358.8,572.1 L360.1,571.9 L361.5,571.7 L362.8,571.5 L364.1,571.3 L365.5,571.1 L366.8,570.9 L368.1,570.8 L369.5,570.6 L370.8,570.5 L372.2,570.4 L373.5,570.3 L374.8,570.2 L376.2,570.2 L377.5,570.2 L378.8,570.2 L380.2,570.2 L381.5,570.3 L382.8,570.4 L384.2,570.5 L385.5,570.6 L386.9,570.8 L388.2,570.9 L389.5,571.1 L390.9,571.3 L392.2,571.5 L393.5,571.7 L394.9,571.9 L396.2,572.1 L397.5,572.3 L398.9,572.6 L400.2,572.6 L401.6,572.4 L402.9,572.2 L404.2,572.0 L405.6,571.8 L406.9,571.5 L408.2,571.3 L409.6,571.1 L410.9,571.0 L412.2,570.8 L413.6,570.6 L414.9,570.4 L416.3,570.2 L417.6,569.8 L418.9,569.4 L420.3,569.0 L421.6,568.7 L422.9,568.8 L424.3,569.1 L425.6,569.6 L426.9,570.0 L428.3,570.3 L429.6,570.5 L431.0,570.7 L432.3,570.8 L433.6,571.0 L435.0,571.2 L436.3,571.4 L437.6,571.6 L439.0,571.8 L440.3,572.0 L441.6,572.3 L443.0,572.5 L444.3,572.7 L445.7,572.9 L447.0,573.2 L448.3,573.4 L449.7,573.6 L451.0,573.8 L451.0,589Z" fill="#f2ee10" filter="url(#bl1)"/><path d="M304.0,589 L304.0,580.9 L305.3,580.8 L306.7,580.7 L308.0,580.6 L309.3,580.5 L310.7,580.3 L312.0,580.2 L313.4,580.1 L314.7,580.0 L316.0,579.8 L317.4,579.7 L318.7,579.5 L320.0,579.3 L321.4,579.0 L322.7,578.7 L324.0,578.3 L325.4,577.9 L326.7,577.7 L328.1,577.4 L329.4,577.1 L330.7,576.7 L332.1,576.1 L333.4,575.5 L334.7,574.8 L336.1,574.1 L337.4,573.4 L338.7,572.9 L340.1,572.7 L341.4,572.8 L342.8,572.9 L344.1,573.0 L345.4,573.2 L346.8,573.3 L348.1,573.5 L349.4,573.6 L350.8,573.8 L352.1,574.0 L353.4,574.1 L354.8,574.3 L356.1,574.3 L357.5,574.1 L358.8,573.9 L360.1,573.7 L361.5,573.6 L362.8,573.4 L364.1,573.3 L365.5,573.1 L366.8,573.1 L368.1,573.3 L369.5,573.9 L370.8,574.5 L372.2,575.1 L373.5,575.7 L374.8,576.2 L376.2,576.6 L377.5,577.0 L378.8,577.2 L380.2,577.3 L381.5,577.3 L382.8,577.3 L384.2,577.1 L385.5,576.9 L386.9,576.6 L388.2,576.3 L389.5,575.9 L390.9,575.4 L392.2,575.0 L393.5,574.6 L394.9,574.3 L396.2,574.1 L397.5,574.1 L398.9,574.3 L400.2,574.3 L401.6,574.1 L402.9,574.0 L404.2,573.8 L405.6,573.6 L406.9,573.5 L408.2,573.3 L409.6,573.2 L410.9,573.0 L412.2,572.9 L413.6,572.8 L414.9,572.7 L416.3,572.5 L417.6,572.5 L418.9,572.7 L420.3,572.9 L421.6,573.1 L422.9,573.6 L424.3,574.3 L425.6,575.1 L426.9,575.9 L428.3,576.5 L429.6,577.0 L431.0,577.3 L432.3,577.6 L433.6,577.8 L435.0,577.9 L436.3,578.1 L437.6,578.5 L439.0,578.8 L440.3,579.1 L441.6,579.4 L443.0,579.6 L444.3,579.9 L445.7,580.1 L447.0,580.3 L448.3,580.5 L449.7,580.6 L451.0,580.8 L451.0,589Z" fill="#ffc000" filter="url(#bl1)"/><path d="M304.0,589 L304.0,584.0 L305.3,584.0 L306.7,584.0 L308.0,584.0 L309.3,584.0 L310.7,584.0 L312.0,584.0 L313.4,584.0 L314.7,584.0 L316.0,584.0 L317.4,584.0 L318.7,584.0 L320.0,584.0 L321.4,584.0 L322.7,584.0 L324.0,584.0 L325.4,584.0 L326.7,584.0 L328.1,584.0 L329.4,584.0 L330.7,584.0 L332.1,584.0 L333.4,584.0 L334.7,584.0 L336.1,584.0 L337.4,584.0 L338.7,584.0 L340.1,584.0 L341.4,583.8 L342.8,582.7 L344.1,581.0 L345.4,579.0 L346.8,577.7 L348.1,577.1 L349.4,576.8 L350.8,576.5 L352.1,576.5 L353.4,576.5 L354.8,576.7 L356.1,576.9 L357.5,577.1 L358.8,577.5 L360.1,578.2 L361.5,580.0 L362.8,581.8 L364.1,583.2 L365.5,583.9 L366.8,584.0 L368.1,583.9 L369.5,583.9 L370.8,583.9 L372.2,583.9 L373.5,583.9 L374.8,583.8 L376.2,583.8 L377.5,583.8 L378.8,583.7 L380.2,583.7 L381.5,583.6 L382.8,583.5 L384.2,583.5 L385.5,583.4 L386.9,583.3 L388.2,583.2 L389.5,583.1 L390.9,582.9 L392.2,582.8 L393.5,582.7 L394.9,582.5 L396.2,582.3 L397.5,582.2 L398.9,582.0 L400.2,581.8 L401.6,581.6 L402.9,581.3 L404.2,580.9 L405.6,580.5 L406.9,580.2 L408.2,580.1 L409.6,580.1 L410.9,580.2 L412.2,580.1 L413.6,580.0 L414.9,579.8 L416.3,579.5 L417.6,578.5 L418.9,577.7 L420.3,577.1 L421.6,576.7 L422.9,576.8 L424.3,577.3 L425.6,577.8 L426.9,578.9 L428.3,579.6 L429.6,579.9 L431.0,580.1 L432.3,580.2 L433.6,580.4 L435.0,580.5 L436.3,580.7 L437.6,580.9 L439.0,581.1 L440.3,581.3 L441.6,581.5 L443.0,581.7 L444.3,581.9 L445.7,582.1 L447.0,582.2 L448.3,582.4 L449.7,582.6 L451.0,582.7 L451.0,589Z" fill="#ff8000" filter="url(#bl1)"/><path d="M304.0,589 L304.0,584.0 L305.3,584.0 L306.7,584.0 L308.0,584.0 L309.3,584.0 L310.7,584.0 L312.0,584.0 L313.4,584.0 L314.7,584.0 L316.0,584.0 L317.4,584.0 L318.7,584.0 L320.0,584.0 L321.4,584.0 L322.7,584.0 L324.0,584.0 L325.4,584.0 L326.7,584.0 L328.1,584.0 L329.4,584.0 L330.7,584.0 L332.1,584.0 L333.4,584.0 L334.7,584.0 L336.1,584.0 L337.4,584.0 L338.7,584.0 L340.1,584.0 L341.4,584.0 L342.8,584.0 L344.1,584.0 L345.4,584.0 L346.8,584.0 L348.1,584.0 L349.4,584.0 L350.8,584.0 L352.1,584.0 L353.4,584.0 L354.8,584.0 L356.1,584.0 L357.5,584.0 L358.8,584.0 L360.1,584.0 L361.5,584.0 L362.8,584.0 L364.1,584.0 L365.5,584.0 L366.8,584.0 L368.1,584.0 L369.5,584.0 L370.8,583.9 L372.2,583.9 L373.5,583.9 L374.8,583.9 L376.2,583.9 L377.5,583.9 L378.8,583.8 L380.2,583.8 L381.5,583.8 L382.8,583.7 L384.2,583.7 L385.5,583.6 L386.9,583.6 L388.2,583.5 L389.5,583.4 L390.9,583.3 L392.2,583.3 L393.5,583.2 L394.9,583.1 L396.2,583.0 L397.5,582.9 L398.9,582.8 L400.2,582.6 L401.6,582.5 L402.9,582.4 L404.2,582.3 L405.6,582.2 L406.9,582.0 L408.2,581.9 L409.6,581.8 L410.9,581.7 L412.2,581.6 L413.6,581.5 L414.9,581.4 L416.3,581.4 L417.6,581.1 L418.9,580.2 L420.3,578.7 L421.6,577.8 L422.9,577.9 L424.3,579.2 L425.6,580.6 L426.9,581.2 L428.3,581.4 L429.6,581.5 L431.0,581.6 L432.3,581.6 L433.6,581.7 L435.0,581.9 L436.3,582.0 L437.6,582.1 L439.0,582.2 L440.3,582.3 L441.6,582.4 L443.0,582.6 L444.3,582.7 L445.7,582.8 L447.0,582.9 L448.3,583.0 L449.7,583.1 L451.0,583.2 L451.0,589Z" fill="#f83400" filter="url(#bl1)"/><path d="M304.0,589 L304.0,584.0 L305.3,584.0 L306.7,584.0 L308.0,584.0 L309.3,584.0 L310.7,584.0 L312.0,584.0 L313.4,584.0 L314.7,584.0 L316.0,584.0 L317.4,584.0 L318.7,584.0 L320.0,584.0 L321.4,584.0 L322.7,584.0 L324.0,584.0 L325.4,584.0 L326.7,584.0 L328.1,584.0 L329.4,584.0 L330.7,584.0 L332.1,584.0 L333.4,584.0 L334.7,584.0 L336.1,584.0 L337.4,584.0 L338.7,584.0 L340.1,584.0 L341.4,584.0 L342.8,584.0 L344.1,584.0 L345.4,584.0 L346.8,584.0 L348.1,584.0 L349.4,584.0 L350.8,584.0 L352.1,584.0 L353.4,584.0 L354.8,584.0 L356.1,584.0 L357.5,584.0 L358.8,584.0 L360.1,584.0 L361.5,584.0 L362.8,584.0 L364.1,584.0 L365.5,584.0 L366.8,584.0 L368.1,584.0 L369.5,584.0 L370.8,584.0 L372.2,584.0 L373.5,584.0 L374.8,584.0 L376.2,583.9 L377.5,583.9 L378.8,583.9 L380.2,583.9 L381.5,583.9 L382.8,583.9 L384.2,583.9 L385.5,583.8 L386.9,583.8 L388.2,583.8 L389.5,583.7 L390.9,583.7 L392.2,583.7 L393.5,583.6 L394.9,583.6 L396.2,583.5 L397.5,583.5 L398.9,583.4 L400.2,583.4 L401.6,583.3 L402.9,583.3 L404.2,583.2 L405.6,583.2 L406.9,583.1 L408.2,583.1 L409.6,583.0 L410.9,583.0 L412.2,582.9 L413.6,582.9 L414.9,582.9 L416.3,582.8 L417.6,582.8 L418.9,582.6 L420.3,581.6 L421.6,580.3 L422.9,580.6 L424.3,582.0 L425.6,582.8 L426.9,582.8 L428.3,582.8 L429.6,582.9 L431.0,582.9 L432.3,583.0 L433.6,583.0 L435.0,583.0 L436.3,583.1 L437.6,583.1 L439.0,583.2 L440.3,583.3 L441.6,583.3 L443.0,583.4 L444.3,583.4 L445.7,583.5 L447.0,583.5 L448.3,583.6 L449.7,583.6 L451.0,583.6 L451.0,589Z" fill="#e20020" filter="url(#bl1)"/></g><text x="374.5" y="523.7" font-size="26" font-weight="bold" fill="#fff" text-anchor="middle" >20s</text>
<g clip-path="url(#cl01)"><rect x="41" y="580" width="134.0" height="86.0" fill="url(#navy)"/><rect x="31" y="642.5" width="154.0" height="26.5" fill="#0c36cc" opacity="0.5" filter="url(#bl4)"/><path d="M39.4,666 L57.8,592.0 L67.0,592.0 L85.4,666Z" fill="#0d34cc" opacity="0.62" filter="url(#bl6)"/><path d="M45.9,666 L58.8,612.7 L66.1,612.7 L79.0,666Z" fill="#1458e4" opacity="0.62" filter="url(#bl4)"/><path d="M85.0,666 L103.4,594.0 L112.6,594.0 L131.0,666Z" fill="#0d34cc" opacity="0.58" filter="url(#bl6)"/><path d="M91.4,666 L104.3,614.2 L111.7,614.2 L124.6,666Z" fill="#1458e4" opacity="0.58" filter="url(#bl4)"/><path d="M127.6,666 L150.0,566.0 L161.2,566.0 L183.6,666Z" fill="#0d34cc" opacity="0.95" filter="url(#bl6)"/><path d="M135.4,666 L151.1,594.0 L160.0,594.0 L175.7,666Z" fill="#1458e4" opacity="0.95" filter="url(#bl4)"/><path d="M35.0,675 L35.0,648.3 L36.3,648.2 L37.7,648.2 L39.0,648.2 L40.3,648.2 L41.6,648.1 L43.0,648.1 L44.3,648.0 L45.6,648.0 L46.9,647.9 L48.3,647.8 L49.6,647.7 L50.9,647.6 L52.3,647.5 L53.6,647.4 L54.9,647.4 L56.2,647.3 L57.6,647.2 L58.9,647.2 L60.2,647.1 L61.5,647.1 L62.9,647.1 L64.2,647.1 L65.5,647.1 L66.9,647.2 L68.2,647.3 L69.5,647.3 L70.8,647.4 L72.2,647.5 L73.5,647.6 L74.8,647.7 L76.1,647.7 L77.5,647.8 L78.8,647.9 L80.1,647.9 L81.5,648.0 L82.8,648.0 L84.1,648.0 L85.4,648.0 L86.8,648.0 L88.1,647.9 L89.4,647.9 L90.7,647.8 L92.1,647.7 L93.4,647.6 L94.7,647.4 L96.1,647.3 L97.4,647.2 L98.7,647.0 L100.0,646.9 L101.4,646.8 L102.7,646.7 L104.0,646.6 L105.3,646.5 L106.7,646.5 L108.0,646.5 L109.3,646.5 L110.7,646.5 L112.0,646.6 L113.3,646.7 L114.6,646.8 L116.0,646.9 L117.3,647.1 L118.6,647.2 L119.9,647.3 L121.3,647.5 L122.6,647.6 L123.9,647.7 L125.3,647.8 L126.6,647.9 L127.9,647.9 L129.2,647.8 L130.6,647.5 L131.9,646.9 L133.2,645.7 L134.5,643.9 L135.9,641.5 L137.2,638.8 L138.5,635.7 L139.9,632.5 L141.2,629.4 L142.5,626.4 L143.8,623.6 L145.2,621.0 L146.5,618.9 L147.8,617.1 L149.1,615.7 L150.5,614.6 L151.8,613.9 L153.1,613.5 L154.5,613.3 L155.8,613.3 L157.1,613.4 L158.4,613.6 L159.8,614.1 L161.1,614.9 L162.4,616.1 L163.7,617.6 L165.1,619.5 L166.4,621.8 L167.7,624.4 L169.1,627.3 L170.4,630.4 L171.7,633.6 L173.0,636.7 L174.4,639.7 L175.7,642.4 L177.0,644.6 L178.3,646.2 L179.7,647.2 L181.0,647.8 L181.0,675Z" fill="#0e44d6" filter="url(#bl2)"/><path d="M35.0,675 L35.0,650.0 L36.3,650.0 L37.7,650.0 L39.0,649.9 L40.3,649.9 L41.6,649.9 L43.0,649.8 L44.3,649.8 L45.6,649.7 L46.9,649.7 L48.3,649.6 L49.6,649.5 L50.9,649.4 L52.3,649.3 L53.6,649.3 L54.9,649.2 L56.2,649.1 L57.6,649.1 L58.9,649.0 L60.2,649.0 L61.5,649.0 L62.9,649.0 L64.2,649.0 L65.5,649.0 L66.9,649.0 L68.2,649.1 L69.5,649.2 L70.8,649.2 L72.2,649.3 L73.5,649.4 L74.8,649.5 L76.1,649.5 L77.5,649.6 L78.8,649.7 L80.1,649.7 L81.5,649.7 L82.8,649.8 L84.1,649.8 L85.4,649.8 L86.8,649.7 L88.1,649.7 L89.4,649.6 L90.7,649.6 L92.1,649.5 L93.4,649.4 L94.7,649.3 L96.1,649.2 L97.4,649.0 L98.7,648.9 L100.0,648.8 L101.4,648.7 L102.7,648.6 L104.0,648.5 L105.3,648.4 L106.7,648.4 L108.0,648.4 L109.3,648.4 L110.7,648.4 L112.0,648.5 L113.3,648.6 L114.6,648.7 L116.0,648.8 L117.3,648.9 L118.6,649.0 L119.9,649.2 L121.3,649.3 L122.6,649.4 L123.9,649.5 L125.3,649.6 L126.6,649.7 L127.9,649.7 L129.2,649.8 L130.6,649.8 L131.9,649.7 L133.2,649.5 L134.5,649.0 L135.9,647.9 L137.2,646.2 L138.5,643.7 L139.9,640.8 L141.2,637.5 L142.5,634.0 L143.8,630.6 L145.2,627.3 L146.5,624.2 L147.8,621.6 L149.1,619.3 L150.5,617.6 L151.8,616.3 L153.1,615.5 L154.5,615.2 L155.8,615.1 L157.1,615.2 L158.4,615.7 L159.8,616.7 L161.1,618.1 L162.4,620.0 L163.7,622.4 L165.1,625.2 L166.4,628.3 L167.7,631.7 L169.1,635.1 L170.4,638.6 L171.7,641.8 L173.0,644.6 L174.4,646.8 L175.7,648.4 L177.0,649.3 L178.3,649.7 L179.7,649.9 L181.0,650.0 L181.0,675Z" fill="#1a80ea" filter="url(#bl2)"/><path d="M35.0,675 L35.0,651.5 L36.3,651.4 L37.7,651.4 L39.0,651.4 L40.3,651.4 L41.6,651.3 L43.0,651.3 L44.3,651.3 L45.6,651.2 L46.9,651.1 L48.3,651.1 L49.6,651.0 L50.9,650.9 L52.3,650.9 L53.6,650.8 L54.9,650.7 L56.2,650.7 L57.6,650.6 L58.9,650.6 L60.2,650.5 L61.5,650.5 L62.9,650.5 L64.2,650.5 L65.5,650.5 L66.9,650.6 L68.2,650.6 L69.5,650.7 L70.8,650.8 L72.2,650.8 L73.5,650.9 L74.8,651.0 L76.1,651.0 L77.5,651.1 L78.8,651.2 L80.1,651.2 L81.5,651.2 L82.8,651.2 L84.1,651.2 L85.4,651.2 L86.8,651.2 L88.1,651.2 L89.4,651.1 L90.7,651.1 L92.1,651.0 L93.4,650.9 L94.7,650.8 L96.1,650.7 L97.4,650.6 L98.7,650.5 L100.0,650.4 L101.4,650.3 L102.7,650.2 L104.0,650.1 L105.3,650.0 L106.7,650.0 L108.0,650.0 L109.3,650.0 L110.7,650.0 L112.0,650.1 L113.3,650.2 L114.6,650.3 L116.0,650.4 L117.3,650.5 L118.6,650.6 L119.9,650.7 L121.3,650.8 L122.6,650.9 L123.9,651.0 L125.3,651.1 L126.6,651.2 L127.9,651.2 L129.2,651.3 L130.6,651.3 L131.9,651.3 L133.2,651.3 L134.5,651.3 L135.9,651.1 L137.2,650.8 L138.5,650.0 L139.9,648.5 L141.2,646.2 L142.5,643.1 L143.8,639.5 L145.2,635.6 L146.5,631.7 L147.8,627.9 L149.1,624.5 L150.5,621.6 L151.8,619.4 L153.1,617.9 L154.5,617.0 L155.8,616.9 L157.1,617.2 L158.4,618.3 L159.8,620.0 L161.1,622.5 L162.4,625.5 L163.7,629.1 L165.1,632.9 L166.4,636.8 L167.7,640.7 L169.1,644.1 L170.4,647.0 L171.7,649.1 L173.0,650.4 L174.4,651.0 L175.7,651.3 L177.0,651.4 L178.3,651.4 L179.7,651.5 L181.0,651.5 L181.0,675Z" fill="#20c0c4" filter="url(#bl1)"/><path d="M35.0,675 L35.0,652.8 L36.3,652.8 L37.7,652.7 L39.0,652.7 L40.3,652.7 L41.6,652.7 L43.0,652.6 L44.3,652.6 L45.6,652.5 L46.9,652.5 L48.3,652.4 L49.6,652.4 L50.9,652.3 L52.3,652.2 L53.6,652.2 L54.9,652.1 L56.2,652.0 L57.6,652.0 L58.9,651.9 L60.2,651.9 L61.5,651.9 L62.9,651.9 L64.2,651.9 L65.5,651.9 L66.9,652.0 L68.2,652.0 L69.5,652.1 L70.8,652.1 L72.2,652.2 L73.5,652.3 L74.8,652.3 L76.1,652.4 L77.5,652.4 L78.8,652.5 L80.1,652.5 L81.5,652.6 L82.8,652.6 L84.1,652.6 L85.4,652.6 L86.8,652.5 L88.1,652.5 L89.4,652.5 L90.7,652.4 L92.1,652.3 L93.4,652.3 L94.7,652.2 L96.1,652.1 L97.4,652.0 L98.7,651.9 L100.0,651.8 L101.4,651.7 L102.7,651.6 L104.0,651.5 L105.3,651.5 L106.7,651.5 L108.0,651.4 L109.3,651.5 L110.7,651.5 L112.0,651.5 L113.3,651.6 L114.6,651.7 L116.0,651.8 L117.3,651.9 L118.6,652.0 L119.9,652.1 L121.3,652.2 L122.6,652.3 L123.9,652.3 L125.3,652.4 L126.6,652.5 L127.9,652.6 L129.2,652.6 L130.6,652.6 L131.9,652.7 L133.2,652.7 L134.5,652.7 L135.9,652.6 L137.2,652.6 L138.5,652.4 L139.9,652.1 L141.2,651.3 L142.5,649.8 L143.8,647.3 L145.2,644.0 L146.5,640.1 L147.8,635.9 L149.1,631.6 L150.5,627.6 L151.8,624.1 L153.1,621.3 L154.5,619.6 L155.8,619.1 L157.1,620.0 L158.4,622.1 L159.8,625.1 L161.1,628.8 L162.4,633.0 L163.7,637.2 L165.1,641.4 L166.4,645.1 L167.7,648.2 L169.1,650.4 L170.4,651.6 L171.7,652.3 L173.0,652.5 L174.4,652.6 L175.7,652.7 L177.0,652.7 L178.3,652.8 L179.7,652.8 L181.0,652.8 L181.0,675Z" fill="#2cd860" filter="url(#bl1)"/><path d="M35.0,675 L35.0,654.1 L36.3,654.1 L37.7,654.1 L39.0,654.0 L40.3,654.0 L41.6,654.0 L43.0,654.0 L44.3,653.9 L45.6,653.9 L46.9,653.8 L48.3,653.8 L49.6,653.7 L50.9,653.7 L52.3,653.6 L53.6,653.5 L54.9,653.5 L56.2,653.4 L57.6,653.4 L58.9,653.3 L60.2,653.3 L61.5,653.3 L62.9,653.3 L64.2,653.3 L65.5,653.3 L66.9,653.4 L68.2,653.4 L69.5,653.5 L70.8,653.5 L72.2,653.6 L73.5,653.6 L74.8,653.7 L76.1,653.7 L77.5,653.8 L78.8,653.8 L80.1,653.9 L81.5,653.9 L82.8,653.9 L84.1,653.9 L85.4,653.9 L86.8,653.9 L88.1,653.9 L89.4,653.8 L90.7,653.8 L92.1,653.7 L93.4,653.6 L94.7,653.5 L96.1,653.5 L97.4,653.4 L98.7,653.3 L100.0,653.2 L101.4,653.1 L102.7,653.0 L104.0,653.0 L105.3,652.9 L106.7,652.9 L108.0,652.9 L109.3,652.9 L110.7,652.9 L112.0,653.0 L113.3,653.0 L114.6,653.1 L116.0,653.2 L117.3,653.3 L118.6,653.4 L119.9,653.5 L121.3,653.6 L122.6,653.6 L123.9,653.7 L125.3,653.8 L126.6,653.8 L127.9,653.9 L129.2,653.9 L130.6,654.0 L131.9,654.0 L133.2,654.0 L134.5,654.0 L135.9,654.0 L137.2,654.0 L138.5,654.0 L139.9,654.0 L141.2,654.0 L142.5,653.8 L143.8,653.5 L145.2,652.7 L146.5,651.1 L147.8,648.7 L149.1,645.7 L150.5,642.3 L151.8,639.1 L153.1,636.3 L154.5,634.3 L155.8,633.7 L157.1,634.9 L158.4,637.1 L159.8,640.1 L161.1,643.4 L162.4,646.7 L163.7,649.6 L165.1,651.7 L166.4,653.0 L167.7,653.6 L169.1,653.9 L170.4,654.0 L171.7,654.0 L173.0,654.1 L174.4,654.1 L175.7,654.1 L177.0,654.1 L178.3,654.1 L179.7,654.1 L181.0,654.1 L181.0,675Z" fill="#90e030" filter="url(#bl1)"/><path d="M35.0,675 L35.0,657.0 L36.3,657.0 L37.7,657.0 L39.0,657.0 L40.3,656.9 L41.6,656.9 L43.0,656.9 L44.3,656.9 L45.6,656.8 L46.9,656.8 L48.3,656.7 L49.6,656.7 L50.9,656.7 L52.3,656.6 L53.6,656.6 L54.9,656.5 L56.2,656.5 L57.6,656.4 L58.9,656.4 L60.2,656.4 L61.5,656.4 L62.9,656.4 L64.2,656.4 L65.5,656.4 L66.9,656.4 L68.2,656.5 L69.5,656.5 L70.8,656.5 L72.2,656.6 L73.5,656.6 L74.8,656.7 L76.1,656.7 L77.5,656.8 L78.8,656.8 L80.1,656.8 L81.5,656.8 L82.8,656.8 L84.1,656.9 L85.4,656.8 L86.8,656.8 L88.1,656.8 L89.4,656.8 L90.7,656.7 L92.1,656.7 L93.4,656.6 L94.7,656.6 L96.1,656.5 L97.4,656.4 L98.7,656.4 L100.0,656.3 L101.4,656.2 L102.7,656.2 L104.0,656.1 L105.3,656.1 L106.7,656.1 L108.0,656.1 L109.3,656.1 L110.7,656.1 L112.0,656.1 L113.3,656.2 L114.6,656.2 L116.0,656.3 L117.3,656.4 L118.6,656.4 L119.9,656.5 L121.3,656.6 L122.6,656.6 L123.9,656.7 L125.3,656.8 L126.6,656.8 L127.9,656.8 L129.2,656.9 L130.6,656.9 L131.9,656.9 L133.2,656.9 L134.5,656.9 L135.9,656.9 L137.2,656.9 L138.5,656.9 L139.9,656.9 L141.2,656.9 L142.5,656.9 L143.8,656.8 L145.2,656.7 L146.5,656.5 L147.8,655.8 L149.1,654.4 L150.5,652.3 L151.8,650.0 L153.1,647.8 L154.5,646.2 L155.8,645.7 L157.1,646.6 L158.4,648.5 L159.8,650.7 L161.1,653.0 L162.4,654.9 L163.7,656.1 L165.1,656.6 L166.4,656.8 L167.7,656.9 L169.1,656.9 L170.4,656.9 L171.7,656.9 L173.0,657.0 L174.4,657.0 L175.7,657.0 L177.0,657.0 L178.3,657.0 L179.7,657.0 L181.0,657.0 L181.0,675Z" fill="#f2ee10" filter="url(#bl1)"/><path d="M35.0,675 L35.0,659.0 L36.3,659.0 L37.7,659.0 L39.0,659.0 L40.3,659.0 L41.6,659.0 L43.0,659.0 L44.3,658.9 L45.6,658.9 L46.9,658.9 L48.3,658.8 L49.6,658.8 L50.9,658.8 L52.3,658.7 L53.6,658.7 L54.9,658.7 L56.2,658.6 L57.6,658.6 L58.9,658.6 L60.2,658.6 L61.5,658.6 L62.9,658.6 L64.2,658.6 L65.5,658.6 L66.9,658.6 L68.2,658.6 L69.5,658.7 L70.8,658.7 L72.2,658.7 L73.5,658.8 L74.8,658.8 L76.1,658.8 L77.5,658.9 L78.8,658.9 L80.1,658.9 L81.5,658.9 L82.8,658.9 L84.1,658.9 L85.4,658.9 L86.8,658.9 L88.1,658.9 L89.4,658.9 L90.7,658.8 L92.1,658.8 L93.4,658.8 L94.7,658.7 L96.1,658.7 L97.4,658.6 L98.7,658.5 L100.0,658.5 L101.4,658.4 L102.7,658.4 L104.0,658.4 L105.3,658.3 L106.7,658.3 L108.0,658.3 L109.3,658.3 L110.7,658.3 L112.0,658.4 L113.3,658.4 L114.6,658.5 L116.0,658.5 L117.3,658.6 L118.6,658.6 L119.9,658.7 L121.3,658.7 L122.6,658.8 L123.9,658.8 L125.3,658.8 L126.6,658.9 L127.9,658.9 L129.2,658.9 L130.6,659.0 L131.9,659.0 L133.2,659.0 L134.5,659.0 L135.9,659.0 L137.2,659.0 L138.5,659.0 L139.9,659.0 L141.2,659.0 L142.5,659.0 L143.8,659.0 L145.2,658.9 L146.5,658.9 L147.8,658.8 L149.1,658.6 L150.5,657.9 L151.8,656.7 L153.1,655.2 L154.5,654.0 L155.8,653.6 L157.1,654.3 L158.4,655.7 L159.8,657.1 L161.1,658.2 L162.4,658.7 L163.7,658.9 L165.1,658.9 L166.4,658.9 L167.7,659.0 L169.1,659.0 L170.4,659.0 L171.7,659.0 L173.0,659.0 L174.4,659.0 L175.7,659.0 L177.0,659.0 L178.3,659.0 L179.7,659.0 L181.0,659.0 L181.0,675Z" fill="#ffc000" filter="url(#bl1)"/><path d="M35.0,675 L35.0,664.4 L36.3,664.4 L37.7,664.4 L39.0,664.4 L40.3,664.4 L41.6,664.3 L43.0,664.3 L44.3,664.2 L45.6,664.1 L46.9,664.0 L48.3,664.0 L49.6,663.9 L50.9,663.8 L52.3,663.6 L53.6,663.5 L54.9,663.2 L56.2,662.9 L57.6,662.6 L58.9,662.1 L60.2,661.6 L61.5,661.1 L62.9,660.7 L64.2,660.4 L65.5,660.4 L66.9,660.4 L68.2,660.4 L69.5,660.4 L70.8,660.5 L72.2,660.5 L73.5,660.5 L74.8,660.6 L76.1,660.6 L77.5,660.6 L78.8,660.6 L80.1,660.6 L81.5,660.6 L82.8,660.6 L84.1,660.6 L85.4,660.6 L86.8,660.6 L88.1,660.6 L89.4,660.6 L90.7,660.6 L92.1,660.6 L93.4,660.5 L94.7,660.5 L96.1,660.4 L97.4,660.4 L98.7,660.5 L100.0,660.8 L101.4,661.2 L102.7,661.7 L104.0,662.2 L105.3,662.6 L106.7,662.9 L108.0,663.2 L109.3,663.4 L110.7,663.6 L112.0,663.7 L113.3,663.8 L114.6,663.8 L116.0,663.9 L117.3,663.9 L118.6,663.9 L119.9,663.9 L121.3,663.9 L122.6,663.9 L123.9,663.8 L125.3,663.7 L126.6,663.5 L127.9,663.3 L129.2,663.0 L130.6,662.6 L131.9,662.1 L133.2,661.6 L134.5,661.1 L135.9,660.7 L137.2,660.7 L138.5,660.7 L139.9,660.7 L141.2,660.7 L142.5,660.7 L143.8,660.7 L145.2,660.7 L146.5,660.7 L147.8,660.7 L149.1,660.6 L150.5,660.6 L151.8,660.2 L153.1,659.5 L154.5,658.6 L155.8,658.3 L157.1,658.9 L158.4,659.7 L159.8,660.4 L161.1,660.6 L162.4,660.7 L163.7,660.7 L165.1,660.7 L166.4,660.7 L167.7,660.7 L169.1,660.7 L170.4,660.7 L171.7,660.7 L173.0,660.7 L174.4,660.7 L175.7,660.8 L177.0,661.3 L178.3,661.8 L179.7,662.3 L181.0,662.7 L181.0,675Z" fill="#ff8000" filter="url(#bl1)"/><path d="M35.0,675 L35.0,670.0 L36.3,670.0 L37.7,670.0 L39.0,670.0 L40.3,670.0 L41.6,670.0 L43.0,670.0 L44.3,670.0 L45.6,670.0 L46.9,670.0 L48.3,670.0 L49.6,670.0 L50.9,670.0 L52.3,670.0 L53.6,670.0 L54.9,670.0 L56.2,670.0 L57.6,670.0 L58.9,670.0 L60.2,670.0 L61.5,670.0 L62.9,670.0 L64.2,669.9 L65.5,669.1 L66.9,667.6 L68.2,665.6 L69.5,663.8 L70.8,663.2 L72.2,662.8 L73.5,662.7 L74.8,662.7 L76.1,662.7 L77.5,662.7 L78.8,662.7 L80.1,662.7 L81.5,662.7 L82.8,662.8 L84.1,662.8 L85.4,662.8 L86.8,662.7 L88.1,662.7 L89.4,662.7 L90.7,662.9 L92.1,663.4 L93.4,664.3 L94.7,666.4 L96.1,668.2 L97.4,669.5 L98.7,670.0 L100.0,670.0 L101.4,669.9 L102.7,669.9 L104.0,669.9 L105.3,669.9 L106.7,669.9 L108.0,669.8 L109.3,669.8 L110.7,669.8 L112.0,669.7 L113.3,669.7 L114.6,669.6 L116.0,669.6 L117.3,669.5 L118.6,669.4 L119.9,669.3 L121.3,669.2 L122.6,669.0 L123.9,668.9 L125.3,668.8 L126.6,668.6 L127.9,668.4 L129.2,668.2 L130.6,668.0 L131.9,667.8 L133.2,667.6 L134.5,667.4 L135.9,667.2 L137.2,666.9 L138.5,666.4 L139.9,664.6 L141.2,663.4 L142.5,662.8 L143.8,662.8 L145.2,662.8 L146.5,662.8 L147.8,662.8 L149.1,662.8 L150.5,662.7 L151.8,662.6 L153.1,662.2 L154.5,661.3 L155.8,661.0 L157.1,661.6 L158.4,662.4 L159.8,662.7 L161.1,662.8 L162.4,662.8 L163.7,662.8 L165.1,662.8 L166.4,662.8 L167.7,662.8 L169.1,663.0 L170.4,663.6 L171.7,665.3 L173.0,666.7 L174.4,667.0 L175.7,667.2 L177.0,667.5 L178.3,667.7 L179.7,667.9 L181.0,668.1 L181.0,675Z" fill="#f83400" filter="url(#bl1)"/><path d="M35.0,675 L35.0,670.0 L36.3,670.0 L37.7,670.0 L39.0,670.0 L40.3,670.0 L41.6,670.0 L43.0,670.0 L44.3,670.0 L45.6,670.0 L46.9,670.0 L48.3,670.0 L49.6,670.0 L50.9,670.0 L52.3,670.0 L53.6,670.0 L54.9,670.0 L56.2,670.0 L57.6,670.0 L58.9,670.0 L60.2,670.0 L61.5,670.0 L62.9,670.0 L64.2,670.0 L65.5,670.0 L66.9,670.0 L68.2,670.0 L69.5,670.0 L70.8,670.0 L72.2,670.0 L73.5,670.0 L74.8,669.5 L76.1,668.7 L77.5,668.0 L78.8,667.3 L80.1,667.0 L81.5,666.9 L82.8,667.1 L84.1,667.6 L85.4,668.3 L86.8,669.0 L88.1,669.7 L89.4,670.0 L90.7,670.0 L92.1,670.0 L93.4,670.0 L94.7,670.0 L96.1,670.0 L97.4,670.0 L98.7,670.0 L100.0,670.0 L101.4,670.0 L102.7,670.0 L104.0,670.0 L105.3,670.0 L106.7,669.9 L108.0,669.9 L109.3,669.9 L110.7,669.9 L112.0,669.9 L113.3,669.9 L114.6,669.8 L116.0,669.8 L117.3,669.8 L118.6,669.7 L119.9,669.7 L121.3,669.6 L122.6,669.6 L123.9,669.5 L125.3,669.4 L126.6,669.4 L127.9,669.3 L129.2,669.2 L130.6,669.1 L131.9,669.0 L133.2,668.9 L134.5,668.8 L135.9,668.7 L137.2,668.6 L138.5,668.5 L139.9,668.4 L141.2,668.3 L142.5,668.2 L143.8,668.1 L145.2,667.7 L146.5,666.0 L147.8,664.5 L149.1,664.0 L150.5,664.0 L151.8,664.0 L153.1,663.9 L154.5,663.4 L155.8,663.0 L157.1,663.6 L158.4,663.9 L159.8,664.0 L161.1,664.0 L162.4,664.0 L163.7,664.9 L165.1,666.6 L166.4,668.0 L167.7,668.2 L169.1,668.3 L170.4,668.4 L171.7,668.5 L173.0,668.6 L174.4,668.7 L175.7,668.8 L177.0,668.9 L178.3,669.0 L179.7,669.1 L181.0,669.2 L181.0,675Z" fill="#e20020" filter="url(#bl1)"/></g><text x="108.8" y="608.6" font-size="26" font-weight="bold" fill="#fff" text-anchor="middle" >30s</text>
<g clip-path="url(#cl11)"><rect x="175" y="580" width="135.0" height="86.0" fill="url(#navy)"/><rect x="165" y="643.0" width="155.0" height="26.0" fill="#0c36cc" opacity="0.5" filter="url(#bl4)"/><path d="M172.6,666 L191.8,588.0 L201.4,588.0 L220.6,666Z" fill="#0d34cc" opacity="0.68" filter="url(#bl6)"/><path d="M179.3,666 L192.8,609.8 L200.4,609.8 L213.9,666Z" fill="#1458e4" opacity="0.68" filter="url(#bl4)"/><path d="M217.2,666 L236.3,584.0 L246.0,584.0 L265.1,666Z" fill="#0d34cc" opacity="0.75" filter="url(#bl6)"/><path d="M223.9,666 L237.3,607.0 L245.0,607.0 L258.4,666Z" fill="#1458e4" opacity="0.75" filter="url(#bl4)"/><path d="M262.4,666 L286.4,554.0 L298.4,554.0 L322.4,666Z" fill="#0d34cc" opacity="1" filter="url(#bl6)"/><path d="M270.8,666 L287.6,585.4 L297.2,585.4 L314.1,666Z" fill="#1458e4" opacity="1" filter="url(#bl4)"/><path d="M169.0,675 L169.0,648.9 L170.3,648.9 L171.7,648.8 L173.0,648.8 L174.3,648.8 L175.7,648.7 L177.0,648.7 L178.4,648.6 L179.7,648.6 L181.0,648.5 L182.4,648.4 L183.7,648.3 L185.0,648.2 L186.4,648.1 L187.7,648.1 L189.0,648.0 L190.4,647.9 L191.7,647.8 L193.1,647.8 L194.4,647.7 L195.7,647.7 L197.1,647.7 L198.4,647.7 L199.7,647.8 L201.1,647.8 L202.4,647.9 L203.7,647.9 L205.1,648.0 L206.4,648.1 L207.8,648.2 L209.1,648.3 L210.4,648.4 L211.8,648.5 L213.1,648.5 L214.4,648.6 L215.8,648.7 L217.1,648.7 L218.4,648.7 L219.8,648.8 L221.1,648.7 L222.5,648.7 L223.8,648.6 L225.1,648.5 L226.5,648.3 L227.8,648.0 L229.1,647.5 L230.5,647.0 L231.8,646.3 L233.1,645.6 L234.5,644.8 L235.8,644.0 L237.2,643.3 L238.5,642.7 L239.8,642.3 L241.2,642.2 L242.5,642.3 L243.8,642.7 L245.2,643.3 L246.5,644.0 L247.8,644.8 L249.2,645.6 L250.5,646.4 L251.9,647.0 L253.2,647.6 L254.5,648.0 L255.9,648.3 L257.2,648.5 L258.5,648.7 L259.9,648.8 L261.2,648.8 L262.5,648.9 L263.9,648.9 L265.2,648.9 L266.6,648.8 L267.9,648.7 L269.2,648.2 L270.6,646.9 L271.9,644.2 L273.2,640.0 L274.6,634.8 L275.9,628.9 L277.2,622.9 L278.6,617.0 L279.9,611.4 L281.3,606.5 L282.6,602.2 L283.9,598.8 L285.3,596.2 L286.6,594.3 L287.9,593.1 L289.3,592.4 L290.6,592.1 L291.9,592.0 L293.3,592.0 L294.6,592.1 L296.0,592.5 L297.3,593.3 L298.6,594.7 L300.0,596.7 L301.3,599.6 L302.6,603.2 L304.0,607.6 L305.3,612.7 L306.6,618.4 L308.0,624.4 L309.3,630.4 L310.7,636.1 L312.0,641.2 L313.3,645.0 L314.7,647.3 L316.0,648.4 L316.0,675Z" fill="#0e44d6" filter="url(#bl2)"/><path d="M169.0,675 L169.0,650.6 L170.3,650.5 L171.7,650.5 L173.0,650.5 L174.3,650.5 L175.7,650.4 L177.0,650.4 L178.4,650.3 L179.7,650.3 L181.0,650.2 L182.4,650.1 L183.7,650.1 L185.0,650.0 L186.4,649.9 L187.7,649.8 L189.0,649.7 L190.4,649.7 L191.7,649.6 L193.1,649.6 L194.4,649.5 L195.7,649.5 L197.1,649.5 L198.4,649.5 L199.7,649.5 L201.1,649.6 L202.4,649.6 L203.7,649.7 L205.1,649.8 L206.4,649.9 L207.8,650.0 L209.1,650.0 L210.4,650.1 L211.8,650.2 L213.1,650.3 L214.4,650.3 L215.8,650.4 L217.1,650.4 L218.4,650.4 L219.8,650.4 L221.1,650.4 L222.5,650.4 L223.8,650.3 L225.1,650.2 L226.5,650.0 L227.8,649.7 L229.1,649.3 L230.5,648.9 L231.8,648.3 L233.1,647.6 L234.5,646.9 L235.8,646.2 L237.2,645.5 L238.5,645.0 L239.8,644.7 L241.2,644.5 L242.5,644.7 L243.8,645.0 L245.2,645.5 L246.5,646.2 L247.8,646.9 L249.2,647.6 L250.5,648.3 L251.9,648.9 L253.2,649.4 L254.5,649.8 L255.9,650.0 L257.2,650.2 L258.5,650.4 L259.9,650.5 L261.2,650.5 L262.5,650.6 L263.9,650.6 L265.2,650.6 L266.6,650.6 L267.9,650.5 L269.2,650.5 L270.6,650.3 L271.9,650.0 L273.2,648.8 L274.6,646.3 L275.9,642.0 L277.2,636.5 L278.6,630.2 L279.9,623.7 L281.3,617.3 L282.6,611.4 L283.9,606.2 L285.3,602.0 L286.6,598.8 L287.9,596.6 L289.3,595.3 L290.6,594.6 L291.9,594.5 L293.3,594.5 L294.6,594.7 L296.0,595.5 L297.3,597.1 L298.6,599.5 L300.0,603.0 L301.3,607.4 L302.6,612.8 L304.0,618.8 L305.3,625.3 L306.6,631.8 L308.0,637.9 L309.3,643.2 L310.7,647.1 L312.0,649.2 L313.3,650.1 L314.7,650.4 L316.0,650.5 L316.0,675Z" fill="#1a80ea" filter="url(#bl2)"/><path d="M169.0,675 L169.0,652.0 L170.3,651.9 L171.7,651.9 L173.0,651.9 L174.3,651.9 L175.7,651.8 L177.0,651.8 L178.4,651.8 L179.7,651.7 L181.0,651.6 L182.4,651.6 L183.7,651.5 L185.0,651.4 L186.4,651.4 L187.7,651.3 L189.0,651.2 L190.4,651.2 L191.7,651.1 L193.1,651.1 L194.4,651.0 L195.7,651.0 L197.1,651.0 L198.4,651.0 L199.7,651.0 L201.1,651.1 L202.4,651.1 L203.7,651.2 L205.1,651.3 L206.4,651.3 L207.8,651.4 L209.1,651.5 L210.4,651.6 L211.8,651.6 L213.1,651.7 L214.4,651.7 L215.8,651.8 L217.1,651.8 L218.4,651.9 L219.8,651.9 L221.1,651.9 L222.5,651.8 L223.8,651.8 L225.1,651.6 L226.5,651.5 L227.8,651.2 L229.1,650.9 L230.5,650.4 L231.8,649.9 L233.1,649.3 L234.5,648.6 L235.8,648.0 L237.2,647.4 L238.5,646.9 L239.8,646.6 L241.2,646.5 L242.5,646.6 L243.8,646.9 L245.2,647.4 L246.5,648.0 L247.8,648.6 L249.2,649.3 L250.5,649.9 L251.9,650.4 L253.2,650.9 L254.5,651.2 L255.9,651.5 L257.2,651.7 L258.5,651.8 L259.9,651.9 L261.2,651.9 L262.5,652.0 L263.9,652.0 L265.2,652.0 L266.6,652.0 L267.9,651.9 L269.2,651.9 L270.6,651.8 L271.9,651.7 L273.2,651.6 L274.6,651.3 L275.9,650.6 L277.2,648.6 L278.6,644.6 L279.9,638.8 L281.3,631.9 L282.6,624.5 L283.9,617.4 L285.3,610.9 L286.6,605.5 L287.9,601.4 L289.3,598.8 L290.6,597.4 L291.9,596.9 L293.3,597.0 L294.6,597.6 L296.0,599.3 L297.3,602.3 L298.6,606.7 L300.0,612.4 L301.3,619.1 L302.6,626.3 L304.0,633.6 L305.3,640.3 L306.6,645.8 L308.0,649.2 L309.3,650.8 L310.7,651.4 L312.0,651.6 L313.3,651.8 L314.7,651.8 L316.0,651.9 L316.0,675Z" fill="#20c0c4" filter="url(#bl1)"/><path d="M169.0,675 L169.0,653.2 L170.3,653.2 L171.7,653.2 L173.0,653.2 L174.3,653.2 L175.7,653.1 L177.0,653.1 L178.4,653.0 L179.7,653.0 L181.0,652.9 L182.4,652.9 L183.7,652.8 L185.0,652.7 L186.4,652.7 L187.7,652.6 L189.0,652.5 L190.4,652.5 L191.7,652.4 L193.1,652.4 L194.4,652.4 L195.7,652.4 L197.1,652.4 L198.4,652.4 L199.7,652.4 L201.1,652.4 L202.4,652.5 L203.7,652.5 L205.1,652.6 L206.4,652.7 L207.8,652.7 L209.1,652.8 L210.4,652.9 L211.8,652.9 L213.1,653.0 L214.4,653.0 L215.8,653.1 L217.1,653.1 L218.4,653.1 L219.8,653.1 L221.1,653.1 L222.5,653.1 L223.8,653.0 L225.1,652.9 L226.5,652.8 L227.8,652.5 L229.1,652.2 L230.5,651.8 L231.8,651.3 L233.1,650.8 L234.5,650.2 L235.8,649.6 L237.2,649.1 L238.5,648.6 L239.8,648.3 L241.2,648.3 L242.5,648.4 L243.8,648.6 L245.2,649.1 L246.5,649.6 L247.8,650.2 L249.2,650.8 L250.5,651.3 L251.9,651.8 L253.2,652.2 L254.5,652.6 L255.9,652.8 L257.2,653.0 L258.5,653.1 L259.9,653.2 L261.2,653.2 L262.5,653.2 L263.9,653.2 L265.2,653.2 L266.6,653.2 L267.9,653.2 L269.2,653.2 L270.6,653.1 L271.9,653.1 L273.2,653.0 L274.6,652.8 L275.9,652.6 L277.2,652.3 L278.6,651.5 L279.9,649.2 L281.3,644.7 L282.6,638.2 L283.9,630.7 L285.3,622.8 L286.6,615.3 L287.9,608.9 L289.3,604.1 L290.6,601.2 L291.9,600.1 L293.3,600.2 L294.6,601.8 L296.0,605.1 L297.3,610.3 L298.6,617.0 L300.0,624.7 L301.3,632.6 L302.6,640.0 L304.0,646.0 L305.3,650.0 L306.6,651.8 L308.0,652.4 L309.3,652.7 L310.7,652.9 L312.0,653.0 L313.3,653.1 L314.7,653.1 L316.0,653.2 L316.0,675Z" fill="#2cd860" filter="url(#bl1)"/><path d="M169.0,675 L169.0,654.7 L170.3,654.7 L171.7,654.7 L173.0,654.7 L174.3,654.6 L175.7,654.6 L177.0,654.6 L178.4,654.5 L179.7,654.5 L181.0,654.4 L182.4,654.4 L183.7,654.3 L185.0,654.3 L186.4,654.2 L187.7,654.2 L189.0,654.1 L190.4,654.0 L191.7,654.0 L193.1,654.0 L194.4,653.9 L195.7,653.9 L197.1,653.9 L198.4,653.9 L199.7,654.0 L201.1,654.0 L202.4,654.0 L203.7,654.1 L205.1,654.1 L206.4,654.2 L207.8,654.3 L209.1,654.3 L210.4,654.4 L211.8,654.4 L213.1,654.5 L214.4,654.5 L215.8,654.6 L217.1,654.6 L218.4,654.6 L219.8,654.6 L221.1,654.6 L222.5,654.6 L223.8,654.5 L225.1,654.4 L226.5,654.3 L227.8,654.1 L229.1,653.8 L230.5,653.5 L231.8,653.0 L233.1,652.5 L234.5,652.0 L235.8,651.5 L237.2,651.0 L238.5,650.6 L239.8,650.4 L241.2,650.3 L242.5,650.4 L243.8,650.6 L245.2,651.0 L246.5,651.5 L247.8,652.0 L249.2,652.5 L250.5,653.0 L251.9,653.5 L253.2,653.8 L254.5,654.1 L255.9,654.3 L257.2,654.5 L258.5,654.6 L259.9,654.6 L261.2,654.7 L262.5,654.7 L263.9,654.7 L265.2,654.7 L266.6,654.7 L267.9,654.7 L269.2,654.7 L270.6,654.7 L271.9,654.7 L273.2,654.6 L274.6,654.6 L275.9,654.5 L277.2,654.4 L278.6,654.2 L279.9,653.9 L281.3,652.9 L282.6,650.6 L283.9,646.7 L285.3,641.5 L286.6,635.4 L287.9,629.0 L289.3,623.1 L290.6,618.2 L291.9,615.3 L293.3,615.8 L294.6,619.2 L296.0,624.4 L297.3,630.6 L298.6,636.9 L300.0,642.9 L301.3,647.8 L302.6,651.3 L304.0,653.2 L305.3,654.0 L306.6,654.3 L308.0,654.4 L309.3,654.5 L310.7,654.6 L312.0,654.6 L313.3,654.7 L314.7,654.7 L316.0,654.7 L316.0,675Z" fill="#90e030" filter="url(#bl1)"/><path d="M169.0,675 L169.0,657.4 L170.3,657.4 L171.7,657.4 L173.0,657.4 L174.3,657.4 L175.7,657.4 L177.0,657.3 L178.4,657.3 L179.7,657.3 L181.0,657.3 L182.4,657.2 L183.7,657.2 L185.0,657.1 L186.4,657.1 L187.7,657.0 L189.0,657.0 L190.4,657.0 L191.7,656.9 L193.1,656.9 L194.4,656.9 L195.7,656.9 L197.1,656.9 L198.4,656.9 L199.7,656.9 L201.1,656.9 L202.4,656.9 L203.7,657.0 L205.1,657.0 L206.4,657.1 L207.8,657.1 L209.1,657.2 L210.4,657.2 L211.8,657.2 L213.1,657.3 L214.4,657.3 L215.8,657.3 L217.1,657.4 L218.4,657.4 L219.8,657.4 L221.1,657.4 L222.5,657.4 L223.8,657.3 L225.1,657.2 L226.5,657.1 L227.8,657.0 L229.1,656.8 L230.5,656.5 L231.8,656.2 L233.1,655.8 L234.5,655.4 L235.8,655.0 L237.2,654.7 L238.5,654.4 L239.8,654.2 L241.2,654.1 L242.5,654.2 L243.8,654.4 L245.2,654.7 L246.5,655.0 L247.8,655.4 L249.2,655.8 L250.5,656.2 L251.9,656.5 L253.2,656.8 L254.5,657.0 L255.9,657.2 L257.2,657.3 L258.5,657.3 L259.9,657.4 L261.2,657.4 L262.5,657.4 L263.9,657.5 L265.2,657.5 L266.6,657.5 L267.9,657.5 L269.2,657.4 L270.6,657.4 L271.9,657.4 L273.2,657.4 L274.6,657.3 L275.9,657.3 L277.2,657.2 L278.6,657.1 L279.9,657.0 L281.3,656.9 L282.6,656.6 L283.9,655.9 L285.3,654.0 L286.6,650.7 L287.9,646.6 L289.3,642.4 L290.6,638.7 L291.9,636.5 L293.3,636.9 L294.6,639.5 L296.0,643.4 L297.3,647.7 L298.6,651.6 L300.0,654.6 L301.3,656.1 L302.6,656.7 L304.0,656.9 L305.3,657.1 L306.6,657.2 L308.0,657.2 L309.3,657.3 L310.7,657.4 L312.0,657.4 L313.3,657.4 L314.7,657.4 L316.0,657.4 L316.0,675Z" fill="#f2ee10" filter="url(#bl1)"/><path d="M169.0,675 L169.0,661.7 L170.3,661.7 L171.7,661.7 L173.0,661.7 L174.3,661.7 L175.7,661.7 L177.0,661.7 L178.4,661.6 L179.7,661.6 L181.0,661.6 L182.4,661.6 L183.7,661.6 L185.0,661.6 L186.4,661.5 L187.7,661.5 L189.0,661.5 L190.4,661.5 L191.7,661.4 L193.1,661.4 L194.4,661.4 L195.7,661.4 L197.1,661.4 L198.4,661.4 L199.7,661.4 L201.1,661.4 L202.4,661.5 L203.7,661.5 L205.1,661.5 L206.4,661.5 L207.8,661.5 L209.1,661.6 L210.4,661.6 L211.8,661.6 L213.1,661.6 L214.4,661.6 L215.8,661.7 L217.1,661.7 L218.4,661.7 L219.8,661.7 L221.1,661.7 L222.5,661.7 L223.8,661.6 L225.1,661.6 L226.5,661.6 L227.8,661.5 L229.1,661.4 L230.5,661.2 L231.8,661.1 L233.1,660.9 L234.5,660.7 L235.8,660.5 L237.2,660.3 L238.5,660.2 L239.8,660.1 L241.2,660.0 L242.5,660.1 L243.8,660.2 L245.2,660.3 L246.5,660.5 L247.8,660.7 L249.2,660.9 L250.5,661.1 L251.9,661.2 L253.2,661.4 L254.5,661.5 L255.9,661.5 L257.2,661.6 L258.5,661.6 L259.9,661.6 L261.2,661.5 L262.5,661.5 L263.9,661.3 L265.2,661.1 L266.6,660.9 L267.9,660.5 L269.2,660.1 L270.6,659.7 L271.9,659.4 L273.2,659.3 L274.6,659.3 L275.9,659.3 L277.2,659.2 L278.6,659.2 L279.9,659.1 L281.3,659.1 L282.6,659.0 L283.9,658.9 L285.3,658.6 L286.6,657.7 L287.9,655.7 L289.3,652.9 L290.6,650.1 L291.9,648.3 L293.3,648.6 L294.6,650.7 L296.0,653.6 L297.3,656.3 L298.6,658.0 L300.0,658.7 L301.3,658.9 L302.6,659.0 L304.0,659.1 L305.3,659.1 L306.6,659.2 L308.0,659.3 L309.3,659.3 L310.7,659.3 L312.0,659.4 L313.3,659.4 L314.7,659.8 L316.0,660.2 L316.0,675Z" fill="#ffc000" filter="url(#bl1)"/><path d="M169.0,675 L169.0,670.0 L170.3,670.0 L171.7,670.0 L173.0,670.0 L174.3,670.0 L175.7,670.0 L177.0,670.0 L178.4,670.0 L179.7,670.0 L181.0,670.0 L182.4,670.0 L183.7,670.0 L185.0,670.0 L186.4,670.0 L187.7,670.0 L189.0,670.0 L190.4,670.0 L191.7,670.0 L193.1,670.0 L194.4,670.0 L195.7,670.0 L197.1,670.0 L198.4,670.0 L199.7,670.0 L201.1,670.0 L202.4,670.0 L203.7,670.0 L205.1,670.0 L206.4,670.0 L207.8,670.0 L209.1,670.0 L210.4,670.0 L211.8,670.0 L213.1,670.0 L214.4,670.0 L215.8,670.0 L217.1,670.0 L218.4,670.0 L219.8,670.0 L221.1,670.0 L222.5,670.0 L223.8,670.0 L225.1,670.0 L226.5,670.0 L227.8,670.0 L229.1,670.0 L230.5,670.0 L231.8,670.0 L233.1,670.0 L234.5,670.0 L235.8,670.0 L237.2,670.0 L238.5,670.0 L239.8,670.0 L241.2,669.9 L242.5,669.9 L243.8,669.9 L245.2,669.9 L246.5,669.8 L247.8,669.8 L249.2,669.7 L250.5,669.6 L251.9,669.6 L253.2,669.4 L254.5,669.3 L255.9,669.2 L257.2,669.0 L258.5,668.8 L259.9,668.6 L261.2,668.3 L262.5,668.0 L263.9,667.7 L265.2,667.3 L266.6,666.9 L267.9,666.4 L269.2,666.0 L270.6,665.5 L271.9,664.9 L273.2,664.3 L274.6,663.9 L275.9,663.3 L277.2,662.0 L278.6,660.9 L279.9,660.9 L281.3,660.8 L282.6,660.8 L283.9,660.8 L285.3,660.7 L286.6,660.6 L287.9,660.2 L289.3,658.9 L290.6,656.9 L291.9,655.3 L293.3,655.6 L294.6,657.4 L296.0,659.3 L297.3,660.4 L298.6,660.7 L300.0,660.7 L301.3,660.8 L302.6,660.8 L304.0,660.9 L305.3,660.9 L306.6,661.1 L308.0,662.3 L309.3,663.5 L310.7,664.0 L312.0,664.5 L313.3,665.0 L314.7,665.6 L316.0,666.1 L316.0,675Z" fill="#ff8000" filter="url(#bl1)"/><path d="M169.0,675 L169.0,670.0 L170.3,670.0 L171.7,670.0 L173.0,670.0 L174.3,670.0 L175.7,670.0 L177.0,670.0 L178.4,670.0 L179.7,670.0 L181.0,670.0 L182.4,670.0 L183.7,670.0 L185.0,670.0 L186.4,670.0 L187.7,670.0 L189.0,670.0 L190.4,670.0 L191.7,670.0 L193.1,670.0 L194.4,670.0 L195.7,670.0 L197.1,670.0 L198.4,670.0 L199.7,670.0 L201.1,670.0 L202.4,670.0 L203.7,670.0 L205.1,670.0 L206.4,670.0 L207.8,670.0 L209.1,670.0 L210.4,670.0 L211.8,670.0 L213.1,670.0 L214.4,670.0 L215.8,670.0 L217.1,670.0 L218.4,670.0 L219.8,670.0 L221.1,670.0 L222.5,670.0 L223.8,670.0 L225.1,670.0 L226.5,670.0 L227.8,670.0 L229.1,670.0 L230.5,670.0 L231.8,670.0 L233.1,670.0 L234.5,670.0 L235.8,670.0 L237.2,670.0 L238.5,670.0 L239.8,670.0 L241.2,670.0 L242.5,669.9 L243.8,669.9 L245.2,669.9 L246.5,669.9 L247.8,669.9 L249.2,669.8 L250.5,669.8 L251.9,669.7 L253.2,669.7 L254.5,669.6 L255.9,669.5 L257.2,669.4 L258.5,669.3 L259.9,669.1 L261.2,668.9 L262.5,668.8 L263.9,668.6 L265.2,668.3 L266.6,668.1 L267.9,667.8 L269.2,667.5 L270.6,667.2 L271.9,666.8 L273.2,666.5 L274.6,666.1 L275.9,665.8 L277.2,665.4 L278.6,665.0 L279.9,664.6 L281.3,663.4 L282.6,662.8 L283.9,662.8 L285.3,662.7 L286.6,662.7 L287.9,662.7 L289.3,662.1 L290.6,660.5 L291.9,659.0 L293.3,659.3 L294.6,661.0 L296.0,662.4 L297.3,662.7 L298.6,662.7 L300.0,662.7 L301.3,662.8 L302.6,662.8 L304.0,663.7 L305.3,664.7 L306.6,665.1 L308.0,665.5 L309.3,665.8 L310.7,666.2 L312.0,666.6 L313.3,666.9 L314.7,667.3 L316.0,667.6 L316.0,675Z" fill="#f83400" filter="url(#bl1)"/><path d="M169.0,675 L169.0,670.0 L170.3,670.0 L171.7,670.0 L173.0,670.0 L174.3,670.0 L175.7,670.0 L177.0,670.0 L178.4,670.0 L179.7,670.0 L181.0,670.0 L182.4,670.0 L183.7,670.0 L185.0,670.0 L186.4,670.0 L187.7,670.0 L189.0,670.0 L190.4,670.0 L191.7,670.0 L193.1,670.0 L194.4,670.0 L195.7,670.0 L197.1,670.0 L198.4,670.0 L199.7,670.0 L201.1,670.0 L202.4,670.0 L203.7,670.0 L205.1,670.0 L206.4,670.0 L207.8,670.0 L209.1,670.0 L210.4,670.0 L211.8,670.0 L213.1,670.0 L214.4,670.0 L215.8,670.0 L217.1,670.0 L218.4,670.0 L219.8,670.0 L221.1,670.0 L222.5,670.0 L223.8,670.0 L225.1,670.0 L226.5,670.0 L227.8,670.0 L229.1,670.0 L230.5,670.0 L231.8,670.0 L233.1,670.0 L234.5,670.0 L235.8,670.0 L237.2,670.0 L238.5,670.0 L239.8,670.0 L241.2,670.0 L242.5,670.0 L243.8,670.0 L245.2,670.0 L246.5,670.0 L247.8,669.9 L249.2,669.9 L250.5,669.9 L251.9,669.9 L253.2,669.8 L254.5,669.8 L255.9,669.8 L257.2,669.7 L258.5,669.7 L259.9,669.6 L261.2,669.5 L262.5,669.4 L263.9,669.4 L265.2,669.3 L266.6,669.1 L267.9,669.0 L269.2,668.9 L270.6,668.7 L271.9,668.6 L273.2,668.4 L274.6,668.3 L275.9,668.1 L277.2,667.9 L278.6,667.8 L279.9,667.6 L281.3,667.5 L282.6,667.3 L283.9,667.1 L285.3,665.2 L286.6,664.0 L287.9,664.0 L289.3,664.0 L290.6,663.5 L291.9,662.0 L293.3,662.4 L294.6,663.8 L296.0,664.0 L297.3,664.0 L298.6,664.1 L300.0,665.8 L301.3,667.2 L302.6,667.4 L304.0,667.5 L305.3,667.7 L306.6,667.8 L308.0,668.0 L309.3,668.2 L310.7,668.3 L312.0,668.5 L313.3,668.6 L314.7,668.8 L316.0,668.9 L316.0,675Z" fill="#e20020" filter="url(#bl1)"/></g><text x="238.5" y="608.6" font-size="26" font-weight="bold" fill="#fff" text-anchor="middle" >60s</text>
<g clip-path="url(#cl21)"><rect x="310" y="580" width="135.0" height="86.0" fill="url(#navy)"/><rect x="300" y="642.5" width="155.0" height="26.5" fill="#0c36cc" opacity="0.5" filter="url(#bl4)"/><path d="M302.9,666 L323.7,572.0 L334.1,572.0 L354.9,666Z" fill="#0d34cc" opacity="0.85" filter="url(#bl6)"/><path d="M310.2,666 L324.7,598.3 L333.1,598.3 L347.6,666Z" fill="#1458e4" opacity="0.85" filter="url(#bl4)"/><path d="M349.1,666 L370.8,566.0 L381.5,566.0 L403.1,666Z" fill="#0d34cc" opacity="0.9" filter="url(#bl6)"/><path d="M356.7,666 L371.8,594.0 L380.5,594.0 L395.6,666Z" fill="#1458e4" opacity="0.9" filter="url(#bl4)"/><path d="M389.8,666 L419.4,548.0 L434.2,548.0 L463.8,666Z" fill="#0d34cc" opacity="1" filter="url(#bl6)"/><path d="M400.1,666 L420.9,581.0 L432.7,581.0 L453.4,666Z" fill="#1458e4" opacity="1" filter="url(#bl4)"/><path d="M304.0,675 L304.0,648.1 L305.3,648.1 L306.7,648.0 L308.0,647.8 L309.3,647.7 L310.7,647.5 L312.0,647.2 L313.4,646.9 L314.7,646.5 L316.0,646.1 L317.4,645.7 L318.7,645.2 L320.0,644.8 L321.4,644.3 L322.7,643.9 L324.0,643.5 L325.4,643.2 L326.7,643.0 L328.1,642.8 L329.4,642.8 L330.7,642.9 L332.1,643.1 L333.4,643.4 L334.7,643.8 L336.1,644.2 L337.4,644.6 L338.7,645.1 L340.1,645.6 L341.4,646.0 L342.8,646.4 L344.1,646.8 L345.4,647.1 L346.8,647.4 L348.1,647.6 L349.4,647.8 L350.8,647.9 L352.1,647.9 L353.4,647.9 L354.8,647.8 L356.1,647.6 L357.5,647.2 L358.8,646.7 L360.1,645.9 L361.5,644.9 L362.8,643.8 L364.1,642.5 L365.5,641.1 L366.8,639.8 L368.1,638.4 L369.5,637.2 L370.8,636.2 L372.2,635.3 L373.5,634.7 L374.8,634.3 L376.2,634.1 L377.5,634.3 L378.8,634.7 L380.2,635.3 L381.5,636.2 L382.8,637.3 L384.2,638.5 L385.5,639.8 L386.9,641.2 L388.2,642.5 L389.5,643.8 L390.9,644.9 L392.2,645.9 L393.5,646.7 L394.9,647.2 L396.2,647.3 L397.5,646.9 L398.9,645.3 L400.2,642.3 L401.6,637.9 L402.9,632.7 L404.2,626.9 L405.6,620.9 L406.9,615.1 L408.2,609.5 L409.6,604.4 L410.9,599.9 L412.2,596.1 L413.6,592.9 L414.9,590.3 L416.3,588.3 L417.6,586.9 L418.9,585.9 L420.3,585.2 L421.6,584.8 L422.9,584.6 L424.3,584.5 L425.6,584.5 L426.9,584.5 L428.3,584.5 L429.6,584.5 L431.0,584.7 L432.3,584.9 L433.6,585.4 L435.0,586.1 L436.3,587.2 L437.6,588.8 L439.0,590.9 L440.3,593.6 L441.6,597.0 L443.0,601.0 L444.3,605.7 L445.7,610.9 L447.0,616.5 L448.3,622.4 L449.7,628.4 L451.0,634.1 L451.0,675Z" fill="#0e44d6" filter="url(#bl2)"/><path d="M304.0,675 L304.0,649.9 L305.3,649.8 L306.7,649.7 L308.0,649.6 L309.3,649.5 L310.7,649.3 L312.0,649.0 L313.4,648.8 L314.7,648.5 L316.0,648.1 L317.4,647.7 L318.7,647.3 L320.0,646.9 L321.4,646.4 L322.7,646.1 L324.0,645.7 L325.4,645.4 L326.7,645.2 L328.1,645.1 L329.4,645.1 L330.7,645.2 L332.1,645.4 L333.4,645.6 L334.7,646.0 L336.1,646.3 L337.4,646.7 L338.7,647.2 L340.1,647.6 L341.4,648.0 L342.8,648.4 L344.1,648.7 L345.4,649.0 L346.8,649.2 L348.1,649.4 L349.4,649.6 L350.8,649.7 L352.1,649.8 L353.4,649.8 L354.8,649.8 L356.1,649.8 L357.5,649.7 L358.8,649.4 L360.1,649.0 L361.5,648.3 L362.8,647.4 L364.1,646.3 L365.5,644.9 L366.8,643.4 L368.1,641.8 L369.5,640.2 L370.8,638.8 L372.2,637.5 L373.5,636.4 L374.8,635.7 L376.2,635.4 L377.5,635.7 L378.8,636.4 L380.2,637.5 L381.5,638.8 L382.8,640.3 L384.2,641.8 L385.5,643.4 L386.9,644.9 L388.2,646.3 L389.5,647.4 L390.9,648.3 L392.2,648.9 L393.5,649.4 L394.9,649.6 L396.2,649.7 L397.5,649.7 L398.9,649.7 L400.2,649.4 L401.6,648.7 L402.9,646.8 L404.2,643.4 L405.6,638.4 L406.9,632.5 L408.2,626.1 L409.6,619.6 L410.9,613.4 L412.2,607.6 L413.6,602.5 L414.9,598.2 L416.3,594.7 L417.6,592.1 L418.9,590.1 L420.3,588.8 L421.6,587.9 L422.9,587.5 L424.3,587.3 L425.6,587.2 L426.9,587.2 L428.3,587.2 L429.6,587.3 L431.0,587.6 L432.3,588.1 L433.6,589.0 L435.0,590.5 L436.3,592.7 L437.6,595.6 L439.0,599.3 L440.3,603.8 L441.6,609.0 L443.0,614.9 L444.3,621.3 L445.7,627.8 L447.0,634.1 L448.3,639.8 L449.7,644.4 L451.0,647.4 L451.0,675Z" fill="#1a80ea" filter="url(#bl2)"/><path d="M304.0,675 L304.0,651.4 L305.3,651.3 L306.7,651.2 L308.0,651.1 L309.3,651.0 L310.7,650.8 L312.0,650.6 L313.4,650.3 L314.7,650.0 L316.0,649.7 L317.4,649.4 L318.7,649.0 L320.0,648.6 L321.4,648.2 L322.7,647.9 L324.0,647.6 L325.4,647.3 L326.7,647.1 L328.1,647.0 L329.4,647.0 L330.7,647.1 L332.1,647.2 L333.4,647.5 L334.7,647.8 L336.1,648.1 L337.4,648.5 L338.7,648.9 L340.1,649.3 L341.4,649.6 L342.8,650.0 L344.1,650.3 L345.4,650.5 L346.8,650.7 L348.1,650.9 L349.4,651.1 L350.8,651.2 L352.1,651.3 L353.4,651.3 L354.8,651.4 L356.1,651.4 L357.5,651.4 L358.8,651.3 L360.1,651.2 L361.5,651.0 L362.8,650.5 L364.1,649.6 L365.5,648.4 L366.8,646.9 L368.1,645.1 L369.5,643.2 L370.8,641.2 L372.2,639.5 L373.5,638.0 L374.8,637.0 L376.2,636.5 L377.5,637.0 L378.8,638.0 L380.2,639.5 L381.5,641.3 L382.8,643.2 L384.2,645.1 L385.5,646.9 L386.9,648.5 L388.2,649.7 L389.5,650.5 L390.9,650.9 L392.2,651.2 L393.5,651.3 L394.9,651.3 L396.2,651.3 L397.5,651.3 L398.9,651.2 L400.2,651.1 L401.6,651.0 L402.9,650.8 L404.2,650.5 L405.6,649.9 L406.9,648.3 L408.2,644.8 L409.6,639.4 L410.9,632.7 L412.2,625.4 L413.6,618.1 L414.9,611.3 L416.3,605.3 L417.6,600.3 L418.9,596.4 L420.3,593.5 L421.6,591.7 L422.9,590.6 L424.3,590.1 L425.6,589.9 L426.9,589.9 L428.3,589.9 L429.6,590.2 L431.0,590.8 L432.3,592.1 L433.6,594.2 L435.0,597.3 L436.3,601.5 L437.6,606.7 L439.0,613.0 L440.3,620.0 L441.6,627.3 L443.0,634.5 L444.3,640.9 L445.7,645.9 L447.0,648.9 L448.3,650.1 L449.7,650.6 L451.0,650.8 L451.0,675Z" fill="#20c0c4" filter="url(#bl1)"/><path d="M304.0,675 L304.0,652.7 L305.3,652.6 L306.7,652.5 L308.0,652.4 L309.3,652.3 L310.7,652.2 L312.0,652.0 L313.4,651.7 L314.7,651.5 L316.0,651.2 L317.4,650.9 L318.7,650.5 L320.0,650.2 L321.4,649.8 L322.7,649.5 L324.0,649.2 L325.4,649.0 L326.7,648.8 L328.1,648.7 L329.4,648.7 L330.7,648.8 L332.1,648.9 L333.4,649.1 L334.7,649.4 L336.1,649.7 L337.4,650.1 L338.7,650.4 L340.1,650.8 L341.4,651.1 L342.8,651.4 L344.1,651.7 L345.4,651.9 L346.8,652.1 L348.1,652.3 L349.4,652.4 L350.8,652.5 L352.1,652.6 L353.4,652.7 L354.8,652.7 L356.1,652.7 L357.5,652.7 L358.8,652.8 L360.1,652.7 L361.5,652.7 L362.8,652.6 L364.1,652.2 L365.5,651.5 L366.8,650.3 L368.1,648.6 L369.5,646.5 L370.8,644.2 L372.2,641.9 L373.5,639.9 L374.8,638.5 L376.2,637.9 L377.5,638.5 L378.8,640.0 L380.2,641.9 L381.5,644.2 L382.8,646.5 L384.2,648.7 L385.5,650.4 L386.9,651.6 L388.2,652.2 L389.5,652.6 L390.9,652.7 L392.2,652.7 L393.5,652.7 L394.9,652.7 L396.2,652.7 L397.5,652.6 L398.9,652.6 L400.2,652.5 L401.6,652.4 L402.9,652.3 L404.2,652.1 L405.6,651.9 L406.9,651.7 L408.2,651.3 L409.6,650.4 L410.9,647.8 L412.2,642.8 L413.6,636.0 L414.9,628.2 L416.3,620.2 L417.6,612.8 L418.9,606.3 L420.3,601.2 L421.6,597.5 L422.9,595.1 L424.3,593.9 L425.6,593.4 L426.9,593.4 L428.3,593.5 L429.6,594.1 L431.0,595.6 L432.3,598.3 L433.6,602.4 L435.0,607.9 L436.3,614.6 L437.6,622.2 L439.0,630.2 L440.3,637.8 L441.6,644.3 L443.0,648.7 L444.3,650.7 L445.7,651.4 L447.0,651.7 L448.3,652.0 L449.7,652.2 L451.0,652.3 L451.0,675Z" fill="#2cd860" filter="url(#bl1)"/><path d="M304.0,675 L304.0,654.2 L305.3,654.2 L306.7,654.1 L308.0,654.0 L309.3,653.9 L310.7,653.8 L312.0,653.6 L313.4,653.4 L314.7,653.2 L316.0,652.9 L317.4,652.6 L318.7,652.3 L320.0,652.0 L321.4,651.7 L322.7,651.4 L324.0,651.2 L325.4,650.9 L326.7,650.8 L328.1,650.7 L329.4,650.7 L330.7,650.8 L332.1,650.9 L333.4,651.1 L334.7,651.3 L336.1,651.6 L337.4,651.9 L338.7,652.2 L340.1,652.5 L341.4,652.8 L342.8,653.1 L344.1,653.3 L345.4,653.5 L346.8,653.7 L348.1,653.9 L349.4,654.0 L350.8,654.1 L352.1,654.1 L353.4,654.2 L354.8,654.2 L356.1,654.3 L357.5,654.3 L358.8,654.3 L360.1,654.3 L361.5,654.3 L362.8,654.3 L364.1,654.3 L365.5,654.2 L366.8,654.0 L368.1,653.6 L369.5,652.7 L370.8,651.4 L372.2,649.8 L373.5,648.1 L374.8,646.9 L376.2,646.3 L377.5,646.9 L378.8,648.2 L380.2,649.8 L381.5,651.4 L382.8,652.8 L384.2,653.6 L385.5,654.1 L386.9,654.2 L388.2,654.3 L389.5,654.3 L390.9,654.3 L392.2,654.3 L393.5,654.3 L394.9,654.3 L396.2,654.3 L397.5,654.3 L398.9,654.2 L400.2,654.2 L401.6,654.2 L402.9,654.1 L404.2,654.1 L405.6,654.0 L406.9,653.9 L408.2,653.8 L409.6,653.6 L410.9,653.3 L412.2,652.5 L413.6,650.1 L414.9,645.7 L416.3,639.7 L417.6,632.8 L418.9,625.7 L420.3,618.9 L421.6,613.0 L422.9,608.4 L424.3,605.4 L425.6,603.9 L426.9,603.6 L428.3,604.2 L429.6,606.0 L431.0,609.5 L432.3,614.4 L433.6,620.5 L435.0,627.5 L436.3,634.6 L437.6,641.4 L439.0,647.0 L440.3,650.9 L441.6,652.8 L443.0,653.4 L444.3,653.7 L445.7,653.8 L447.0,653.9 L448.3,654.0 L449.7,654.1 L451.0,654.1 L451.0,675Z" fill="#90e030" filter="url(#bl1)"/><path d="M304.0,675 L304.0,657.1 L305.3,657.0 L306.7,657.0 L308.0,656.9 L309.3,656.8 L310.7,656.7 L312.0,656.6 L313.4,656.5 L314.7,656.3 L316.0,656.1 L317.4,655.9 L318.7,655.6 L320.0,655.4 L321.4,655.2 L322.7,654.9 L324.0,654.8 L325.4,654.6 L326.7,654.5 L328.1,654.4 L329.4,654.4 L330.7,654.5 L332.1,654.6 L333.4,654.7 L334.7,654.9 L336.1,655.1 L337.4,655.3 L338.7,655.6 L340.1,655.8 L341.4,656.0 L342.8,656.2 L344.1,656.4 L345.4,656.6 L346.8,656.7 L348.1,656.8 L349.4,656.9 L350.8,657.0 L352.1,657.0 L353.4,657.1 L354.8,657.1 L356.1,657.1 L357.5,657.1 L358.8,657.1 L360.1,657.1 L361.5,657.1 L362.8,657.1 L364.1,657.1 L365.5,657.1 L366.8,657.1 L368.1,657.1 L369.5,657.1 L370.8,656.9 L372.2,656.6 L373.5,656.2 L374.8,655.8 L376.2,655.5 L377.5,655.8 L378.8,656.2 L380.2,656.6 L381.5,656.9 L382.8,657.1 L384.2,657.1 L385.5,657.1 L386.9,657.1 L388.2,657.1 L389.5,657.1 L390.9,657.1 L392.2,657.1 L393.5,657.1 L394.9,657.1 L396.2,657.1 L397.5,657.1 L398.9,657.1 L400.2,657.1 L401.6,657.0 L402.9,657.0 L404.2,657.0 L405.6,656.9 L406.9,656.8 L408.2,656.7 L409.6,656.6 L410.9,656.5 L412.2,656.4 L413.6,656.2 L414.9,655.5 L416.3,654.1 L417.6,651.4 L418.9,647.7 L420.3,643.5 L421.6,639.3 L422.9,635.4 L424.3,632.3 L425.6,630.4 L426.9,629.8 L428.3,630.8 L429.6,633.0 L431.0,636.3 L432.3,640.4 L433.6,644.6 L435.0,648.7 L436.3,652.2 L437.6,654.6 L439.0,655.8 L440.3,656.2 L441.6,656.4 L443.0,656.6 L444.3,656.7 L445.7,656.8 L447.0,656.8 L448.3,656.9 L449.7,657.0 L451.0,657.0 L451.0,675Z" fill="#f2ee10" filter="url(#bl1)"/><path d="M304.0,675 L304.0,659.8 L305.3,659.8 L306.7,659.8 L308.0,659.7 L309.3,659.7 L310.7,659.6 L312.0,659.5 L313.4,659.4 L314.7,659.3 L316.0,659.1 L317.4,659.0 L318.7,658.8 L320.0,658.6 L321.4,658.5 L322.7,658.3 L324.0,658.2 L325.4,658.1 L326.7,658.0 L328.1,658.0 L329.4,658.0 L330.7,658.0 L332.1,658.1 L333.4,658.2 L334.7,658.3 L336.1,658.4 L337.4,658.6 L338.7,658.8 L340.1,658.9 L341.4,659.1 L342.8,659.2 L344.1,659.4 L345.4,659.5 L346.8,659.6 L348.1,659.6 L349.4,659.7 L350.8,659.7 L352.1,659.8 L353.4,659.8 L354.8,659.8 L356.1,659.8 L357.5,659.9 L358.8,659.9 L360.1,659.9 L361.5,659.9 L362.8,659.9 L364.1,659.9 L365.5,659.9 L366.8,659.9 L368.1,659.8 L369.5,659.8 L370.8,659.8 L372.2,659.7 L373.5,659.5 L374.8,659.3 L376.2,659.2 L377.5,659.3 L378.8,659.5 L380.2,659.7 L381.5,659.8 L382.8,659.8 L384.2,659.8 L385.5,659.8 L386.9,659.8 L388.2,659.8 L389.5,659.8 L390.9,659.7 L392.2,659.7 L393.5,659.6 L394.9,659.5 L396.2,659.4 L397.5,659.3 L398.9,659.2 L400.2,659.1 L401.6,659.1 L402.9,659.1 L404.2,659.0 L405.6,659.0 L406.9,659.0 L408.2,658.9 L409.6,658.8 L410.9,658.8 L412.2,658.7 L413.6,658.6 L414.9,658.5 L416.3,658.4 L417.6,657.9 L418.9,656.8 L420.3,654.9 L421.6,652.3 L422.9,649.5 L424.3,646.9 L425.6,644.9 L426.9,644.3 L428.3,645.3 L429.6,647.5 L431.0,650.2 L432.3,653.0 L433.6,655.4 L435.0,657.2 L436.3,658.1 L437.6,658.4 L439.0,658.6 L440.3,658.6 L441.6,658.7 L443.0,658.8 L444.3,658.9 L445.7,658.9 L447.0,659.0 L448.3,659.0 L449.7,659.0 L451.0,659.1 L451.0,675Z" fill="#ffc000" filter="url(#bl1)"/><path d="M304.0,675 L304.0,670.0 L305.3,670.0 L306.7,670.0 L308.0,670.0 L309.3,670.0 L310.7,670.0 L312.0,670.0 L313.4,670.0 L314.7,670.0 L316.0,670.0 L317.4,670.0 L318.7,670.0 L320.0,670.0 L321.4,670.0 L322.7,670.0 L324.0,670.0 L325.4,670.0 L326.7,669.9 L328.1,669.9 L329.4,669.9 L330.7,669.9 L332.1,669.8 L333.4,669.8 L334.7,669.8 L336.1,669.7 L337.4,669.7 L338.7,669.6 L340.1,669.5 L341.4,669.4 L342.8,669.3 L344.1,669.2 L345.4,669.1 L346.8,668.9 L348.1,668.8 L349.4,668.6 L350.8,668.4 L352.1,668.2 L353.4,668.0 L354.8,667.8 L356.1,667.6 L357.5,667.4 L358.8,667.1 L360.1,666.9 L361.5,666.6 L362.8,666.4 L364.1,666.2 L365.5,666.0 L366.8,665.8 L368.1,665.6 L369.5,665.4 L370.8,665.1 L372.2,664.3 L373.5,663.6 L374.8,663.1 L376.2,662.8 L377.5,663.1 L378.8,663.6 L380.2,664.4 L381.5,665.1 L382.8,665.4 L384.2,665.6 L385.5,665.7 L386.9,665.9 L388.2,666.1 L389.5,666.2 L390.9,666.2 L392.2,666.2 L393.5,666.0 L394.9,665.8 L396.2,665.5 L397.5,665.1 L398.9,664.7 L400.2,664.2 L401.6,663.9 L402.9,663.8 L404.2,663.6 L405.6,663.1 L406.9,662.2 L408.2,661.1 L409.6,660.7 L410.9,660.6 L412.2,660.6 L413.6,660.6 L414.9,660.5 L416.3,660.5 L417.6,660.4 L418.9,660.3 L420.3,660.0 L421.6,658.9 L422.9,657.1 L424.3,655.1 L425.6,653.5 L426.9,652.9 L428.3,653.9 L429.6,655.6 L431.0,657.6 L432.3,659.3 L433.6,660.1 L435.0,660.4 L436.3,660.5 L437.6,660.5 L439.0,660.5 L440.3,660.6 L441.6,660.6 L443.0,660.7 L444.3,660.7 L445.7,661.3 L447.0,662.4 L448.3,663.3 L449.7,663.6 L451.0,663.8 L451.0,675Z" fill="#ff8000" filter="url(#bl1)"/><path d="M304.0,675 L304.0,670.0 L305.3,670.0 L306.7,670.0 L308.0,670.0 L309.3,670.0 L310.7,670.0 L312.0,670.0 L313.4,670.0 L314.7,670.0 L316.0,670.0 L317.4,670.0 L318.7,670.0 L320.0,670.0 L321.4,670.0 L322.7,670.0 L324.0,670.0 L325.4,670.0 L326.7,670.0 L328.1,670.0 L329.4,669.9 L330.7,669.9 L332.1,669.9 L333.4,669.9 L334.7,669.9 L336.1,669.8 L337.4,669.8 L338.7,669.7 L340.1,669.7 L341.4,669.6 L342.8,669.6 L344.1,669.5 L345.4,669.4 L346.8,669.3 L348.1,669.3 L349.4,669.1 L350.8,669.0 L352.1,668.9 L353.4,668.8 L354.8,668.6 L356.1,668.5 L357.5,668.4 L358.8,668.2 L360.1,668.1 L361.5,667.9 L362.8,667.8 L364.1,667.6 L365.5,667.5 L366.8,667.4 L368.1,667.3 L369.5,667.2 L370.8,667.1 L372.2,666.9 L373.5,666.0 L374.8,664.5 L376.2,663.9 L377.5,664.5 L378.8,666.0 L380.2,666.9 L381.5,667.1 L382.8,667.2 L384.2,667.3 L385.5,667.4 L386.9,667.5 L388.2,667.6 L389.5,667.6 L390.9,667.7 L392.2,667.6 L393.5,667.5 L394.9,667.4 L396.2,667.2 L397.5,667.0 L398.9,666.7 L400.2,666.4 L401.6,666.1 L402.9,665.8 L404.2,665.5 L405.6,665.2 L406.9,664.9 L408.2,664.6 L409.6,664.3 L410.9,663.9 L412.2,663.2 L413.6,662.6 L414.9,662.6 L416.3,662.6 L417.6,662.6 L418.9,662.5 L420.3,662.5 L421.6,662.3 L422.9,661.3 L424.3,659.6 L425.6,657.9 L426.9,657.3 L428.3,658.3 L429.6,660.0 L431.0,661.6 L432.3,662.4 L433.6,662.5 L435.0,662.6 L436.3,662.6 L437.6,662.6 L439.0,662.6 L440.3,662.7 L441.6,663.4 L443.0,664.0 L444.3,664.3 L445.7,664.7 L447.0,665.0 L448.3,665.3 L449.7,665.6 L451.0,665.9 L451.0,675Z" fill="#f83400" filter="url(#bl1)"/><path d="M304.0,675 L304.0,670.0 L305.3,670.0 L306.7,670.0 L308.0,670.0 L309.3,670.0 L310.7,670.0 L312.0,670.0 L313.4,670.0 L314.7,670.0 L316.0,670.0 L317.4,670.0 L318.7,670.0 L320.0,670.0 L321.4,670.0 L322.7,670.0 L324.0,670.0 L325.4,670.0 L326.7,670.0 L328.1,670.0 L329.4,670.0 L330.7,670.0 L332.1,670.0 L333.4,669.9 L334.7,669.9 L336.1,669.9 L337.4,669.9 L338.7,669.9 L340.1,669.9 L341.4,669.8 L342.8,669.8 L344.1,669.8 L345.4,669.7 L346.8,669.7 L348.1,669.7 L349.4,669.6 L350.8,669.6 L352.1,669.5 L353.4,669.5 L354.8,669.4 L356.1,669.3 L357.5,669.3 L358.8,669.2 L360.1,669.1 L361.5,669.1 L362.8,669.0 L364.1,668.9 L365.5,668.9 L366.8,668.8 L368.1,668.8 L369.5,668.7 L370.8,668.7 L372.2,668.7 L373.5,668.5 L374.8,667.3 L376.2,666.3 L377.5,667.3 L378.8,668.5 L380.2,668.7 L381.5,668.7 L382.8,668.7 L384.2,668.8 L385.5,668.8 L386.9,668.9 L388.2,668.9 L389.5,668.9 L390.9,669.0 L392.2,668.9 L393.5,668.9 L394.9,668.8 L396.2,668.7 L397.5,668.6 L398.9,668.5 L400.2,668.4 L401.6,668.3 L402.9,668.1 L404.2,668.0 L405.6,667.9 L406.9,667.7 L408.2,667.6 L409.6,667.4 L410.9,667.3 L412.2,667.2 L413.6,667.1 L414.9,666.9 L416.3,665.0 L417.6,663.9 L418.9,663.9 L420.3,663.9 L421.6,663.9 L422.9,663.9 L424.3,663.2 L425.6,661.7 L426.9,660.9 L428.3,662.1 L429.6,663.5 L431.0,663.9 L432.3,663.9 L433.6,663.9 L435.0,663.9 L436.3,663.9 L437.6,665.6 L439.0,667.0 L440.3,667.1 L441.6,667.2 L443.0,667.3 L444.3,667.5 L445.7,667.6 L447.0,667.8 L448.3,667.9 L449.7,668.0 L451.0,668.2 L451.0,675Z" fill="#e20020" filter="url(#bl1)"/></g><text x="374.5" y="608.6" font-size="26" font-weight="bold" fill="#fff" text-anchor="middle" >90s</text>
<text x="66.2" y="553.8" font-size="12.5" font-weight="bold" fill="#fff" text-anchor="middle" >(1)</text>
<text x="109" y="553.8" font-size="12.5" font-weight="bold" fill="#fff" text-anchor="middle" >(2)</text>
<text x="152.6" y="553.8" font-size="12.5" font-weight="bold" fill="#fff" text-anchor="middle" >(3)</text>
<rect x="446.5" y="493.5" width="46.5" height="173" fill="#f1f1f1"/>
<rect x="447.4" y="494.2" width="16" height="170.6" fill="#8a8a8a"/>
<rect x="448.6" y="495.6" width="13.6" height="167.8" fill="url(#cbar)"/>
<text x="469.6" y="504.20000000000005" font-size="7.4" font-weight="bold" fill="#333">90<tspan font-size="4.6" dy="-2.4">o</tspan><tspan dy="2.4">C</tspan></text>
<text x="469.6" y="526.0" font-size="7.4" font-weight="bold" fill="#333">80<tspan font-size="4.6" dy="-2.4">o</tspan><tspan dy="2.4">C</tspan></text>
<text x="469.6" y="548.7" font-size="7.4" font-weight="bold" fill="#333">70<tspan font-size="4.6" dy="-2.4">o</tspan><tspan dy="2.4">C</tspan></text>
<text x="469.6" y="571.4" font-size="7.4" font-weight="bold" fill="#333">60<tspan font-size="4.6" dy="-2.4">o</tspan><tspan dy="2.4">C</tspan></text>
<text x="469.6" y="594.2" font-size="7.4" font-weight="bold" fill="#333">50<tspan font-size="4.6" dy="-2.4">o</tspan><tspan dy="2.4">C</tspan></text>
<text x="469.6" y="616.3000000000001" font-size="7.4" font-weight="bold" fill="#333">40<tspan font-size="4.6" dy="-2.4">o</tspan><tspan dy="2.4">C</tspan></text>
<text x="469.6" y="639.0" font-size="7.4" font-weight="bold" fill="#333">30<tspan font-size="4.6" dy="-2.4">o</tspan><tspan dy="2.4">C</tspan></text>
<text x="469.6" y="661.8000000000001" font-size="7.4" font-weight="bold" fill="#333">20<tspan font-size="4.6" dy="-2.4">o</tspan><tspan dy="2.4">C</tspan></text>
<rect x="40.5" y="665.8" width="452.5" height="21" fill="#eeeeee"/>
<text x="56.4" y="681.6" font-size="13.3" font-weight="bold" fill="#1a1a1a" text-anchor="start" textLength="74.4" lengthAdjust="spacingAndGlyphs" >(1) Pure SR</text>
<text x="139.6" y="681.6" font-size="13.3" font-weight="bold" fill="#1a1a1a" text-anchor="start" textLength="171.8" lengthAdjust="spacingAndGlyphs" >(2) R-CFs@SiC/Ferrite/SR</text>
<text x="318.9" y="681.6" font-size="13.3" font-weight="bold" fill="#1a1a1a" text-anchor="start" textLength="168.6" lengthAdjust="spacingAndGlyphs" >(3) V-CFs@SiC/Ferrite/SR</text>
<path d="M515.6,609 L681.8,634.5 L681.8,686.6 L515.6,661.2Z" fill="url(#hfront)"/>
<path d="M681.8,634.5 L762.7,586 L762.7,636.2 L681.8,686.6Z" fill="url(#hside)"/>
<path d="M515.6,606 L681.8,630.5 L762.7,581.5 L762.7,586.3 L681.8,635 L515.6,610.4Z" fill="#e9f3fb"/>
<path d="M515.6,598.3 L681.8,624.3 L681.8,631 L515.6,606.8Z" fill="#efc400"/>
<path d="M681.8,624.3 L762.7,574.2 L762.7,580.6 L681.8,631Z" fill="#16130c"/>
<path d="M515.6,598.3 L595.7,548.2 L762.7,574.2 L681.8,624.3Z" fill="#ffd800"/>
<path d="M550.1,592.8 L607.6,557.5 L726.3,576.1 L672.5,611.3Z" fill="#ffffff"/>
<rect x="631.7" y="524.5" width="16.7" height="65" fill="url(#rod)"/>
<ellipse cx="640.05" cy="589.5" rx="8.35" ry="2.6" fill="#625e5e"/>
<ellipse cx="640.05" cy="524.5" rx="8.35" ry="2.6" fill="#8c8888"/>
<path d="M535.5,621.6 L571,627.4 L571,663 L535.5,658.4Z" fill="#1c2a5a"/>
<path d="M537,623.4 L569.5,628.8 L569.5,661.2 L537,656.8Z" fill="#020204"/>
<circle cx="634.7" cy="642.1" r="7.7" fill="#f00c0c" stroke="#8a1010" stroke-width="0.6"/>
<circle cx="634.7" cy="666.2" r="7.7" fill="#0a8a2e" stroke="#064a1a" stroke-width="0.6"/>
</g>
</svg>
</body></html>
